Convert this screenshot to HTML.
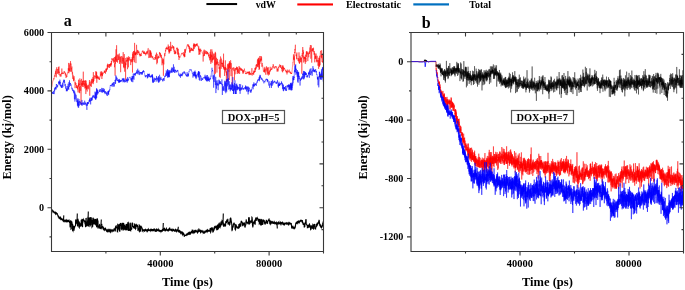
<!DOCTYPE html>
<html><head><meta charset="utf-8"><style>
html,body{margin:0;padding:0;background:#fff;width:685px;height:290px;overflow:hidden}
svg{display:block;will-change:transform}
</style></head><body>
<svg width="685" height="290" viewBox="0 0 685 290">
<rect width="685" height="290" fill="#fff"/>
<path d="M51.50 210.02l.1 -.29 .1 .08 .1 -.05 .1 -.05 .1 .46 .1 .15 .1 -.01 .1 .65 .1 -.36 .1 .16 .1 .25 .1 .25 .1 -.67 .1 .88 .1 .48 .1 -.8 .1 .6 .1 -.24 .1 -.09 .1 .51 .1 -.05 .1 -.56 .1 .6 .1 .56 .1 -.41 .1 .02 .1 .21 .1 .05 .1 .48 .1 -.48 .1 -.04 .1 .64 .1 .22 .1 -.02 .1 .12 .1 -.48 .1 -.25 .1 .31 .1 .28 .1 -.54 .1 .52 .1 .32 .1 -.4 .1 .97 .1 -.39 .1 -.65 .1 .12 .1 .19 .1 .53 .1 -.05 .1 -.31 .1 .29 .1 .26 .1 -.01 .1 -.7 .1 .38 .1 .23 .1 -.08 .1 1.1 .1 -.32 .1 .19 .1 .14 .1 .59 .1 .3 .1 .29 .1 .37 .1 -.58 .1 1.06 .1 .46 .1 -.87 .1 .23 .1 .45 .1 .29 .1 -.35 .1 -.02 .1 1.07 .1 -.83 .1 -.72 .1 1.2 .1 .23 .1 .41 .1 .09 .1 .53 .1 -1.21 .1 -.08 .1 -.1 .1 1.17 .1 -.68 .1 -.37 .1 -.19 .1 .82 .1 -.13 .1 .33 .1 -.35 .1 .15 .1 .48 .1 -.17 .1 .33 .1 -.19 .1 .01 .1 .28 .1 -.01 .1 .24 .1 .02 .1 -.28 .1 .2 .1 .13 .1 .26 .1 -.09 .1 .07 .1 .14 .1 -.21 .1 .29 .1 -.32 .1 -.32 .1 .9 .1 -.77 .1 .71 .1 .64 .1 -.23 .1 -.56 .1 .66 .1 -.12 .1 -.32 .1 .34 .1 -.1 .1 .13 .1 .27 .1 -.6 .1 .87 .1 .46 .1 -.7 .1 -.24 .1 .25 .1 .62 .1 -.6 .1 .34 .1 .4 .1 -1.04 .1 .29 .1 -.24 .1 .25 .1 .17 .1 -.3 .1 .42 .1 -.1 .1 .31 .1 -.16 .1 -.32 .1 .39 .1 -.59 .1 .28 .1 -.34 .1 .73 .1 -.75 .1 .59 .1 -.69 .1 .33 .1 -.44 .1 .1 .1 -.06 .1 .48 .1 .03 .1 .08 .1 .21 .1 -.21 .1 .31 .1 .31 .1 -.67 .1 -.13 .1 .46 .1 .52 .1 -1.05 .1 -.09 .1 -.24 .1 .4 .1 .23 .1 .28 .1 1 .1 .38 .1 -.79 .1 -.38 .1 -.13 .1 -.65 .1 5.53 .1 .3 .1 -.1 .1 -2.71 .1 .81 .1 -1.01 .1 .23 .1 -3.58 .1 .25 .1 .32 .1 8.02 .1 -.09 .1 -.22 .1 .67 .1 -7.73 .1 .46 .1 -.1 .1 .16 .1 .14 .1 -.58 .1 1.29 .1 1.12 .1 .42 .1 .04 .1 -.41 .1 -.3 .1 7.23 .1 -.56 .1 .28 .1 .16 .1 -4.43 .1 -.46 .1 .33 .1 .39 .1 -.48 .1 .56 .1 -.87 .1 3.86 .1 -.3 .1 .25 .1 .84 .1 -.63 .1 -1.44 .1 -.43 .1 .32 .1 -.75 .1 -.91 .1 .58 .1 -1.3 .1 .23 .1 -.15 .1 .11 .1 -.04 .1 -.4 .1 -.53 .1 .64 .1 -5.41 .1 -.53 .1 .05 .1 .09 .1 -.47 .1 .9 .1 .05 .1 1.99 .1 -.46 .1 .27 .1 .43 .1 -.28 .1 -.18 .1 -.21 .1 -.06 .1 .46 .1 -.44 .1 .79 .1 .05 .1 3.3 .1 -.82 .1 .48 .1 .54 .1 -7.06 .1 -.05 .1 .25 .1 .93 .1 .61 .1 -.51 .1 .78 .1 .04 .1 .12 .1 -.24 .1 .1 .1 5.84 .1 .49 .1 -.34 .1 .19 .1 -.44 .1 -2.92 .1 -.41 .1 -.23 .1 .16 .1 -.4 .1 .18 .1 2.42 .1 -.09 .1 .07 .1 -.06 .1 -.35 .1 .12 .1 .61 .1 -.7 .1 -.51 .1 .52 .1 -.16 .1 -5.01 .1 .03 .1 -.38 .1 .5 .1 -.22 .1 .26 .1 -.46 .1 .22 .1 .18 .1 .72 .1 4.79 .1 1.01 .1 -.42 .1 .41 .1 -.55 .1 -7.1 .1 -.01 .1 .6 .1 -.8 .1 .69 .1 -.37 .1 .37 .1 -.38 .1 .21 .1 .78 .1 .05 .1 -.52 .1 -0 .1 .71 .1 -.61 .1 1.22 .1 -.17 .1 -.46 .1 .5 .1 -.01 .1 .65 .1 -1.29 .1 .47 .1 3.24 .1 -.42 .1 -.57 .1 .96 .1 -.17 .1 2.46 .1 -.06 .1 .1 .1 .3 .1 -1.6 .1 -7.26 .1 .33 .1 .24 .1 6.55 .1 .75 .1 -.38 .1 .19 .1 -.07 .1 .02 .1 -.11 .1 -.88 .1 .45 .1 .62 .1 -4.05 .1 .39 .1 -.59 .1 -.96 .1 .74 .1 -3.28 .1 -.4 .1 .07 .1 8.05 .1 .74 .1 -.26 .1 -6.57 .1 .01 .1 -.39 .1 -.24 .1 -.1 .1 6.99 .1 .13 .1 -7.75 .1 -.82 .1 7.76 .1 -.53 .1 -6.8 .1 .46 .1 -.1 .1 -.38 .1 -.05 .1 .6 .1 -.43 .1 -.04 .1 5.91 .1 1.25 .1 -.22 .1 -.44 .1 .6 .1 -.59 .1 -6.96 .1 .32 .1 .32 .1 -.87 .1 .83 .1 3.09 .1 .12 .1 -.34 .1 .23 .1 -.97 .1 .59 .1 6.25 .1 -.15 .1 -.09 .1 -.51 .1 .38 .1 -.53 .1 .53 .1 .21 .1 -8.61 .1 .36 .1 -.16 .1 .32 .1 -.42 .1 -.43 .1 5.97 .1 .19 .1 .27 .1 -3.44 .1 -.28 .1 .31 .1 -.26 .1 .46 .1 -.67 .1 .88 .1 -.3 .1 3.04 .1 -.22 .1 .58 .1 -.39 .1 -4.68 .1 .42 .1 -.54 .1 .05 .1 .14 .1 -.34 .1 .89 .1 4.5 .1 .35 .1 -.09 .1 -.29 .1 .71 .1 -4.28 .1 -.32 .1 .03 .1 -.41 .1 .33 .1 6.21 .1 .04 .1 -.59 .1 .57 .1 .16 .1 -.04 .1 .19 .1 -1.06 .1 -7.15 .1 -.38 .1 3.63 .1 -.46 .1 .32 .1 -.53 .1 -.82 .1 5.53 .1 .01 .1 .26 .1 -.5 .1 .84 .1 .43 .1 -.23 .1 .31 .1 -1.08 .1 .53 .1 .68 .1 -.1 .1 .16 .1 -2.27 .1 -.4 .1 -.09 .1 .91 .1 .23 .1 -.75 .1 1.28 .1 -1.17 .1 .3 .1 .67 .1 1.96 .1 -.04 .1 .43 .1 -.57 .1 .02 .1 1.05 .1 -.48 .1 .22 .1 -.13 .1 -.32 .1 -1.06 .1 .39 .1 -.87 .1 -2.27 .1 -.02 .1 .93 .1 1.49 .1 -.74 .1 .97 .1 -.05 .1 .57 .1 -.78 .1 .39 .1 .35 .1 -.18 .1 .87 .1 -.11 .1 .38 .1 .23 .1 .17 .1 -1.25 .1 .91 .1 .18 .1 -.42 .1 .32 .1 .05 .1 1.11 .1 .06 .1 -.97 .1 .28 .1 .19 .1 .13 .1 -.25 .1 .56 .1 -.88 .1 .65 .1 -.25 .1 .75 .1 -.34 .1 -.32 .1 .44 .1 .37 .1 -.62 .1 -.28 .1 .55 .1 .08 .1 -.19 .1 .33 .1 .2 .1 -.05 .1 .27 .1 -.4 .1 -.41 .1 .78 .1 -.31 .1 .98 .1 -.46 .1 .25 .1 -.61 .1 .35 .1 -.31 .1 -.28 .1 -.17 .1 .45 .1 -.27 .1 .13 .1 -.17 .1 -.16 .1 .85 .1 -.14 .1 -.16 .1 .51 .1 .41 .1 -.69 .1 -.16 .1 .69 .1 -.14 .1 .32 .1 -1.31 .1 .39 .1 -.44 .1 .26 .1 .3 .1 -.16 .1 -.29 .1 -.15 .1 1.07 .1 -.2 .1 -.19 .1 .52 .1 -.36 .1 .88 .1 .26 .1 -.34 .1 .58 .1 -1.41 .1 -.34 .1 .28 .1 -.58 .1 .43 .1 .25 .1 -.04 .1 .05 .1 -.8 .1 .03 .1 .1 .1 -.11 .1 .33 .1 -.47 .1 .11 .1 .85 .1 -.2 .1 -.3 .1 -.01 .1 -.22 .1 -.46 .1 .69 .1 -.64 .1 1.18 .1 -.46 .1 .83 .1 -.71 .1 .15 .1 -.19 .1 -1.29 .1 -.19 .1 -.38 .1 .6 .1 -.36 .1 1.05 .1 -.89 .1 .2 .1 .15 .1 -.09 .1 .42 .1 .31 .1 -.19 .1 .32 .1 .77 .1 -.07 .1 -.76 .1 -2.68 .1 -.57 .1 .01 .1 -.11 .1 -.54 .1 -.11 .1 .32 .1 -1.25 .1 2.02 .1 -.02 .1 .08 .1 .28 .1 .23 .1 -.38 .1 .1 .1 -.75 .1 .56 .1 -.55 .1 4.88 .1 .35 .1 -.69 .1 .11 .1 -6.51 .1 .17 .1 3.53 .1 .1 .1 -2.89 .1 .11 .1 -.53 .1 3.8 .1 -1.23 .1 .68 .1 -.31 .1 -.07 .1 -4.46 .1 .34 .1 -0 .1 .06 .1 6.2 .1 .15 .1 -.47 .1 .7 .1 -.7 .1 1.43 .1 -1.41 .1 -5.76 .1 .29 .1 -.11 .1 .43 .1 .05 .1 -1.62 .1 -.02 .1 -.02 .1 .43 .1 .18 .1 -.11 .1 -.28 .1 .06 .1 5.24 .1 .21 .1 -.45 .1 .42 .1 -.52 .1 .18 .1 .32 .1 -.69 .1 -.61 .1 .21 .1 .33 .1 -5.53 .1 .32 .1 .52 .1 -.59 .1 .58 .1 6.36 .1 -.67 .1 .7 .1 -.04 .1 -5.87 .1 -.27 .1 .03 .1 -.29 .1 -.11 .1 .29 .1 5.66 .1 -.45 .1 .77 .1 -.75 .1 -3.47 .1 -.58 .1 1.01 .1 -.29 .1 .2 .1 .14 .1 .93 .1 -.34 .1 -.39 .1 4.12 .1 -.39 .1 -1.08 .1 .37 .1 -.62 .1 .42 .1 .71 .1 -.52 .1 -4.85 .1 .57 .1 -.1 .1 -.67 .1 .67 .1 -.09 .1 5.44 .1 -.27 .1 .45 .1 -.39 .1 -.11 .1 .49 .1 -.62 .1 .46 .1 -5.23 .1 -.77 .1 .29 .1 .12 .1 -2.25 .1 .43 .1 -.03 .1 -0 .1 -.13 .1 .75 .1 -.78 .1 7.58 .1 .23 .1 .33 .1 -1.12 .1 .09 .1 .08 .1 .25 .1 .42 .1 -.48 .1 .09 .1 -.19 .1 -.65 .1 .16 .1 -5.05 .1 -.43 .1 -.49 .1 -0 .1 .63 .1 -.78 .1 .1 .1 6.96 .1 .2 .1 .13 .1 -.92 .1 -.83 .1 -1.33 .1 .87 .1 1.34 .1 -.47 .1 -.29 .1 -.56 .1 .08 .1 .83 .1 -.43 .1 -4.89 .1 -.53 .1 0 .1 -.47 .1 -.01 .1 .94 .1 -1.1 .1 .71 .1 -.59 .1 3.08 .1 -.06 .1 .33 .1 .05 .1 .28 .1 -.51 .1 .41 .1 -.33 .1 1.01 .1 .49 .1 -.05 .1 -.68 .1 .59 .1 -.68 .1 .27 .1 -.61 .1 -.1 .1 -1.72 .1 -.39 .1 .24 .1 .18 .1 0 .1 -.86 .1 .28 .1 4.48 .1 -.86 .1 .6 .1 .42 .1 -.2 .1 -.12 .1 -.18 .1 .23 .1 -2.54 .1 -1.31 .1 .53 .1 -.09 .1 -.72 .1 .8 .1 -.29 .1 .28 .1 -.48 .1 .68 .1 -.54 .1 1.42 .1 -.34 .1 -.06 .1 -.35 .1 -.08 .1 1.57 .1 -.67 .1 0 .1 3.34 .1 -.12 .1 .22 .1 -.65 .1 -.26 .1 .01 .1 .69 .1 -.34 .1 .18 .1 .05 .1 -.11 .1 .02 .1 -.11 .1 -4.28 .1 .06 .1 5.8 .1 .45 .1 -.19 .1 -1.56 .1 -4.08 .1 .39 .1 -.34 .1 .55 .1 4.01 .1 .63 .1 -.67 .1 .64 .1 -.12 .1 .09 .1 -4.97 .1 .43 .1 .28 .1 -.65 .1 .78 .1 .29 .1 .33 .1 -.01 .1 -.31 .1 1 .1 -.46 .1 .66 .1 .4 .1 -.11 .1 .05 .1 .4 .1 .73 .1 1.77 .1 -.49 .1 .39 .1 .26 .1 .1 .1 -1.42 .1 -.08 .1 .04 .1 -.57 .1 -.38 .1 1.09 .1 -.6 .1 -.41 .1 .43 .1 .62 .1 .51 .1 -.44 .1 -.63 .1 .74 .1 -1.1 .1 1 .1 -.16 .1 .3 .1 -.25 .1 -.08 .1 -.36 .1 -.16 .1 .13 .1 .66 .1 -.6 .1 .18 .1 -.15 .1 .4 .1 -.07 .1 .54 .1 .04 .1 -.36 .1 -.2 .1 -.36 .1 -.48 .1 .58 .1 -.05 .1 .27 .1 .47 .1 .26 .1 -.66 .1 .62 .1 -.17 .1 -.33 .1 .22 .1 -.68 .1 -.33 .1 .04 .1 .48 .1 -.27 .1 .23 .1 -.37 .1 .42 .1 .28 .1 -.86 .1 -.25 .1 .45 .1 .23 .1 .05 .1 -.25 .1 1.17 .1 -.73 .1 -.14 .1 -.73 .1 1.52 .1 -.87 .1 1 .1 -.26 .1 -.13 .1 -.15 .1 .41 .1 -.54 .1 .34 .1 -.3 .1 .07 .1 -.26 .1 -.15 .1 -.72 .1 .03 .1 .32 .1 -.06 .1 .23 .1 .44 .1 -.23 .1 .67 .1 -.37 .1 .32 .1 -.55 .1 .85 .1 -.43 .1 -.77 .1 .05 .1 -.69 .1 .81 .1 -.43 .1 .52 .1 .54 .1 .48 .1 -.85 .1 .8 .1 -1.33 .1 .46 .1 -.32 .1 .31 .1 .67 .1 -.51 .1 -.77 .1 1.05 .1 -.37 .1 -.4 .1 -.12 .1 .37 .1 -.08 .1 .41 .1 -.45 .1 .13 .1 -.3 .1 .46 .1 -.77 .1 .83 .1 .71 .1 -.03 .1 -.24 .1 .79 .1 -1.1 .1 .84 .1 .04 .1 -.97 .1 .08 .1 .1 .1 -.32 .1 .02 .1 .04 .1 -.56 .1 -.17 .1 .94 .1 -.19 .1 -.06 .1 .19 .1 -.46 .1 .07 .1 .53 .1 -.42 .1 .19 .1 .22 .1 .25 .1 -.93 .1 .13 .1 -.29 .1 .58 .1 .44 .1 -.36 .1 .77 .1 -.92 .1 -.46 .1 .32 .1 .98 .1 -1.05 .1 .31 .1 -.26 .1 -.08 .1 .81 .1 -.82 .1 .4 .1 .38 .1 .04 .1 .4 .1 -.1 .1 .41 .1 -1.03 .1 .24 .1 -0 .1 .15 .1 -.82 .1 .98 .1 -.88 .1 .66 .1 -.18 .1 .1 .1 .83 .1 -.36 .1 -.92 .1 1.14 .1 -.21 .1 -.41 .1 -.46 .1 -.04 .1 0 .1 .22 .1 -.36 .1 .64 .1 -.49 .1 -.16 .1 .17 .1 .14 .1 .36 .1 -.18 .1 -.55 .1 -.89 .1 -.15 .1 .47 .1 .31 .1 .67 .1 -.05 .1 -.18 .1 .02 .1 -.14 .1 .59 .1 -1.84 .1 .09 .1 .65 .1 -.33 .1 .33 .1 -.41 .1 .28 .1 -.15 .1 -.56 .1 .62 .1 .22 .1 -.51 .1 .16 .1 .27 .1 .32 .1 -.41 .1 .41 .1 -.96 .1 .82 .1 -.93 .1 1.01 .1 -.3 .1 .67 .1 -.12 .1 -.83 .1 -.31 .1 1.69 .1 -1.45 .1 -.48 .1 .27 .1 .16 .1 .72 .1 .33 .1 -.14 .1 -.34 .1 .57 .1 -.84 .1 1.01 .1 -.05 .1 -.5 .1 -.58 .1 .32 .1 .18 .1 .75 .1 -.1 .1 -.82 .1 -.04 .1 -.03 .1 .62 .1 -.32 .1 .44 .1 -.21 .1 -.21 .1 -.94 .1 -.21 .1 .77 .1 -.6 .1 .71 .1 -.82 .1 -.31 .1 .9 .1 -.21 .1 .53 .1 -.09 .1 -.08 .1 .34 .1 -.52 .1 .46 .1 .65 .1 -.77 .1 -.39 .1 1.13 .1 -.25 .1 .18 .1 .71 .1 -.91 .1 -1.19 .1 .62 .1 -.12 .1 .64 .1 -.14 .1 -.52 .1 .44 .1 -.28 .1 .73 .1 .03 .1 -.18 .1 .02 .1 .65 .1 -.12 .1 -.82 .1 .02 .1 -.38 .1 .23 .1 .19 .1 .39 .1 -.46 .1 -.05 .1 .39 .1 .64 .1 -.43 .1 .19 .1 .06 .1 -.05 .1 .38 .1 .31 .1 -.69 .1 .14 .1 -.09 .1 .33 .1 .71 .1 -1.81 .1 .33 .1 -.33 .1 -.21 .1 .23 .1 .1 .1 -.12 .1 .86 .1 .08 .1 -.22 .1 .77 .1 -.35 .1 -.17 .1 -.13 .1 .36 .1 -.38 .1 -.53 .1 .33 .1 .58 .1 -.48 .1 .16 .1 -.37 .1 -.11 .1 -.35 .1 .01 .1 -.04 .1 .24 .1 -.3 .1 .25 .1 .08 .1 -.24 .1 -.32 .1 .85 .1 -.56 .1 -.23 .1 1.6 .1 .01 .1 .42 .1 .09 .1 -1.19 .1 .59 .1 .32 .1 -1.35 .1 .88 .1 -.25 .1 -.33 .1 .07 .1 .32 .1 .64 .1 1.26 .1 -1.13 .1 .73 .1 -1.72 .1 .55 .1 .91 .1 .34 .1 .04 .1 .37 .1 -.3 .1 .59 .1 -.19 .1 -1.63 .1 .91 .1 -.13 .1 -.09 .1 .19 .1 .3 .1 -.2 .1 -.08 .1 .06 .1 -.05 .1 .09 .1 2.24 .1 -.23 .1 .25 .1 -.58 .1 -1.85 .1 .53 .1 .37 .1 -.3 .1 .29 .1 1.25 .1 .56 .1 -1.69 .1 .21 .1 .28 .1 -.43 .1 -.06 .1 .14 .1 1.87 .1 -.26 .1 .54 .1 -.13 .1 .26 .1 -.26 .1 .18 .1 -.1 .1 -.86 .1 1.21 .1 -.13 .1 -.38 .1 -.22 .1 .03 .1 .66 .1 -.41 .1 -.14 .1 .03 .1 -.26 .1 .86 .1 -.66 .1 .32 .1 .03 .1 .04 .1 -.22 .1 .31 .1 -1.75 .1 .91 .1 -1.32 .1 .76 .1 .49 .1 -1.13 .1 .79 .1 1.04 .1 -.9 .1 -.17 .1 -.77 .1 .27 .1 -.13 .1 -.29 .1 -.08 .1 1.03 .1 -.36 .1 .52 .1 -.08 .1 -.95 .1 -.3 .1 -.27 .1 -.12 .1 .91 .1 -1.46 .1 1.31 .1 1.18 .1 -.47 .1 -.38 .1 .06 .1 .1 .1 -2.39 .1 .34 .1 .29 .1 -.08 .1 1.51 .1 -.37 .1 -.24 .1 -.12 .1 .39 .1 -.25 .1 .14 .1 -.82 .1 .87 .1 -.9 .1 .81 .1 -.78 .1 -.27 .1 1.28 .1 -.67 .1 -1.2 .1 .03 .1 1.66 .1 -1.03 .1 -.27 .1 -.57 .1 -.36 .1 .33 .1 .36 .1 -.21 .1 .51 .1 .47 .1 .14 .1 -.57 .1 -.78 .1 .17 .1 -.23 .1 -.65 .1 .17 .1 1.37 .1 -.13 .1 .39 .1 -.31 .1 -.06 .1 .08 .1 -.31 .1 -.15 .1 .05 .1 -.19 .1 .31 .1 -.19 .1 -.2 .1 .9 .1 -.42 .1 -.47 .1 .95 .1 -.17 .1 -.41 .1 -1.9 .1 .21 .1 .69 .1 -.36 .1 -.09 .1 1.63 .1 -.35 .1 .03 .1 .6 .1 -.77 .1 .09 .1 -.05 .1 .16 .1 -.07 .1 -.55 .1 -.1 .1 .65 .1 -.51 .1 .55 .1 -.7 .1 .57 .1 .52 .1 -.2 .1 -.06 .1 -.02 .1 -.43 .1 .89 .1 -.23 .1 -2 .1 -.24 .1 .79 .1 -.21 .1 .54 .1 -.1 .1 1.21 .1 -.27 .1 -.49 .1 .57 .1 -.36 .1 -.8 .1 .34 .1 .66 .1 -.92 .1 .9 .1 -1.42 .1 -.24 .1 .39 .1 -.03 .1 .53 .1 -1.03 .1 .41 .1 .01 .1 1.42 .1 .41 .1 -.21 .1 .19 .1 -.54 .1 .48 .1 -.59 .1 .25 .1 .3 .1 -.1 .1 -1.26 .1 .29 .1 -.12 .1 .03 .1 -.11 .1 .33 .1 1.04 .1 -.55 .1 .41 .1 -.02 .1 .1 .1 -.47 .1 -.94 .1 .35 .1 .46 .1 -.71 .1 .71 .1 -.32 .1 .07 .1 1.58 .1 -.17 .1 .05 .1 .32 .1 -.06 .1 -.44 .1 .1 .1 -.72 .1 .26 .1 .42 .1 .03 .1 -.46 .1 .09 .1 -.12 .1 -.13 .1 .4 .1 -.3 .1 .67 .1 -1.3 .1 .09 .1 .12 .1 .41 .1 -.11 .1 -.39 .1 -.86 .1 1.12 .1 -.65 .1 1.01 .1 -.47 .1 -.65 .1 .13 .1 .61 .1 -1.26 .1 -.3 .1 -.02 .1 .79 .1 -.24 .1 .63 .1 -.38 .1 .29 .1 -.56 .1 -.18 .1 1.44 .1 -.42 .1 -.23 .1 .19 .1 .35 .1 -.61 .1 -.11 .1 -.53 .1 -.63 .1 .46 .1 .33 .1 -.14 .1 -.04 .1 .05 .1 .1 .1 .14 .1 -.1 .1 -.47 .1 1.23 .1 -.53 .1 .16 .1 .06 .1 .39 .1 -.41 .1 .43 .1 -.61 .1 -2.66 .1 .24 .1 -.02 .1 .18 .1 3.13 .1 .34 .1 -.37 .1 -.33 .1 .81 .1 -3.6 .1 -.34 .1 .05 .1 .41 .1 -.21 .1 -.07 .1 .24 .1 -.77 .1 -.64 .1 .88 .1 -.49 .1 .01 .1 .2 .1 -.33 .1 1.12 .1 -.21 .1 .13 .1 .07 .1 3.17 .1 .13 .1 -.06 .1 -.79 .1 .05 .1 -.2 .1 .42 .1 -.12 .1 -.59 .1 -.25 .1 .49 .1 -2.99 .1 -.18 .1 .01 .1 -.19 .1 -.45 .1 -.14 .1 .85 .1 .23 .1 -.22 .1 .24 .1 -.41 .1 -.39 .1 -.32 .1 -.29 .1 -.2 .1 .14 .1 .58 .1 .45 .1 -.57 .1 .14 .1 -1 .1 .99 .1 -.75 .1 -.35 .1 -.53 .1 .38 .1 .8 .1 -.34 .1 3.55 .1 -.49 .1 .32 .1 -.05 .1 -.15 .1 -.49 .1 .06 .1 .04 .1 -2.77 .1 -1.79 .1 1.19 .1 -.15 .1 -.46 .1 .14 .1 -.27 .1 4.23 .1 -.51 .1 -.59 .1 -2.5 .1 -.45 .1 -1.21 .1 .76 .1 -.65 .1 .18 .1 -.64 .1 -.13 .1 4.06 .1 -.92 .1 .02 .1 .16 .1 .16 .1 -3.38 .1 .26 .1 -.06 .1 -.55 .1 2.7 .1 .35 .1 -.33 .1 .56 .1 -1.25 .1 .74 .1 -1.34 .1 -3.13 .1 .37 .1 -.54 .1 .3 .1 .42 .1 -.71 .1 .38 .1 -.19 .1 3.39 .1 -.85 .1 .1 .1 -.95 .1 -2.63 .1 .13 .1 .33 .1 -.61 .1 1.87 .1 .53 .1 .06 .1 -1.74 .1 .85 .1 .45 .1 -.18 .1 -.4 .1 3.42 .1 -.68 .1 .8 .1 -.1 .1 .22 .1 -.34 .1 .92 .1 -.37 .1 -.79 .1 -.2 .1 -.77 .1 .06 .1 1.22 .1 .17 .1 .12 .1 -.61 .1 .27 .1 -.17 .1 -.1 .1 .16 .1 .84 .1 -.57 .1 .79 .1 -1.06 .1 -4.13 .1 .31 .1 0 .1 1.42 .1 -.75 .1 .36 .1 .46 .1 -.39 .1 -.17 .1 -1.72 .1 -.31 .1 -.11 .1 -.32 .1 .54 .1 -.45 .1 -.14 .1 1.79 .1 -.27 .1 -.54 .1 .37 .1 -.36 .1 -.09 .1 -.19 .1 3.77 .1 -.82 .1 .36 .1 .55 .1 -.99 .1 .61 .1 -.34 .1 -.35 .1 .29 .1 -.58 .1 .37 .1 -.24 .1 .55 .1 -.89 .1 .87 .1 .27 .1 .08 .1 .54 .1 -.19 .1 -.52 .1 -.38 .1 -4.66 .1 -.32 .1 -.2 .1 .38 .1 .31 .1 -.45 .1 .36 .1 -1.13 .1 .91 .1 .51 .1 .43 .1 3.04 .1 -2.06 .1 1.34 .1 .39 .1 .93 .1 .38 .1 1.08 .1 5.24 .1 .28 .1 -.23 .1 -.37 .1 .21 .1 -.03 .1 -2.54 .1 -1.23 .1 .79 .1 -.53 .1 .09 .1 -.55 .1 .58 .1 .07 .1 -1.74 .1 .09 .1 -.72 .1 -.38 .1 -.82 .1 .29 .1 -.13 .1 .5 .1 -.65 .1 .49 .1 .32 .1 -.08 .1 .1 .1 .56 .1 -.54 .1 .43 .1 .2 .1 4.65 .1 .05 .1 -.16 .1 .23 .1 -.91 .1 .97 .1 -.17 .1 -.22 .1 -3.81 .1 -.25 .1 .02 .1 -.31 .1 .71 .1 .73 .1 -.33 .1 .25 .1 1.46 .1 -.3 .1 -.08 .1 -.01 .1 .16 .1 -.04 .1 .27 .1 -.3 .1 .6 .1 -.64 .1 .92 .1 -.67 .1 .05 .1 .44 .1 0 .1 -.6 .1 .75 .1 0 .1 -1.37 .1 1.97 .1 -.57 .1 -.09 .1 -2.74 .1 -1.23 .1 3.81 .1 .42 .1 -.55 .1 -.13 .1 -.59 .1 -1.74 .1 -.2 .1 -1.14 .1 -.43 .1 2.76 .1 .56 .1 -1.54 .1 .71 .1 -.14 .1 -.34 .1 1.12 .1 -.38 .1 -.17 .1 .47 .1 -3.41 .1 -.63 .1 .21 .1 -.38 .1 -.04 .1 -.26 .1 .5 .1 .31 .1 -.78 .1 -.07 .1 .84 .1 -.43 .1 -.33 .1 .78 .1 -.32 .1 2.7 .1 .13 .1 -.23 .1 1.22 .1 -1.75 .1 .57 .1 .37 .1 -.03 .1 -2.9 .1 .33 .1 .11 .1 .54 .1 .13 .1 .03 .1 -.47 .1 .45 .1 -.22 .1 -.24 .1 -0 .1 .38 .1 -.09 .1 -.28 .1 -.11 .1 3.1 .1 .86 .1 -.55 .1 .16 .1 .3 .1 -.16 .1 -.97 .1 -.33 .1 -.49 .1 -0 .1 -.11 .1 -.03 .1 -.63 .1 -3.55 .1 -.11 .1 -.41 .1 -.79 .1 3.2 .1 .7 .1 -1.02 .1 .49 .1 .74 .1 -1.21 .1 .07 .1 .75 .1 -.68 .1 .1 .1 -.59 .1 .34 .1 1.31 .1 -.6 .1 -.18 .1 .21 .1 .38 .1 .24 .1 -.12 .1 .07 .1 -.81 .1 .3 .1 -5.61 .1 1.17 .1 -.77 .1 .05 .1 .73 .1 -.35 .1 -.44 .1 -.01 .1 5.32 .1 .41 .1 .73 .1 -1.56 .1 .97 .1 -.1 .1 -1.45 .1 -.89 .1 -.09 .1 -.42 .1 .53 .1 .65 .1 .05 .1 -.36 .1 -.25 .1 .2 .1 -.02 .1 .2 .1 .18 .1 -.04 .1 -.4 .1 .37 .1 -.15 .1 -.32 .1 .37 .1 -4.69 .1 .08 .1 .68 .1 .96 .1 .84 .1 4.33 .1 1.46 .1 .49 .1 .21 .1 1.27 .1 -1.74 .1 .87 .1 -.97 .1 -1.55 .1 -.79 .1 .35 .1 -1.19 .1 -.06 .1 .48 .1 -.22 .1 .56 .1 -.85 .1 .12 .1 -.85 .1 .01 .1 -.74 .1 -.43 .1 .83 .1 3.05 .1 -.52 .1 -.63 .1 .56 .1 .05 .1 .88 .1 -5.57 .1 .35 .1 -.36 .1 -.38 .1 .25 .1 -.24 .1 -.16 .1 1.81 .1 .47 .1 -.33 .1 -.33 .1 -1.62 .1 -.05 .1 -.04 .1 .05 .1 -.37 .1 .7 .1 -.94 .1 .32 .1 -.23 .1 .4 .1 -0 .1 .39 .1 -.55 .1 .65 .1 -.62 .1 1.08 .1 .5 .1 .66 .1 .16 .1 -.88 .1 1.16 .1 -.65 .1 -.74 .1 .76 .1 -.37 .1 .59 .1 -1.23 .1 -.37 .1 1.09 .1 3.97 .1 -.11 .1 -4.36 .1 .68 .1 -.6 .1 .39 .1 -.53 .1 .01 .1 .31 .1 .82 .1 -.18 .1 -.2 .1 -.39 .1 5.05 .1 .09 .1 -.75 .1 .43 .1 .79 .1 -1.16 .1 .56 .1 -5.34 .1 .05 .1 .46 .1 3.03 .1 .57 .1 -.29 .1 .4 .1 -.69 .1 -1.25 .1 -.42 .1 -.19 .1 3.81 .1 -3.89 .1 1.06 .1 1.3 .1 .71 .1 .4 .1 -5.33 .1 .68 .1 -.36 .1 1.08 .1 .12 .1 -.61 .1 .81 .1 -.43 .1 .84 .1 -.57 .1 .06 .1 -.06 .1 1 .1 -1.18 .1 1.99 .1 1.19 .1 -.31 .1 .28 .1 .12 .1 .11 .1 -.45 .1 .08 .1 -1.17 .1 .1 .1 -.99 .1 1.17 .1 -1.08 .1 1.64 .1 .34 .1 -.6 .1 0 .1 .73 .1 -2.92 .1 -1.04 .1 .49 .1 .16 .1 .37 .1 .61 .1 .18 .1 -.17 .1 .13 .1 .65 .1 -.7 .1 -.06 .1 1.73 .1 .16 .1 -.12 .1 -2.09 .1 -.1 .1 -.15 .1 .51 .1 -.79 .1 .61 .1 -.95 .1 -.24 .1 -.03 .1 .15 .1 .45 .1 .05 .1 -.8 .1 .15 .1 -.26 .1 .58 .1 .09 .1 -.12 .1 -.12 .1 .05 .1 2.57 .1 .78 .1 -.05 .1 -.17 .1 -.26 .1 -.24 .1 -1.8 .1 .21 .1 -.58 .1 1.03 .1 .25 .1 2.02 .1 -.16 .1 -.58 .1 -.14 .1 -1.02 .1 .31 .1 .07 .1 -.92 .1 .84 .1 -.43 .1 .17 .1 -.12 .1 .41 .1 -.48 .1 .92 .1 -.53 .1 .89 .1 -.05 .1 -.42 .1 -.6 .1 -.17 .1 .47 .1 -.04 .1 .44 .1 .09 .1 .37 .1 -.61 .1 .38 .1 .09 .1 .69 .1 -.73 .1 -1.01 .1 .69 .1 -.32 .1 -.25 .1 .45 .1 -.48 .1 .71 .1 -.23 .1 -.08 .1 .11 .1 .74 .1 -.81 .1 -.04 .1 .39 .1 .27 .1 -.12 .1 .3 .1 -.93 .1 .74 .1 .47 .1 -.03 .1 -1.17 .1 .27 .1 .28 .1 -.37 .1 .28 .1 .36 .1 -.78 .1 .88 .1 -.24 .1 -.06 .1 -.05 .1 -.66 .1 .73 .1 -.31 .1 .13 .1 -.4 .1 .94 .1 -.07 .1 .59 .1 .29 .1 -.72 .1 -.91 .1 .99 .1 .46 .1 -1.12 .1 .19 .1 -.25 .1 .62 .1 .74 .1 -.45 .1 -.97 .1 .11 .1 .65 .1 -.29 .1 -.49 .1 .71 .1 -.41 .1 .47 .1 .05 .1 -.09 .1 -.47 .1 -.75 .1 .24 .1 -.13 .1 .58 .1 .05 .1 -.33 .1 1.27 .1 .22 .1 -.85 .1 .2 .1 .83 .1 -1.57 .1 -.12 .1 .21 .1 .17 .1 -.68 .1 .53 .1 .35 .1 -.48 .1 -.15 .1 .51 .1 -.6 .1 -.15 .1 .39 .1 .31 .1 -.34 .1 -.82 .1 .65 .1 .4 .1 .47 .1 -.62 .1 1.93 .1 -1.23 .1 .18 .1 .23 .1 -.74 .1 -.37 .1 1.28 .1 -.33 .1 .29 .1 -.72 .1 -.13 .1 .02 .1 .58 .1 -.15 .1 1.29 .1 -1.33 .1 .81 .1 -.19 .1 -.35 .1 -.01 .1 -.24 .1 -.61 .1 -.46 .1 .41 .1 .71 .1 -.28 .1 -.88 .1 .54 .1 .07 .1 -.34 .1 .88 .1 -1.03 .1 .8 .1 .48 .1 -.09 .1 -.99 .1 .1 .1 .03 .1 .04 .1 .35 .1 -.1 .1 .45 .1 -.84 .1 .37 .1 .29 .1 -.26 .1 -.82 .1 .69 .1 .03 .1 .54 .1 -.35 .1 .59 .1 -.23 .1 -.32 .1 .46 .1 -.21 .1 -.15 .1 .2 .1 -.14 .1 .38 .1 -.21 .1 .57 .1 -.41 .1 .31 .1 -1.41 .1 .11 .1 .19 .1 .36 .1 .06 .1 -.27 .1 .03 .1 .12 .1 .08 .1 .08 .1 -.94 .1 .88 .1 -.33 .1 .06 .1 -.3 .1 .96 .1 .57 .1 .42 .1 -.21 .1 .94 .1 1.41 .1 -.18 .1 -.03 .1 1.35 .1 -.65 .1 .52 .1 -.55 .1 .81 .1 -.66 .1 -.56 .1 .23 .1 -.36 .1 .07 .1 .33 .1 -.15 .1 -.46 .1 .26 .1 1.62 .1 -1.8 .1 .65 .1 .66 .1 -1.18 .1 .53 .1 -.27 .1 -.37 .1 .59 .1 -.23 .1 -.27 .1 .72 .1 .59 .1 -.16 .1 -.33 .1 -.23 .1 .06 .1 -.09 .1 -.52 .1 .16 .1 -.95 .1 .06 .1 -.57 .1 -1.34 .1 -.64 .1 -.69 .1 -.47 .1 1.14 .1 -.34 .1 -.55 .1 .35 .1 -.47 .1 .15 .1 -.33 .1 -.01 .1 -.08 .1 .47 .1 .25 .1 -.44 .1 -.79 .1 -.26 .1 -.12 .1 .25 .1 -.62 .1 1.56 .1 -.13 .1 -.17 .1 -.16 .1 -.22 .1 .72 .1 -1.37 .1 -.17 .1 -.17 .1 .18 .1 .16 .1 .64 .1 .32 .1 -.41 .1 -.16 .1 .42 .1 -.47 .1 .86 .1 -1.11 .1 .37 .1 -.26 .1 .36 .1 -.54 .1 -.66 .1 -.5 .1 .63 .1 -.11 .1 .17 .1 -.54 .1 .03 .1 -.07 .1 -.08 .1 .14 .1 .48 .1 -.35 .1 .44 .1 -.94 .1 .98 .1 -.3 .1 .23 .1 -.77 .1 1.78 .1 -1.21 .1 -.08 .1 -.6 .1 .33 .1 .95 .1 -1.02 .1 1.88 .1 .52 .1 .2 .1 .11 .1 .36 .1 -.2 .1 -.26 .1 .21 .1 .55 .1 1.27 .1 -1.52 .1 .28 .1 .53 .1 .1 .1 -.16 .1 -.35 .1 -.56 .1 4.12 .1 -1.13 .1 .27 .1 -.17 .1 -.45 .1 .08 .1 .06 .1 -1.42 .1 -.9 .1 -.55 .1 .18 .1 -.52 .1 -.2 .1 .21 .1 .07 .1 -2.94 .1 -.19 .1 .09 .1 -.41 .1 -.38 .1 4.2 .1 .31 .1 .9 .1 -.72 .1 .65 .1 -.66 .1 1.03 .1 .11 .1 .14 .1 .83 .1 -.28 .1 1.03 .1 -.17 .1 .1 .1 .08 .1 1.23 .1 -.31 .1 -2.39 .1 .5 .1 -.86 .1 .27 .1 .23 .1 -.47 .1 1.56 .1 .94 .1 -.55 .1 -.21 .1 .19 .1 .72 .1 -.85 .1 -2.16 .1 -.17 .1 .81 .1 -.17 .1 .34 .1 -.23 .1 .68 .1 .35 .1 -.14 .1 -.27 .1 .17 .1 .44 .1 -.45 .1 2.29 .1 -.16 .1 .42 .1 .72 .1 -.2 .1 .1 .1 -.3 .1 -1.13 .1 -2.42 .1 2.46 .1 .02 .1 -.03 .1 -.35 .1 -.09 .1 .96 .1 -.4 .1 .09 .1 -1.92 .1 .22 .1 .17 .1 -.3 .1 -.18 .1 .51 .1 -1.39 .1 -.66 .1 .11 .1 .79 .1 3.25 .1 0 .1 .03 .1 .4 .1 -.11 .1 .35 .1 -3.17 .1 .18 .1 .25 .1 -.01 .1 -.32 .1 -1.39 .1 -.14 .1 .22 .1 -.32 .1 .81 .1 -.44 .1 -.03 .1 3.18 .1 .48 .1 .19 .1 -.01 .1 -.93 .1 .85 .1 .13 .1 -1.26 .1 .28 .1 -.93 .1 .27 .1 -.2 .1 .02 .1 -.42 .1 -.41 .1 -1.78 .1 0 .1 .72 .1 .21 .1 -.68 .1 .13 .1 .14 .1 -.67 .1 .21 .1 -.56 .1 .6 .1 .81 .1 -2.06 .1 -.14 .1 .99 .1 -.56 .1 -.21 .1 -.06 .1 .4 .1 -.58 .1 -.63 .1 .96 .1 -2.35 .1 -.32 .1 -.4 .1 -.48 .1 1.38 .1 -1.11 .1 1.48 .1 .24 .1 2.64 .1 .23 .1 .47 .1 -.02 .1 .61 .1 .23 .1 .08 .1 .31 .1 -.58 .1 .79 .1 -.58 .1 .57 .1 .87 .1 -.46 .1 -1.7 .1 .18 .1 1.77 .1 .46 .1 .11 .1 -.53 .1 .26 .1 -.3 .1 -.21 .1 -.85 .1 1.11 .1 -.23 .1 -.01 .1 -.18 .1 -.69 .1 -.03 .1 -.38 .1 .38 .1 -3.08 .1 .6 .1 -.29 .1 -.9 .1 .48 .1 -.56 .1 -1.13 .1 .75 .1 -.8M63.5 220.2L63.8 215.4M77.0 223.0L77.3 213.4M88.0 222.2L88.3 211.6M101.0 225.0L101.3 219.5M163.0 230.1L163.3 223.1M178.0 231.0L178.3 226.7M223.0 223.6L223.3 213.4M277.0 223.0L277.3 228.5" fill="none" stroke="#000" stroke-width="1.1"/>
<path d="M51.50 87.72l.15 -.39 .15 -.31 .15 -.76 .15 -.81 .15 -1.04 .15 -1.18 .15 -.73 .15 -.57 .15 -1.17 .15 -.27 .15 -.01 .15 -.58 .15 -.09 .15 -1.54 .15 .23 .15 .34 .15 .51 .15 -.27 .15 -2.44 .15 .3 .15 -.23 .15 -1.92 .15 1.55 .15 .25 .15 -3.55 .15 .48 .15 -2.29 .15 3.12 .15 -4.06 .15 -.82 .15 .41 .15 7.45 .15 -4.26 .15 -5.45 .15 -.38 .15 2.65 .15 -.31 .15 -.08 .15 4.37 .15 -.92 .15 .02 .15 -3.94 .15 2.08 .15 2.05 .15 -2.77 .15 -3.28 .15 3.3 .15 4.15 .15 -.81 .15 -7.29 .15 6.38 .15 -1.19 .15 .78 .15 .87 .15 .96 .15 1.16 .15 -1.36 .15 2.59 .15 -2.05 .15 .42 .15 -.29 .15 .1 .15 .28 .15 1.42 .15 -2.9 .15 -.56 .15 -.09 .15 1.36 .15 -5.81 .15 5.23 .15 -.27 .15 -.32 .15 .28 .15 -.84 .15 .77 .15 .67 .15 -1.24 .15 -.32 .15 .24 .15 .41 .15 .22 .15 .66 .15 -.9 .15 -1.88 .15 -.25 .15 .8 .15 .9 .15 -.92 .15 .44 .15 .37 .15 .4 .15 2.38 .15 -1.18 .15 -1.35 .15 2.46 .15 1.07 .15 1.68 .15 -3.56 .15 .2 .15 1.4 .15 .94 .15 -.69 .15 .42 .15 -1.57 .15 -.26 .15 -1.57 .15 .06 .15 -.26 .15 -.74 .15 -.58 .15 .94 .15 -4.62 .15 2.5 .15 -7.73 .15 9.42 .15 .95 .15 -3.31 .15 -1.36 .15 -.09 .15 2.52 .15 -6.44 .15 7.13 .15 -8.56 .15 .48 .15 1.04 .15 -1.47 .15 -2.11 .15 10.55 .15 -5.69 .15 -2.45 .15 4.5 .15 1.23 .15 -.91 .15 3.35 .15 -2.56 .15 -2.65 .15 5.56 .15 .92 .15 1.59 .15 -2.74 .15 1.89 .15 5.24 .15 -4.08 .15 .75 .15 1.74 .15 1.21 .15 2.67 .15 -3.71 .15 2.99 .15 -4.46 .15 1.92 .15 1.06 .15 .88 .15 .36 .15 .15 .15 .01 .15 7.73 .15 -6.24 .15 1.79 .15 .97 .15 .13 .15 -1.11 .15 -.72 .15 1.08 .15 1.6 .15 2.09 .15 -2.75 .15 2.11 .15 .99 .15 -.92 .15 1.04 .15 -1.64 .15 .22 .15 2.55 .15 -3.61 .15 2.64 .15 4.05 .15 -7.24 .15 1.25 .15 -6.72 .15 6.74 .15 -3.37 .15 1.79 .15 -.92 .15 8.61 .15 -4.73 .15 -1.12 .15 6.48 .15 -14.78 .15 6.59 .15 -4.81 .15 7.66 .15 1.16 .15 1.68 .15 .15 .15 -5.13 .15 18.72 .15 -18.33 .15 -2.97 .15 -4.28 .15 7.24 .15 -2.86 .15 1.62 .15 -1.95 .15 2.39 .15 -4.4 .15 5.99 .15 -2.79 .15 -3.24 .15 1.85 .15 -2.94 .15 -8.11 .15 12.98 .15 -1.75 .15 4.18 .15 -6.64 .15 1.85 .15 -1.38 .15 1.35 .15 3.36 .15 -2.27 .15 5.14 .15 -7.79 .15 1.43 .15 1.38 .15 2.67 .15 1.67 .15 -7.7 .15 13.9 .15 -13.22 .15 6.25 .15 2.71 .15 -5.94 .15 -.28 .15 5.48 .15 -3.22 .15 2.83 .15 2.87 .15 -4.72 .15 -.68 .15 -.76 .15 3.15 .15 -.59 .15 .06 .15 -3.2 .15 .74 .15 2.35 .15 1.45 .15 -3.99 .15 -.91 .15 -.87 .15 -1.21 .15 -2.3 .15 3.9 .15 11.82 .15 -13.77 .15 2.29 .15 .85 .15 -.61 .15 1.64 .15 -2.22 .15 -2.63 .15 -.65 .15 -.08 .15 1.44 .15 4.81 .15 -8.01 .15 3.79 .15 .85 .15 -.4 .15 -.98 .15 -.7 .15 -1.51 .15 -.89 .15 4.09 .15 -5.92 .15 4.16 .15 2.83 .15 -12.04 .15 9.86 .15 -2.6 .15 .49 .15 .82 .15 -1.8 .15 -3.15 .15 -.45 .15 .81 .15 .68 .15 -.33 .15 2.46 .15 -2.76 .15 .46 .15 .15 .15 -1.03 .15 -.29 .15 -4.33 .15 6.98 .15 -6.31 .15 6.05 .15 .48 .15 -6.07 .15 10.55 .15 -5.78 .15 1.65 .15 -3.32 .15 2.89 .15 -1.74 .15 .75 .15 .31 .15 .88 .15 -2.11 .15 .53 .15 1.77 .15 -1.05 .15 .52 .15 1.49 .15 -1.33 .15 -.61 .15 .96 .15 1.38 .15 -2.1 .15 .22 .15 -1.52 .15 .27 .15 -.66 .15 -4.57 .15 3.92 .15 .59 .15 -1.98 .15 .39 .15 -1.06 .15 -.1 .15 1.89 .15 -3.99 .15 3.45 .15 4.28 .15 -7.1 .15 4.31 .15 -3.14 .15 2.44 .15 -.79 .15 -.06 .15 -1.32 .15 -.58 .15 .17 .15 .53 .15 -.8 .15 .1 .15 -.27 .15 -.28 .15 .11 .15 -1.64 .15 1.11 .15 .84 .15 -2 .15 2.16 .15 -1.56 .15 .29 .15 1.14 .15 1.05 .15 -2.41 .15 .24 .15 -2.87 .15 2.3 .15 -2.13 .15 2.92 .15 -3.21 .15 .64 .15 .56 .15 -.7 .15 -1.7 .15 -2.5 .15 4.6 .15 -5.72 .15 .92 .15 2.31 .15 -2.41 .15 -.01 .15 -.03 .15 2.27 .15 -.1 .15 -.2 .15 1.28 .15 -3.65 .15 1.71 .15 2.03 .15 -3.25 .15 1.09 .15 -1.72 .15 .97 .15 .33 .15 -1.37 .15 2.59 .15 -3.05 .15 1.27 .15 -1.46 .15 3.27 .15 -1.8 .15 -3.67 .15 3.56 .15 -3.31 .15 .51 .15 -3.74 .15 2.11 .15 -.84 .15 -.08 .15 -.44 .15 .96 .15 .27 .15 .78 .15 .27 .15 -1.42 .15 .37 .15 -2 .15 4.64 .15 -1.46 .15 -1.13 .15 1.94 .15 -5.06 .15 10.26 .15 -3.21 .15 -.21 .15 -.61 .15 12.48 .15 -18.51 .15 1.85 .15 4.61 .15 -7.87 .15 4.53 .15 -11.01 .15 10.91 .15 .64 .15 .88 .15 -16.5 .15 14.59 .15 1.83 .15 -2.49 .15 .4 .15 .8 .15 2.27 .15 -1.84 .15 -6.08 .15 5.09 .15 -5.35 .15 1.94 .15 1.52 .15 2.15 .15 -3.13 .15 -.33 .15 .69 .15 -1.27 .15 -2.49 .15 10.4 .15 -4.4 .15 -2.9 .15 .21 .15 4.49 .15 .92 .15 -5.17 .15 3.83 .15 11.33 .15 -16.2 .15 .05 .15 .16 .15 .09 .15 -.17 .15 6.14 .15 1.25 .15 -5.86 .15 -1.31 .15 -.08 .15 .48 .15 2.58 .15 4.38 .15 -6.09 .15 3.69 .15 -2.47 .15 -6.74 .15 6.86 .15 8.16 .15 -9.29 .15 3.17 .15 7.19 .15 -6.37 .15 -7.76 .15 1.63 .15 9.07 .15 6.9 .15 -10.05 .15 1.65 .15 4.36 .15 -2.9 .15 -1.53 .15 16.64 .15 -21.91 .15 7.18 .15 -3.65 .15 -.98 .15 .96 .15 .33 .15 -1.67 .15 .77 .15 -2.77 .15 -1.19 .15 3.5 .15 -2.54 .15 11.33 .15 -9.4 .15 .42 .15 1.36 .15 -.88 .15 -2.82 .15 9.46 .15 -11.1 .15 2.81 .15 -.47 .15 1.74 .15 -1 .15 -.1 .15 -.54 .15 -1.73 .15 1.2 .15 2.5 .15 -1.74 .15 .56 .15 .15 .15 .02 .15 5.44 .15 -5.07 .15 -.26 .15 1.89 .15 -1.68 .15 -.69 .15 -.19 .15 3.24 .15 -1.89 .15 -2.96 .15 -.41 .15 2.04 .15 13.48 .15 -18.92 .15 8.04 .15 -9.78 .15 8.23 .15 -.68 .15 -6.78 .15 -1.69 .15 6.97 .15 -2.93 .15 -.68 .15 -2.08 .15 -1.53 .15 11.54 .15 -19.42 .15 9.6 .15 2.36 .15 -.74 .15 -1.62 .15 2.76 .15 -2.14 .15 1.89 .15 -2.74 .15 10.88 .15 -11.59 .15 2.61 .15 -.17 .15 -9.18 .15 3.91 .15 .7 .15 1.94 .15 1.04 .15 2.46 .15 -4.7 .15 2.65 .15 .05 .15 -2.51 .15 .63 .15 -.14 .15 1.17 .15 .83 .15 -1.19 .15 1.77 .15 -1.9 .15 1.72 .15 1.48 .15 -1.15 .15 1.76 .15 -.71 .15 -.5 .15 2.34 .15 -.74 .15 -.06 .15 -1.93 .15 .22 .15 2.05 .15 -1.37 .15 1.41 .15 -.1 .15 -2.34 .15 .54 .15 -.99 .15 -.25 .15 -.64 .15 -.84 .15 -.35 .15 .27 .15 -.01 .15 .58 .15 -1.51 .15 .55 .15 1.04 .15 1.04 .15 -1.52 .15 2.08 .15 -.61 .15 -.87 .15 1.78 .15 -1.06 .15 .88 .15 -2.35 .15 1.19 .15 -.37 .15 1.96 .15 -1.11 .15 1.03 .15 -.51 .15 1.53 .15 .37 .15 -1.59 .15 -.99 .15 .58 .15 -1.04 .15 .93 .15 .29 .15 .06 .15 -2.38 .15 3.17 .15 -3.13 .15 1.3 .15 .66 .15 -2.53 .15 .59 .15 -2.19 .15 -.91 .15 -.06 .15 4.19 .15 2.94 .15 2.56 .15 .07 .15 .03 .15 -5.93 .15 -2.31 .15 2.71 .15 .22 .15 4.92 .15 -3.35 .15 -1.57 .15 -1.24 .15 6.18 .15 -7.36 .15 4.34 .15 -3.1 .15 5.74 .15 -0 .15 -4.47 .15 2.64 .15 1.06 .15 -1 .15 1.6 .15 -.06 .15 1.21 .15 -1.66 .15 .12 .15 .92 .15 -1.24 .15 .77 .15 .68 .15 1.51 .15 -.42 .15 -.39 .15 .41 .15 .1 .15 .01 .15 .58 .15 -.55 .15 .41 .15 -.93 .15 -.54 .15 -.89 .15 .51 .15 -.52 .15 .64 .15 1.63 .15 -4.42 .15 1.79 .15 2.63 .15 -5.27 .15 .23 .15 -.42 .15 -1.28 .15 9.12 .15 2.52 .15 -1.79 .15 -8.55 .15 4.1 .15 4.77 .15 -3.78 .15 -.64 .15 -1.79 .15 2.04 .15 -1 .15 .56 .15 -1.3 .15 -1.03 .15 1.58 .15 -.62 .15 1.1 .15 -2.35 .15 -1.17 .15 -2.43 .15 1.63 .15 .22 .15 -.76 .15 2.55 .15 -2.8 .15 2.27 .15 1.69 .15 -2.59 .15 1.1 .15 1.09 .15 1.72 .15 -3.09 .15 .41 .15 2.54 .15 -.5 .15 2.12 .15 5.7 .15 -7.16 .15 2.61 .15 2.59 .15 -3.59 .15 -.03 .15 .21 .15 .41 .15 1.35 .15 14.14 .15 -17.06 .15 3.19 .15 2.48 .15 -4.55 .15 -2.81 .15 -.33 .15 .01 .15 -3.32 .15 1.58 .15 1.1 .15 -3.2 .15 .54 .15 -.69 .15 -2.96 .15 1.7 .15 -1.27 .15 -2.22 .15 .94 .15 .39 .15 -1.94 .15 1.24 .15 -.56 .15 .65 .15 -2.03 .15 .52 .15 2.41 .15 -1.06 .15 -.62 .15 .42 .15 -.02 .15 1.1 .15 -4.9 .15 1.86 .15 1.75 .15 -.94 .15 4.38 .15 -5.34 .15 7.42 .15 -4.42 .15 3.17 .15 -3.03 .15 -.03 .15 2.99 .15 -6.18 .15 2.01 .15 .51 .15 2.34 .15 -9.22 .15 2.52 .15 2.18 .15 4.33 .15 .05 .15 -4.11 .15 .49 .15 .84 .15 .44 .15 -1.26 .15 .15 .15 -.58 .15 -1.72 .15 1.71 .15 .64 .15 .8 .15 -1.58 .15 .54 .15 .63 .15 -1.72 .15 3.15 .15 .59 .15 -3.13 .15 4.78 .15 -1.24 .15 3.65 .15 -.45 .15 -.61 .15 -2.52 .15 3.84 .15 -1.17 .15 -.09 .15 -1.69 .15 2.38 .15 -1.68 .15 1.62 .15 -2.17 .15 -1.33 .15 -.71 .15 -.01 .15 -.97 .15 -.58 .15 1.29 .15 -1.38 .15 -.13 .15 .27 .15 3.85 .15 -3.18 .15 6.13 .15 -2.66 .15 2.13 .15 -5.24 .15 4.83 .15 2.04 .15 1.35 .15 -3.9 .15 6.79 .15 -3.28 .15 -.72 .15 .1 .15 .74 .15 1.03 .15 -.64 .15 .03 .15 -.17 .15 -.19 .15 -.33 .15 -.29 .15 -.34 .15 -.87 .15 -.07 .15 -.59 .15 -.63 .15 -.07 .15 .44 .15 -1.25 .15 .51 .15 -.04 .15 -.34 .15 .08 .15 .4 .15 .06 .15 .01 .15 .88 .15 -1.1 .15 -1.25 .15 3.33 .15 -1.15 .15 .17 .15 1.34 .15 -.87 .15 2.38 .15 -3.64 .15 2.56 .15 -6.99 .15 7.72 .15 -5.76 .15 .05 .15 -1.94 .15 3.46 .15 -2.74 .15 -.36 .15 .54 .15 -1.49 .15 -.46 .15 .18 .15 -.25 .15 -1.39 .15 -.35 .15 -.54 .15 -.09 .15 .17 .15 -1.7 .15 .37 .15 .1 .15 -.23 .15 1.75 .15 -.93 .15 .89 .15 .91 .15 -2.65 .15 .69 .15 1.3 .15 2 .15 .52 .15 -3.03 .15 6.22 .15 -1.21 .15 -3.68 .15 5.52 .15 -.74 .15 -2.11 .15 1.34 .15 -.62 .15 -1.01 .15 1.07 .15 -3.1 .15 2.5 .15 -1.5 .15 .62 .15 -1.12 .15 2.77 .15 -.49 .15 .04 .15 -1.06 .15 .76 .15 -.69 .15 -.11 .15 1.54 .15 -2.36 .15 1.1 .15 1.5 .15 -6.17 .15 .67 .15 -1.36 .15 4.83 .15 -5.99 .15 5.52 .15 -1.82 .15 -2.55 .15 1.36 .15 -1.6 .15 2.93 .15 .21 .15 -1.68 .15 .43 .15 -.41 .15 1.09 .15 -2.48 .15 1.28 .15 .19 .15 -1.67 .15 1.77 .15 -1.84 .15 .58 .15 .84 .15 -2 .15 .14 .15 .13 .15 .3 .15 2.42 .15 -.84 .15 .03 .15 .9 .15 -.14 .15 .2 .15 3.32 .15 -.89 .15 -2.45 .15 8.52 .15 -6.41 .15 2.8 .15 -2.22 .15 4.7 .15 -.68 .15 1.28 .15 .05 .15 -4.89 .15 2.72 .15 -2.12 .15 -1.46 .15 .6 .15 1.67 .15 -.43 .15 -.26 .15 .27 .15 .02 .15 .39 .15 .2 .15 .8 .15 .5 .15 .29 .15 -.18 .15 .76 .15 -.38 .15 .38 .15 .99 .15 7.24 .15 -6.98 .15 .2 .15 1.47 .15 -1.56 .15 -4.19 .15 4.3 .15 -5.21 .15 1.46 .15 4.94 .15 -1.54 .15 -1.89 .15 -.31 .15 -.63 .15 2.02 .15 -3.17 .15 .43 .15 .74 .15 1.04 .15 .97 .15 -.63 .15 .92 .15 -3.01 .15 1.49 .15 -.22 .15 -.03 .15 2.39 .15 -2.2 .15 -.59 .15 1.86 .15 -1.7 .15 1.36 .15 -.21 .15 .71 .15 -.75 .15 .34 .15 2.51 .15 -1.29 .15 1.71 .15 .96 .15 -2.91 .15 3.83 .15 -.57 .15 -.34 .15 3.07 .15 -3.24 .15 .62 .15 -5.84 .15 7.72 .15 -.56 .15 -9.64 .15 14.48 .15 -9.65 .15 4.41 .15 3.13 .15 -1.02 .15 -5.54 .15 1.6 .15 -7.5 .15 4.99 .15 8.45 .15 -11.16 .15 4.23 .15 4.52 .15 -2.08 .15 1.83 .15 -3.82 .15 -.8 .15 2.73 .15 -.52 .15 1.65 .15 -5.63 .15 1.97 .15 -2.23 .15 6.03 .15 -3.7 .15 18.8 .15 -11.05 .15 -3.92 .15 5.71 .15 -9.9 .15 -3.59 .15 21.81 .15 -20.77 .15 1.88 .15 2.38 .15 3.73 .15 3.68 .15 -1.31 .15 -5.45 .15 6.69 .15 -2.47 .15 10.56 .15 -11.28 .15 .88 .15 .22 .15 -3.51 .15 5.41 .15 -.45 .15 -1.92 .15 2.5 .15 1.03 .15 -.09 .15 -1.33 .15 .89 .15 1.51 .15 1.96 .15 .56 .15 -1.94 .15 9.81 .15 -12.96 .15 -3.42 .15 -.81 .15 9.25 .15 8.93 .15 -5 .15 -16.32 .15 .52 .15 5.72 .15 .04 .15 6.06 .15 -10.24 .15 4.55 .15 .9 .15 -.84 .15 -.53 .15 4.02 .15 -3.61 .15 .63 .15 -.83 .15 4.08 .15 -.6 .15 -1.49 .15 -.72 .15 -3.86 .15 8.43 .15 -15.07 .15 14.31 .15 -1.92 .15 -.5 .15 4.41 .15 -2.77 .15 .47 .15 8.32 .15 -7.9 .15 -.69 .15 2.69 .15 -1.36 .15 -8.35 .15 10.25 .15 -3.38 .15 4.37 .15 .9 .15 -1.53 .15 .58 .15 10.67 .15 -10.46 .15 3.61 .15 -7.17 .15 1.92 .15 -1.81 .15 -2.05 .15 -.68 .15 -1.26 .15 5.51 .15 11.66 .15 -16.61 .15 -1.32 .15 5.34 .15 -1.85 .15 -2.54 .15 -1 .15 8.42 .15 -6.71 .15 14.71 .15 -18.85 .15 6.74 .15 -4.95 .15 2.13 .15 -2.67 .15 1.7 .15 2.74 .15 2.14 .15 -8.67 .15 1.07 .15 6.17 .15 8.67 .15 -13.04 .15 5.13 .15 .9 .15 1.99 .15 .07 .15 .84 .15 4.86 .15 7.3 .15 -11.53 .15 -4.86 .15 .41 .15 1.44 .15 -.28 .15 -1.47 .15 -.03 .15 -.51 .15 .21 .15 2.32 .15 1.2 .15 -2.46 .15 -.92 .15 1.95 .15 10.64 .15 -10.67 .15 .17 .15 .54 .15 3.95 .15 -2.79 .15 -1.9 .15 -1.64 .15 2.29 .15 -.96 .15 -.8 .15 .78 .15 -.97 .15 .27 .15 -1.9 .15 3.21 .15 -2.5 .15 4.21 .15 2.41 .15 -2.46 .15 -4.27 .15 4.68 .15 -2.19 .15 1.03 .15 2.5 .15 -4.62 .15 3.12 .15 1.49 .15 -1.97 .15 -3.25 .15 -1.77 .15 -.29 .15 2.05 .15 -.07 .15 5.98 .15 -6.6 .15 1.49 .15 -.59 .15 .47 .15 -.7 .15 -.26 .15 2.68 .15 -1.16 .15 .85 .15 -1.41 .15 1.13 .15 .82 .15 -2.24 .15 .42 .15 1.41 .15 .22 .15 -1.3 .15 .82 .15 -.15 .15 1.07 .15 1.57 .15 -2.21 .15 3.66 .15 -4.02 .15 .7 .15 2.05 .15 -1.91 .15 .06 .15 .61 .15 -.48 .15 -.48 .15 -1.89 .15 1.07 .15 1.28 .15 .15 .15 .39 .15 -.37 .15 1.77 .15 1.09 .15 -.26 .15 -.58 .15 .79 .15 .23 .15 -.76 .15 -.45 .15 .13 .15 .73 .15 -2.04 .15 .12 .15 .37 .15 1.08 .15 -1.43 .15 .57 .15 .24 .15 -.93 .15 1.09 .15 .65 .15 -.2 .15 -.48 .15 -1.05 .15 1.36 .15 -.96 .15 2.93 .15 -3.76 .15 .87 .15 2.22 .15 -1.31 .15 -1.57 .15 2.27 .15 .74 .15 -.74 .15 -.86 .15 1.17 .15 .55 .15 .38 .15 -1.64 .15 .95 .15 -.03 .15 .04 .15 -.26 .15 -.52 .15 -5.47 .15 6.88 .15 .55 .15 -2.36 .15 .69 .15 -.38 .15 .23 .15 .57 .15 -.48 .15 -.42 .15 .52 .15 -2.23 .15 3.08 .15 -4.23 .15 1.04 .15 .62 .15 -.87 .15 1.24 .15 -1.56 .15 1.13 .15 -4.3 .15 2.57 .15 1.43 .15 -1.75 .15 -2.17 .15 2.05 .15 -2.63 .15 .68 .15 -3.31 .15 3.9 .15 -2.16 .15 -2.16 .15 1.18 .15 -.24 .15 -.89 .15 2.02 .15 -4.82 .15 -2.08 .15 -.02 .15 7.53 .15 -4.12 .15 -3.51 .15 8 .15 -9.56 .15 4.29 .15 3.02 .15 -6.1 .15 -1.2 .15 12.18 .15 -9.54 .15 1.73 .15 6.78 .15 -12.98 .15 .55 .15 7.27 .15 -3.29 .15 -1.76 .15 1.35 .15 1.45 .15 -.61 .15 -4.97 .15 5.1 .15 -2.52 .15 1.41 .15 -3.37 .15 .96 .15 6.98 .15 2.34 .15 -3.89 .15 .23 .15 2.83 .15 -.07 .15 -.26 .15 1.62 .15 -.09 .15 2 .15 1.06 .15 1.48 .15 -.94 .15 .07 .15 -.37 .15 .31 .15 -2.46 .15 4.07 .15 -2.14 .15 1.84 .15 -5.29 .15 4.14 .15 -.74 .15 -1.12 .15 -.56 .15 5.64 .15 .27 .15 .3 .15 -3.53 .15 .45 .15 -3.31 .15 -2.18 .15 .23 .15 4.12 .15 .11 .15 -3.44 .15 4.14 .15 3.18 .15 -2.34 .15 -4.19 .15 2.73 .15 2.61 .15 -1.87 .15 -4.39 .15 8.33 .15 -3.1 .15 -.28 .15 .98 .15 .75 .15 -2.09 .15 -.8 .15 3.76 .15 -1.89 .15 -1.89 .15 -.61 .15 1.36 .15 -4.86 .15 4.28 .15 -.65 .15 -1.19 .15 -.23 .15 .07 .15 .79 .15 .1 .15 -.74 .15 .33 .15 -1.35 .15 1.42 .15 -2.19 .15 .69 .15 .16 .15 -1.72 .15 -.1 .15 .49 .15 -.97 .15 -.34 .15 -1.57 .15 2.03 .15 -.49 .15 1.05 .15 1.58 .15 -1.73 .15 .53 .15 -.18 .15 .55 .15 .16 .15 1.04 .15 -.73 .15 -.78 .15 .25 .15 .23 .15 -1.33 .15 .59 .15 .01 .15 -.34 .15 -.4 .15 1.19 .15 .04 .15 .03 .15 -.58 .15 2.38 .15 -.03 .15 2.49 .15 -2.96 .15 -.18 .15 .73 .15 1.28 .15 -1.81 .15 2.82 .15 -1.42 .15 -1.5 .15 -1.73 .15 .88 .15 .52 .15 -.87 .15 .12 .15 -1.66 .15 .69 .15 -1.78 .15 -.36 .15 0 .15 1.25 .15 1.16 .15 -.98 .15 -.17 .15 -.64 .15 2.88 .15 -2.74 .15 1.52 .15 .78 .15 .24 .15 .03 .15 1.32 .15 -1.75 .15 3.45 .15 .35 .15 .33 .15 -5.79 .15 6.41 .15 .28 .15 -2.6 .15 -4.39 .15 2.78 .15 -1.48 .15 4.42 .15 -1.29 .15 -2.23 .15 2.17 .15 -1.84 .15 .69 .15 -.34 .15 .8 .15 -.55 .15 .44 .15 .51 .15 -.2 .15 1.14 .15 -.37 .15 .2 .15 1.05 .15 -.75 .15 1.08 .15 .19 .15 .72 .15 -1.69 .15 1.47 .15 -1.09 .15 1.39 .15 1.88 .15 -1.88 .15 -3 .15 1.16 .15 .51 .15 1.45 .15 -1.26 .15 -.04 .15 .79 .15 -.35 .15 -1.04 .15 -.11 .15 .82 .15 -.16 .15 -1.28 .15 -.49 .15 1.49 .15 .64 .15 .82 .15 -.28 .15 -1 .15 1.95 .15 -.05 .15 -.79 .15 .83 .15 -.76 .15 1.47 .15 -.36 .15 -.41 .15 .89 .15 -.96 .15 .82 .15 -1.44 .15 .16 .15 -2.79 .15 -.1 .15 -2.27 .15 -.49 .15 -1.99 .15 -2.68 .15 .3 .15 -.38 .15 -2.23 .15 -5.63 .15 4.1 .15 1.14 .15 -2.14 .15 2.7 .15 -4.51 .15 9.88 .15 -13.66 .15 1.06 .15 -3.69 .15 1.15 .15 -.51 .15 -2.47 .15 -2.64 .15 8.26 .15 .02 .15 .55 .15 .12 .15 2.44 .15 -1.57 .15 1.24 .15 3.49 .15 -2.98 .15 -3.83 .15 4.74 .15 1.2 .15 .58 .15 -.37 .15 .79 .15 .75 .15 -0 .15 .63 .15 -.51 .15 .17 .15 -1.89 .15 -.56 .15 4.48 .15 -10.12 .15 8.45 .15 -1.28 .15 4.38 .15 -2.3 .15 1.27 .15 -2.72 .15 -4.37 .15 3.97 .15 -1.15 .15 3.26 .15 -2.87 .15 -1.66 .15 1.27 .15 -.94 .15 4.71 .15 -2.3 .15 -1.75 .15 -.41 .15 15.82 .15 -18.59 .15 .98 .15 -3.2 .15 4.66 .15 -2.57 .15 -8.01 .15 5.47 .15 -2.59 .15 2.66 .15 1.7 .15 -2.43 .15 10.67 .15 -6.72 .15 .06 .15 3.17 .15 -1.84 .15 .54 .15 .71 .15 -1.39 .15 4.43 .15 -2.32 .15 -1.94 .15 6.65 .15 -9.21 .15 3.55 .15 1.07 .15 -1 .15 3.86 .15 -4.25 .15 -6.3 .15 5.26 .15 -5.59 .15 2.38 .15 -.46 .15 .36 .15 .14 .15 -2.02 .15 2.6 .15 .63 .15 6.27 .15 -7.59 .15 .96 .15 -1.64 .15 1.7 .15 1.18 .15 1.55 .15 -1.36 .15 -3.68 .15 1.15 .15 -2.16 .15 2.63 .15 -.79 .15 -2.14 .15 -3.45 .15 4.45 .15 -4.94 .15 -2.01 .15 3.84 .15 9.81 .15 -.28 .15 -.28 .15 -2.5 .15 -10.3 .15 6.03 .15 3.59 .15 7.74 .15 -13.15 .15 1.37 .15 -.68 .15 -1.84 .15 -.18 .15 3.39 .15 -2.89 .15 1.57 .15 -.5 .15 .84 .15 -.16 .15 -2.72 .15 4.15 .15 -.71 .15 2.65 .15 1.09 .15 -3.63 .15 2.77 .15 -.62 .15 8.94 .15 -5.97 .15 -2.79 .15 5.45 .15 -2.26 .15 -.92 .15 1.78 .15 -1.37 .15 2.77 .15 -5.51 .15 3.3 .15 5.44 .15 -2.59 .15 1.04 .15 -.17 .15 -1.24 .15 -3.52 .15 5.52 .15 .55 .15 -1.65 .15 3.35 .15 2.12 .15 .09 .15 -2.17 .15 -3.53 .15 3.9 .15 4.91 .15 -5.42 .15 -5.67 .15 8.19 .15 -8.12 .15 2.96 .15 6.08 .15 -11.1 .15 3.71 .15 4.8 .15 .93 .15 -12.43 .15 -.37 .15 -1.61 .15 2.56 .15 1.18 .15 .56 .15 2.04 .15 -2.05 .15 3.14 .15 -8.03 .15 3.32 .15 3.19 .15 5.27 .15 -6.25 .15 -1.88 .15 2.79 .15 2.46 .15 3.72 .15 -1.7 .15 1.07 .15 -1.24 .15 -1.85" fill="none" stroke="#f00" stroke-width="0.45"/>
<path d="M51.50 90.98l.15 .1 .15 1.34 .15 .55 .15 -.54 .15 1.36 .15 -1.54 .15 .44 .15 .25 .15 .39 .15 -.71 .15 1.23 .15 -1.65 .15 -1.3 .15 1.54 .15 1.25 .15 -.55 .15 1.03 .15 -1.56 .15 .32 .15 -3.82 .15 2.32 .15 -3.45 .15 1 .15 -1.57 .15 1.21 .15 -.5 .15 -.84 .15 1.21 .15 1.41 .15 -3.14 .15 1.91 .15 -4.29 .15 .61 .15 -.87 .15 2.84 .15 .35 .15 -1.44 .15 .33 .15 -1.07 .15 2.2 .15 -.28 .15 -1.87 .15 .09 .15 -.46 .15 -.13 .15 -.37 .15 -2.78 .15 .89 .15 .96 .15 -1.67 .15 2.39 .15 -.35 .15 -2.1 .15 -.43 .15 3.99 .15 -5.58 .15 3.93 .15 -1.62 .15 4.05 .15 -.53 .15 .79 .15 -.09 .15 -1.61 .15 2.75 .15 -1.32 .15 -.48 .15 2.42 .15 -2.02 .15 -.32 .15 .05 .15 2.38 .15 -3.21 .15 .93 .15 -3.07 .15 1.17 .15 3.4 .15 -1.09 .15 -2.63 .15 -1.56 .15 -1.37 .15 .18 .15 1.41 .15 -2.66 .15 2.81 .15 .73 .15 -3.06 .15 1.33 .15 .49 .15 4.25 .15 -.22 .15 -.22 .15 -1.65 .15 2.86 .15 1.23 .15 -.05 .15 .82 .15 -2.81 .15 2.34 .15 2.96 .15 -2.57 .15 2.14 .15 -1.09 .15 -1 .15 .66 .15 -1.15 .15 2.88 .15 -3.44 .15 -1.59 .15 -.24 .15 2.2 .15 -4.39 .15 5.53 .15 -1.93 .15 .51 .15 1.97 .15 -7.64 .15 -.04 .15 2.57 .15 2.42 .15 -6.79 .15 2.96 .15 2.04 .15 -2.08 .15 .75 .15 -.02 .15 -1 .15 1.24 .15 1.64 .15 -1.18 .15 -.38 .15 .66 .15 .86 .15 .77 .15 .16 .15 1.64 .15 -.62 .15 1.63 .15 -.8 .15 -.3 .15 2.67 .15 -.43 .15 -.72 .15 -.39 .15 .77 .15 1.09 .15 .48 .15 .67 .15 -2.38 .15 2.38 .15 .97 .15 -2.73 .15 6.14 .15 2.49 .15 -3.44 .15 -4.2 .15 9.91 .15 -2.11 .15 -5.98 .15 .41 .15 3.04 .15 1.72 .15 .04 .15 .71 .15 -4.61 .15 2.24 .15 .11 .15 .88 .15 2.77 .15 1.27 .15 -2.77 .15 2.95 .15 .82 .15 2.77 .15 -5.36 .15 3.93 .15 -6.17 .15 9.06 .15 -3.3 .15 1.41 .15 -3.83 .15 6.24 .15 -7.51 .15 -1.2 .15 .28 .15 4.63 .15 1.64 .15 -3.64 .15 -.96 .15 1.17 .15 -.72 .15 1.42 .15 -.56 .15 -.32 .15 1.15 .15 -.21 .15 1.91 .15 -1.92 .15 1.18 .15 -.16 .15 -.66 .15 2.14 .15 -.96 .15 -4.58 .15 4 .15 1.5 .15 .06 .15 -1.13 .15 -1.08 .15 .79 .15 -1.92 .15 1.42 .15 -.42 .15 1.55 .15 -.44 .15 .31 .15 -1.9 .15 .19 .15 1.63 .15 -.07 .15 .15 .15 -3.92 .15 1.03 .15 .4 .15 2.67 .15 -2.3 .15 .36 .15 .89 .15 .3 .15 -.87 .15 1.79 .15 .67 .15 -1.53 .15 .36 .15 2.16 .15 1.04 .15 2.27 .15 -7.37 .15 3.43 .15 -.19 .15 -3.58 .15 2.34 .15 -2.35 .15 -.14 .15 1.24 .15 .65 .15 -1.51 .15 .03 .15 1.15 .15 -2.42 .15 -.51 .15 -.68 .15 .7 .15 1.4 .15 -3.21 .15 1.89 .15 -2.52 .15 -.64 .15 3.9 .15 -1.37 .15 1.19 .15 3.09 .15 -4.22 .15 -2.26 .15 2.86 .15 -.16 .15 -1.31 .15 -1.33 .15 2.68 .15 -2.53 .15 -1.18 .15 3.24 .15 -1.24 .15 -1.09 .15 -2.06 .15 1.43 .15 .48 .15 -.02 .15 -2.79 .15 .52 .15 1.48 .15 -.4 .15 .48 .15 .52 .15 -1.95 .15 .36 .15 -.18 .15 2.58 .15 -1.31 .15 .39 .15 -5.77 .15 4.9 .15 .6 .15 2.14 .15 -6.04 .15 6.6 .15 -7.96 .15 6.67 .15 .12 .15 -4.93 .15 -5.4 .15 9.7 .15 -4.67 .15 -4.61 .15 6.09 .15 -4.46 .15 2.34 .15 -1.54 .15 -1.42 .15 4.38 .15 -2.16 .15 .58 .15 .17 .15 -.23 .15 -.12 .15 -.37 .15 .11 .15 -1.31 .15 -.11 .15 -.45 .15 1.75 .15 -1.07 .15 -1.7 .15 1.11 .15 -.44 .15 .37 .15 -.08 .15 .12 .15 -1.17 .15 2.76 .15 -1.12 .15 1.32 .15 -.19 .15 -.59 .15 -1.69 .15 -1.78 .15 3.28 .15 -.55 .15 2.39 .15 -3.01 .15 -.13 .15 -1.53 .15 3.35 .15 -1.54 .15 1.55 .15 -1.34 .15 1.64 .15 -3.1 .15 -.65 .15 2.59 .15 -.09 .15 1.8 .15 -2.61 .15 -.73 .15 3.48 .15 -.76 .15 -.61 .15 2.82 .15 -1.63 .15 -.97 .15 .72 .15 .01 .15 -.74 .15 1.92 .15 -.92 .15 .17 .15 .89 .15 -1.02 .15 2.25 .15 -1.48 .15 1.97 .15 -.4 .15 1.16 .15 -3.54 .15 -1.07 .15 -.17 .15 .22 .15 2.82 .15 -2.55 .15 1.99 .15 -2.92 .15 4.28 .15 -4.41 .15 1.1 .15 -.57 .15 -.58 .15 -.25 .15 .91 .15 -2.01 .15 .58 .15 -2.96 .15 -.33 .15 -1.39 .15 .29 .15 -.52 .15 .87 .15 -.28 .15 .5 .15 -.49 .15 -.02 .15 .61 .15 -.58 .15 -.82 .15 .16 .15 -1.19 .15 2.98 .15 -3.07 .15 1.31 .15 -.42 .15 -1.56 .15 -.01 .15 1.64 .15 -.88 .15 -1.64 .15 2.22 .15 2.36 .15 -2.66 .15 .16 .15 2.34 .15 -.71 .15 -2.9 .15 -.63 .15 .87 .15 .48 .15 -3.48 .15 1.27 .15 -1.8 .15 4.34 .15 -2.43 .15 -6.13 .15 1.75 .15 2.73 .15 -3.2 .15 .44 .15 .58 .15 .13 .15 2.83 .15 -2.81 .15 1 .15 2.06 .15 -.49 .15 .17 .15 -.32 .15 .98 .15 -.98 .15 -.13 .15 1.06 .15 .5 .15 -2.31 .15 3.65 .15 -1.74 .15 1.09 .15 -3.45 .15 2.79 .15 -.97 .15 1.72 .15 -2.13 .15 1.51 .15 -1.35 .15 1.42 .15 -.94 .15 -.87 .15 -.18 .15 .48 .15 1.19 .15 -1.39 .15 .64 .15 -.3 .15 -.14 .15 .99 .15 .02 .15 -1.58 .15 -1.38 .15 1.75 .15 -.86 .15 .16 .15 -1.03 .15 3.86 .15 -.18 .15 -2.55 .15 -.7 .15 2.69 .15 -3.54 .15 -.1 .15 1.88 .15 1.62 .15 -1.88 .15 .67 .15 2.11 .15 -.72 .15 .57 .15 -2.08 .15 .6 .15 1.21 .15 -.37 .15 -1.22 .15 .01 .15 -.85 .15 -.16 .15 1.66 .15 -.01 .15 -2.3 .15 2.95 .15 -1.83 .15 2.51 .15 .4 .15 -1.89 .15 -3.64 .15 3.77 .15 -1.32 .15 1.48 .15 -1 .15 -.66 .15 -.48 .15 .87 .15 -1.5 .15 -.13 .15 -.02 .15 -.73 .15 -.34 .15 -.11 .15 .16 .15 .27 .15 -.21 .15 -.33 .15 1.2 .15 .05 .15 .7 .15 .16 .15 .51 .15 -.91 .15 1.75 .15 -.72 .15 1.24 .15 -3 .15 4.11 .15 -1.89 .15 -4.14 .15 3.4 .15 -.18 .15 -.77 .15 -2.27 .15 6.08 .15 -4.79 .15 1.42 .15 -5.34 .15 3.67 .15 .19 .15 -1.29 .15 .93 .15 2.69 .15 -5.87 .15 .94 .15 .29 .15 -1.68 .15 1.97 .15 -.85 .15 -.42 .15 -.02 .15 -.79 .15 2.27 .15 -2.18 .15 .56 .15 -1.37 .15 .39 .15 .6 .15 -.65 .15 -1.18 .15 1.54 .15 -2.99 .15 .9 .15 1.46 .15 -.05 .15 1.09 .15 -3.63 .15 -1.29 .15 3.18 .15 .25 .15 2.29 .15 -3.23 .15 -.27 .15 .78 .15 -1.18 .15 -.19 .15 2.33 .15 -.98 .15 3.1 .15 .29 .15 -1.66 .15 -1.03 .15 1.79 .15 .09 .15 -2.21 .15 .88 .15 -.14 .15 -.4 .15 .47 .15 -.83 .15 2.05 .15 -.97 .15 -1 .15 .84 .15 -.04 .15 1.96 .15 -2.84 .15 1.81 .15 .33 .15 -2.95 .15 1.55 .15 -1 .15 .46 .15 -1.51 .15 .04 .15 -.57 .15 1.63 .15 -.92 .15 .79 .15 -.52 .15 1.17 .15 .5 .15 .72 .15 .75 .15 .95 .15 .83 .15 -.38 .15 -.18 .15 1.74 .15 -1.6 .15 .8 .15 -.03 .15 .05 .15 -1.36 .15 .27 .15 .24 .15 -.6 .15 1.33 .15 .27 .15 -.1 .15 -.5 .15 2.35 .15 -.59 .15 -4.11 .15 4.15 .15 -.94 .15 -2.78 .15 2.56 .15 .05 .15 -2.56 .15 1.52 .15 -1.42 .15 -.46 .15 1.36 .15 -1.49 .15 3.08 .15 -1.43 .15 .8 .15 .81 .15 .31 .15 -1.41 .15 .73 .15 .38 .15 .48 .15 -1.55 .15 .61 .15 -1.07 .15 .31 .15 .58 .15 .49 .15 -.89 .15 -.77 .15 2.03 .15 -2.94 .15 3.98 .15 -3.68 .15 8.11 .15 -6.21 .15 4.63 .15 -2.42 .15 3.31 .15 -1.35 .15 2.15 .15 -2.36 .15 -.25 .15 -1.24 .15 -.24 .15 -1.03 .15 .86 .15 3.17 .15 -2.9 .15 .16 .15 -.71 .15 .15 .15 1.63 .15 -.28 .15 -.5 .15 -.56 .15 1.14 .15 -1.19 .15 3 .15 -2.58 .15 -3.1 .15 2.44 .15 -.64 .15 1.03 .15 -.91 .15 1.4 .15 -.02 .15 .08 .15 1.17 .15 -2.87 .15 2.19 .15 2.3 .15 -.1 .15 -5.99 .15 2.29 .15 4.58 .15 -5.65 .15 1.95 .15 2.7 .15 -2.59 .15 -4.54 .15 .85 .15 .34 .15 5.12 .15 -1.38 .15 -1.81 .15 1.92 .15 -.31 .15 -.92 .15 -1.57 .15 .08 .15 1.24 .15 -.03 .15 1.34 .15 -.12 .15 -.46 .15 .54 .15 -.4 .15 -.04 .15 .85 .15 .59 .15 -.93 .15 1.78 .15 -.06 .15 -.27 .15 -2.82 .15 1.42 .15 .21 .15 -1.84 .15 .15 .15 1.98 .15 .7 .15 -1.59 .15 -.66 .15 -1.99 .15 -.7 .15 .44 .15 .59 .15 -1.5 .15 .91 .15 -2.95 .15 .13 .15 .79 .15 1.47 .15 -2.51 .15 -3 .15 .75 .15 4.79 .15 -4.29 .15 .93 .15 1.11 .15 -.33 .15 .62 .15 3.55 .15 -8.47 .15 5.61 .15 -4.09 .15 7.02 .15 -7.42 .15 5.53 .15 -3.26 .15 4.68 .15 -4.62 .15 4.31 .15 -6.22 .15 .11 .15 6.55 .15 -6.83 .15 .68 .15 2.14 .15 .28 .15 -1.41 .15 .43 .15 -.04 .15 -.44 .15 -1.6 .15 1.64 .15 -.73 .15 1.05 .15 -3.68 .15 3.99 .15 -3.63 .15 -.67 .15 -1.07 .15 1.69 .15 .67 .15 -1.82 .15 2.19 .15 2.62 .15 -3 .15 .99 .15 -.39 .15 1.72 .15 -7.69 .15 7.47 .15 -2.37 .15 .08 .15 1.14 .15 -3.84 .15 4.17 .15 -.56 .15 2.43 .15 -1.92 .15 1.53 .15 .2 .15 -3.03 .15 1.38 .15 -.74 .15 .58 .15 -.42 .15 .11 .15 1.48 .15 -.06 .15 -.28 .15 .68 .15 -.77 .15 -.81 .15 .98 .15 -.05 .15 -1.32 .15 .41 .15 -.87 .15 1.04 .15 -.28 .15 .63 .15 .17 .15 1.48 .15 .19 .15 2.12 .15 -.1 .15 -1.54 .15 2.17 .15 .37 .15 -1.11 .15 .61 .15 .71 .15 -.06 .15 -.07 .15 -1.42 .15 1.32 .15 1.62 .15 -4.11 .15 1.38 .15 .55 .15 .55 .15 -1.74 .15 1.36 .15 -.4 .15 -1.52 .15 .62 .15 1.59 .15 -.25 .15 .36 .15 -3.66 .15 2.11 .15 -.77 .15 -.04 .15 -.13 .15 .44 .15 -1.54 .15 .56 .15 -.83 .15 -.04 .15 0 .15 -.93 .15 1.05 .15 -.62 .15 1 .15 -.38 .15 1.53 .15 -1.47 .15 1.03 .15 .13 .15 .46 .15 .77 .15 .04 .15 -.59 .15 -.2 .15 1.9 .15 -.9 .15 1.3 .15 -.85 .15 .7 .15 -.52 .15 -3.52 .15 2.77 .15 .19 .15 -.61 .15 2.24 .15 -.05 .15 -2.25 .15 1.86 .15 -2.91 .15 2.18 .15 -1.87 .15 -.45 .15 -.94 .15 -1.33 .15 .45 .15 -.98 .15 -.54 .15 -.35 .15 -.31 .15 .37 .15 -.13 .15 .36 .15 .1 .15 -.25 .15 .4 .15 .43 .15 -.73 .15 -.44 .15 .32 .15 1.17 .15 .51 .15 -.25 .15 .14 .15 .28 .15 1.45 .15 .68 .15 -.87 .15 .77 .15 2.67 .15 1.33 .15 -1.43 .15 -2.2 .15 .01 .15 2.19 .15 -4.2 .15 .47 .15 2.81 .15 -3.53 .15 1.17 .15 2.73 .15 -3.82 .15 4.75 .15 -3.65 .15 -2.25 .15 5.32 .15 -1.28 .15 3.01 .15 -5.67 .15 4.28 .15 -1.24 .15 4.11 .15 -3.14 .15 -1.44 .15 2.6 .15 .5 .15 -.63 .15 -.35 .15 -.41 .15 -.75 .15 -1.29 .15 -.06 .15 .41 .15 -1.81 .15 .76 .15 2.88 .15 -4.77 .15 5.78 .15 -6.46 .15 3.89 .15 -3.5 .15 5.24 .15 3.4 .15 -4.2 .15 -3.69 .15 .17 .15 8.48 .15 -1.13 .15 -2.12 .15 -1.19 .15 -1.2 .15 1.56 .15 -.05 .15 -.55 .15 3.03 .15 1.32 .15 -.31 .15 .72 .15 -.69 .15 -2.53 .15 1.91 .15 -.57 .15 -.38 .15 1.19 .15 -.96 .15 .58 .15 .18 .15 -1.17 .15 .02 .15 -.31 .15 .11 .15 -.28 .15 -.73 .15 .49 .15 -.49 .15 -.35 .15 .02 .15 1.66 .15 -1.77 .15 -.68 .15 -.7 .15 -.65 .15 3.15 .15 .6 .15 -2.19 .15 3.76 .15 -2.73 .15 2.14 .15 -2.39 .15 3.82 .15 -5.54 .15 2.48 .15 1.23 .15 2.21 .15 -2.69 .15 2.84 .15 -1.38 .15 -5.05 .15 5.19 .15 -3.09 .15 2.19 .15 -.37 .15 1.8 .15 -1.79 .15 1.73 .15 -4.05 .15 3.11 .15 -1.86 .15 .98 .15 2.91 .15 -2.69 .15 .34 .15 -.57 .15 .98 .15 .04 .15 -1.03 .15 -.96 .15 1.18 .15 -1.09 .15 -1.29 .15 -.93 .15 .69 .15 -1.63 .15 -1.45 .15 -.9 .15 -1.41 .15 .24 .15 -3.53 .15 2.28 .15 .27 .15 .85 .15 -1 .15 1.09 .15 .05 .15 7.94 .15 -3.89 .15 3.42 .15 .55 .15 8.39 .15 -12.22 .15 .47 .15 5.5 .15 .5 .15 -7.09 .15 -.51 .15 2.91 .15 .24 .15 1.53 .15 1.73 .15 4.1 .15 .23 .15 -1.34 .15 -6.93 .15 16.25 .15 -11.18 .15 -1.27 .15 5.42 .15 2.6 .15 -5.19 .15 1.17 .15 -2.15 .15 -1.16 .15 -.97 .15 5.23 .15 -1.26 .15 .51 .15 -2.05 .15 3.45 .15 3.92 .15 -4.79 .15 -1.05 .15 1.07 .15 -3.68 .15 -2.09 .15 3.63 .15 .69 .15 -3.62 .15 1.08 .15 2.91 .15 -2.62 .15 .22 .15 .89 .15 -1.77 .15 2.23 .15 .66 .15 -1.38 .15 1.47 .15 -.72 .15 -.09 .15 .71 .15 .4 .15 .22 .15 .03 .15 -5.19 .15 6.51 .15 1.35 .15 7.75 .15 -8.57 .15 -2.48 .15 4.4 .15 2.32 .15 -3.45 .15 1.82 .15 1.42 .15 .21 .15 -4.69 .15 1.73 .15 .12 .15 2.86 .15 -2.71 .15 -.09 .15 -.59 .15 -6.5 .15 5.43 .15 -3.86 .15 9.44 .15 -10.46 .15 .94 .15 1.68 .15 9.26 .15 -.1 .15 -9.8 .15 7.15 .15 -10.76 .15 4.71 .15 7.34 .15 -7.07 .15 -5.72 .15 1.69 .15 -1.56 .15 3.36 .15 3.9 .15 -8.04 .15 -8.8 .15 14.53 .15 .66 .15 -6.58 .15 .61 .15 6.8 .15 4.06 .15 -2.3 .15 -3.65 .15 -2.35 .15 7.91 .15 -2.78 .15 -.98 .15 1.12 .15 -2.29 .15 4.2 .15 2.81 .15 -3.5 .15 1.85 .15 -1.58 .15 -3.36 .15 4.25 .15 -3.58 .15 4.76 .15 -1.96 .15 1.07 .15 -6.89 .15 2.39 .15 -.52 .15 3.42 .15 -3.38 .15 .77 .15 6.03 .15 -13.92 .15 13.78 .15 -6.28 .15 2.21 .15 7.14 .15 -4.45 .15 4.51 .15 -.78 .15 -7.77 .15 5.11 .15 -3.89 .15 -3.63 .15 6.72 .15 -.83 .15 -8.67 .15 7.71 .15 5.91 .15 -7.71 .15 7.64 .15 -.57 .15 .59 .15 -9.82 .15 9.93 .15 -3.71 .15 -3.09 .15 .12 .15 -3.69 .15 6.54 .15 -5.1 .15 .75 .15 4.44 .15 -2.23 .15 -1.73 .15 2.19 .15 -1.28 .15 1.86 .15 -1.69 .15 -.09 .15 .19 .15 .89 .15 -.89 .15 2.27 .15 -1.68 .15 -1.59 .15 -2.46 .15 7.04 .15 -3.5 .15 1.26 .15 5.08 .15 -.54 .15 -4.83 .15 -.75 .15 -3.55 .15 6.52 .15 -2.59 .15 1.35 .15 -2.06 .15 2.13 .15 -.76 .15 -.16 .15 .65 .15 -1.59 .15 .32 .15 0 .15 -.87 .15 -1.71 .15 3.99 .15 -.35 .15 -1.05 .15 .19 .15 1.13 .15 -.54 .15 .34 .15 .43 .15 -1.29 .15 .8 .15 -.57 .15 -.01 .15 -1.23 .15 .26 .15 -.1 .15 -.39 .15 .03 .15 .37 .15 1.99 .15 -3.95 .15 3.51 .15 -.57 .15 -2.33 .15 3.12 .15 -2.17 .15 3.56 .15 -.62 .15 -.39 .15 2.18 .15 -4.81 .15 -.49 .15 2.87 .15 .17 .15 .13 .15 -2.79 .15 1.79 .15 5.77 .15 -7.74 .15 5.24 .15 -1.78 .15 .23 .15 .6 .15 -1.43 .15 -1.98 .15 1.33 .15 -.34 .15 1.21 .15 .81 .15 -.23 .15 .41 .15 1.62 .15 -2.62 .15 .51 .15 1.76 .15 .03 .15 .71 .15 -1.24 .15 -2.04 .15 1.88 .15 -1.75 .15 .22 .15 -1.18 .15 -.7 .15 -.67 .15 .24 .15 -.4 .15 -.29 .15 -.61 .15 -1.78 .15 4.87 .15 -5.01 .15 1.81 .15 .3 .15 -2.64 .15 -1.4 .15 4.15 .15 -1.89 .15 .57 .15 -.34 .15 1.31 .15 -1.48 .15 -.96 .15 1.15 .15 -1.5 .15 1.36 .15 .15 .15 -.7 .15 .43 .15 -.56 .15 -.59 .15 2.52 .15 -1.79 .15 -.47 .15 -1.12 .15 .52 .15 -.55 .15 -1.24 .15 1.02 .15 -.52 .15 -1.88 .15 .73 .15 -1.18 .15 .89 .15 -.24 .15 -.45 .15 -.39 .15 1.06 .15 -1.63 .15 -1.11 .15 -.44 .15 .48 .15 3.56 .15 -4.75 .15 3.2 .15 .1 .15 -4.94 .15 2.09 .15 -1.49 .15 1.52 .15 1.13 .15 -.66 .15 -.42 .15 .67 .15 .9 .15 .78 .15 .1 .15 -1.29 .15 1.05 .15 -.71 .15 1.25 .15 .28 .15 .07 .15 -.73 .15 .32 .15 1.57 .15 .1 .15 -1.16 .15 .64 .15 .41 .15 -.04 .15 .67 .15 1.48 .15 -1.36 .15 -.52 .15 -.35 .15 -.12 .15 .72 .15 -.29 .15 .8 .15 -1.75 .15 -.01 .15 .27 .15 -1.05 .15 .32 .15 .05 .15 -.33 .15 .17 .15 -1.11 .15 -.11 .15 .58 .15 .95 .15 -.87 .15 .36 .15 -.79 .15 3.14 .15 -2.58 .15 1.54 .15 -.58 .15 -.56 .15 .94 .15 1 .15 1.02 .15 .48 .15 1.2 .15 1.07 .15 -1.87 .15 -2.51 .15 1.92 .15 .89 .15 3.87 .15 -1.82 .15 -1.45 .15 -.22 .15 -.22 .15 .5 .15 -1.04 .15 -.37 .15 -.43 .15 .93 .15 1.82 .15 -4.65 .15 7.01 .15 -2.87 .15 -.14 .15 -3.63 .15 2.71 .15 1.83 .15 -4.21 .15 -1.93 .15 2.22 .15 -.37 .15 2.84 .15 -1.79 .15 -.57 .15 .18 .15 -.29 .15 .69 .15 -.02 .15 .21 .15 -2.1 .15 1.55 .15 -.31 .15 -.18 .15 -.87 .15 .67 .15 -.13 .15 .86 .15 .37 .15 .16 .15 -.16 .15 -.11 .15 .11 .15 1.02 .15 -1.81 .15 1.18 .15 .74 .15 -1.09 .15 -.73 .15 -.19 .15 -.09 .15 .97 .15 -1.77 .15 -.74 .15 3.72 .15 -.21 .15 1.29 .15 1.55 .15 -2.08 .15 3.27 .15 -3.9 .15 -.65 .15 2.54 .15 -3.94 .15 3.89 .15 -1.12 .15 1.38 .15 -1.91 .15 1.49 .15 -2.05 .15 1.16 .15 -.84 .15 .38 .15 .2 .15 -.42 .15 -.91 .15 .55 .15 .5 .15 -.34 .15 -2.35 .15 2.15 .15 -1.01 .15 1.32 .15 1.56 .15 -.47 .15 -1.69 .15 5.02 .15 .71 .15 -4.48 .15 4.98 .15 .02 .15 1.22 .15 -5.97 .15 6.46 .15 -1.68 .15 -.79 .15 -1.43 .15 1.71 .15 -1.94 .15 2.08 .15 -1.46 .15 -.46 .15 .4 .15 1.49 .15 1.25 .15 -2.36 .15 -2.03 .15 3.39 .15 1.49 .15 -.46 .15 -2.14 .15 .94 .15 .37 .15 1.32 .15 -2.24 .15 -1.56 .15 -1.4 .15 1.9 .15 -2.46 .15 0 .15 1.08 .15 .1 .15 .42 .15 -.5 .15 -.24 .15 -.91 .15 1.97 .15 -2.78 .15 1.78 .15 4.11 .15 -4.89 .15 3.59 .15 -2.58 .15 -1.53 .15 4.88 .15 .26 .15 -3.45 .15 -1.94 .15 3.95 .15 -5.53 .15 .64 .15 6.38 .15 -6.68 .15 6.66 .15 .72 .15 -7.97 .15 7.12 .15 -5.95 .15 4.19 .15 -2.84 .15 4.98 .15 -2.73 .15 .08 .15 -4.77 .15 2.76 .15 -9.35 .15 7.04 .15 -5.12 .15 .76 .15 1.4 .15 -2.07 .15 -2.31 .15 4.18 .15 -3.01 .15 .9 .15 -5.35 .15 -2.53 .15 2.37 .15 -4.72 .15 -1.59 .15 3.84 .15 -4.84 .15 7.17 .15 -3.48 .15 -4.52 .15 8.09 .15 2.44 .15 -3.51 .15 -1.02 .15 -1.51 .15 4.65 .15 -1.53 .15 -.03 .15 1.12 .15 3.77 .15 -2.16 .15 -4.45 .15 11.52 .15 -1.02 .15 -8.45 .15 10.59 .15 -11.08 .15 3.39 .15 1.85 .15 -4.56 .15 6.82 .15 -.95 .15 -1.06 .15 -1.34 .15 2.98 .15 -.07 .15 .21 .15 -.49 .15 7.1 .15 -6.93 .15 2.08 .15 -.9 .15 .52 .15 -.9 .15 -0 .15 .37 .15 -2.09 .15 1.73 .15 -1.96 .15 .58 .15 -.15 .15 1.17 .15 -2.97 .15 1.99 .15 -.01 .15 -2.54 .15 -1.59 .15 1.09 .15 -1.95 .15 6.02 .15 -5.42 .15 -2.8 .15 2.38 .15 6.13 .15 -3.96 .15 -3.57 .15 -.43 .15 6.88 .15 -6.92 .15 3.19 .15 2.17 .15 -1.97 .15 -1.39 .15 1.58 .15 -3.08 .15 2.89 .15 -2.25 .15 .35 .15 1.88 .15 -.53 .15 .39 .15 -1.37 .15 3.61 .15 -.73 .15 .02 .15 1.51 .15 -.34 .15 -.34 .15 -1.91 .15 1.66 .15 -.71 .15 .04 .15 -.29 .15 -.48 .15 -2.4 .15 1.26 .15 -2.29 .15 2.7 .15 -1.2 .15 .5 .15 3.96 .15 -7.28 .15 2.28 .15 1.04 .15 -1.55 .15 -3.47 .15 5.52 .15 -.31 .15 .55 .15 -.39 .15 .96 .15 -6.9 .15 5.24 .15 -.36 .15 -.4 .15 -.38 .15 -.53 .15 .33 .15 -1.21 .15 4.75 .15 -5.96 .15 .91 .15 -.86 .15 -3.43 .15 -.27 .15 .63 .15 4.38 .15 .55 .15 -3.25 .15 2.02 .15 .16 .15 .77 .15 -1.63 .15 2.19 .15 -2.07 .15 1.26 .15 1.12 .15 -1.96 .15 .05 .15 .32 .15 .45 .15 -1.21 .15 -.89 .15 2.86 .15 -.46 .15 1.15 .15 -.94 .15 -.73 .15 3.67 .15 -.49 .15 -.07 .15 -.06 .15 .95 .15 2.24 .15 2.06 .15 -2.24 .15 2.61 .15 -2.17 .15 7.89 .15 -8.65 .15 .36 .15 -.32 .15 1.09 .15 9.59 .15 -4.67 .15 -1.57 .15 -1.11 .15 -8.16 .15 5.14 .15 -5.19 .15 4.46 .15 2.19 .15 -4.38 .15 3.39 .15 1.79 .15 -.72 .15 -3.91 .15 5.21 .15 -6.58 .15 4.35 .15 -.59 .15 -7.73 .15 7.14 .15 3.24 .15 -8.44 .15 5.99 .15 .49 .15 -10 .15 2.83 .15 -3.54 .15 2.74 .15 8.66 .15 -4.66 .15 7.81 .15 -16.33" fill="none" stroke="#00f" stroke-width="0.45"/>
<path d="M411 61.6L436 61.6L436.00 66.49l.08 .25 .08 -.44 .08 -1.51 .08 2.02 .08 -1.02 .08 -1.31 .08 1.07 .08 -.56 .08 -.01 .08 1.16 .08 1.16 .08 -.03 .08 -.97 .08 -.05 .08 -1.97 .08 .61 .08 .89 .08 .95 .08 -.73 .08 -1.19 .08 1.3 .08 -.7 .08 .96 .08 -.02 .08 1.45 .08 -.04 .08 -2.18 .08 .03 .08 3.19 .08 -2.21 .08 -2.7 .08 2.52 .08 1.69 .08 -1.12 .08 -.04 .08 -1.16 .08 2.88 .08 -1.7 .08 -1.64 .08 1.7 .08 -1.53 .08 1.46 .08 -1.29 .08 1.99 .08 -.39 .08 -1.7 .08 3.87 .08 -1.92 .08 -.57 .08 -3.59 .08 4.17 .08 2.77 .08 -5.73 .08 5.07 .08 1.24 .08 1.93 .08 -2.6 .08 -2.62 .08 4.99 .08 -2.98 .08 2.01 .08 -3.83 .08 8.6 .08 -6.04 .08 -.64 .08 1.64 .08 -2.28 .08 2.68 .08 -3.16 .08 3.8 .08 1.65 .08 -1.1 .08 -.62 .08 -4.17 .08 2.38 .08 1.88 .08 -.79 .08 1.19 .08 1.3 .08 -1.86 .08 -3.68 .08 6.01 .08 -2.39 .08 2.85 .08 -1.82 .08 1.58 .08 -.91 .08 1.4 .08 -1.48 .08 -3.36 .08 2.39 .08 .55 .08 -1.5 .08 7.98 .08 -4.74 .08 -1.05 .08 2.22 .08 -5.1 .08 2.07 .08 2.2 .08 -3.34 .08 -1.4 .08 5.61 .08 1.5 .08 -5.64 .08 -.01 .08 -3.12 .08 4.93 .08 -1.17 .08 -.71 .08 -2.39 .08 10.27 .08 -7.49 .08 8.6 .08 -5.61 .08 -3.84 .08 4 .08 6.99 .08 -11.47 .08 1.36 .08 1.92 .08 -.85 .08 -3.11 .08 5.62 .08 -1.68 .08 -.56 .08 .37 .08 -2.33 .08 2.66 .08 -13.7 .08 11.19 .08 -.41 .08 2.75 .08 1.46 .08 -.81 .08 1.79 .08 -6.91 .08 -2.17 .08 3.82 .08 .96 .08 .55 .08 -4.98 .08 7.89 .08 -2.62 .08 -2.68 .08 -.84 .08 4.91 .08 -4.36 .08 -1.15 .08 9.89 .08 -6.08 .08 -.96 .08 6.02 .08 -2.9 .08 -2.73 .08 1.42 .08 -1.87 .08 -6.11 .08 8.74 .08 -8.54 .08 3.72 .08 -1.55 .08 2.59 .08 1.49 .08 -1.99 .08 5.71 .08 -4.08 .08 1.22 .08 2.23 .08 -5.09 .08 -.96 .08 -2.57 .08 -3.74 .08 10.28 .08 -1.05 .08 .42 .08 .54 .08 -2.23 .08 -1.2 .08 -1.46 .08 1.55 .08 .25 .08 .76 .08 2.02 .08 -3.72 .08 .56 .08 .01 .08 2.47 .08 3.91 .08 -8.29 .08 4.11 .08 -.97 .08 2.75 .08 -4.57 .08 5.98 .08 -5.16 .08 .68 .08 4.32 .08 -4.72 .08 4.35 .08 -4.09 .08 1.63 .08 -2.66 .08 -2.35 .08 1.86 .08 .22 .08 4.05 .08 -.84 .08 1.31 .08 -6.05 .08 .46 .08 5.21 .08 .26 .08 -3.58 .08 2.35 .08 -5.16 .08 6.38 .08 -1.24 .08 -4.33 .08 1.95 .08 2.44 .08 -6.33 .08 1.11 .08 .98 .08 4.47 .08 -4.28 .08 1.93 .08 3.98 .08 -.04 .08 -7.96 .08 4.41 .08 .2 .08 -1.09 .08 -3.43 .08 4.87 .08 3.91 .08 -7.14 .08 8.38 .08 -7.29 .08 -.95 .08 -.36 .08 3.69 .08 -1.6 .08 2.86 .08 -2.94 .08 -1.31 .08 1.1 .08 -.36 .08 .1 .08 1.09 .08 -2.07 .08 5.44 .08 -5.05 .08 1.17 .08 .94 .08 -2.68 .08 4.99 .08 -5.41 .08 4.27 .08 -10.29 .08 8.68 .08 -.31 .08 -1.01 .08 -.14 .08 -.37 .08 -1.28 .08 -4.15 .08 6.43 .08 -1.25 .08 7.56 .08 -7.97 .08 4.03 .08 -6.6 .08 4.89 .08 -3.73 .08 1.84 .08 6.26 .08 -3.32 .08 -8.38 .08 8.73 .08 -7.67 .08 5.94 .08 2.83 .08 -3.85 .08 -1.08 .08 3.64 .08 -1.86 .08 .92 .08 .55 .08 2 .08 -.23 .08 -2.54 .08 -2.24 .08 1.26 .08 2.57 .08 .04 .08 -1.91 .08 -.62 .08 11.62 .08 -5.46 .08 -1.54 .08 -1.88 .08 -.58 .08 1.39 .08 -.99 .08 -.15 .08 1.95 .08 -11.42 .08 6.73 .08 9.22 .08 -6.69 .08 .82 .08 -1.83 .08 4.34 .08 -11.4 .08 4.96 .08 -.21 .08 10.02 .08 -3.42 .08 4.5 .08 -8.02 .08 -2.42 .08 4.27 .08 -.54 .08 .91 .08 .31 .08 -.75 .08 1.84 .08 .14 .08 -2.44 .08 -3.51 .08 4.09 .08 .42 .08 -2.2 .08 2.01 .08 3.12 .08 5.06 .08 -7.83 .08 .4 .08 -.49 .08 -3.99 .08 6.61 .08 -3.33 .08 8.06 .08 -5.87 .08 -5.64 .08 3.47 .08 -12.04 .08 9.81 .08 4.15 .08 -4.3 .08 1.69 .08 -1.35 .08 1.78 .08 4.43 .08 -2.53 .08 -.36 .08 -1.82 .08 -1.09 .08 4.5 .08 -1.03 .08 3.92 .08 -2.16 .08 -.91 .08 -2.02 .08 -6.57 .08 3.53 .08 1.67 .08 -.58 .08 4.9 .08 -10.16 .08 8.83 .08 -8.15 .08 2.79 .08 -.33 .08 4.85 .08 -3.35 .08 4.99 .08 -9.03 .08 20.14 .08 -8.83 .08 -.57 .08 -4.58 .08 6.56 .08 -3.05 .08 .28 .08 -3.99 .08 -1.02 .08 5.91 .08 -3.03 .08 10.67 .08 -14.41 .08 6.82 .08 -4.27 .08 -1.65 .08 8.21 .08 -6.02 .08 3.39 .08 -3.44 .08 1.59 .08 -9.23 .08 8.95 .08 -1.74 .08 -1.01 .08 1.4 .08 6.29 .08 -2.8 .08 -6.8 .08 2.08 .08 5.32 .08 -1.45 .08 -4 .08 7.02 .08 -6.67 .08 10.67 .08 -6.93 .08 1.47 .08 -3.59 .08 1.47 .08 .27 .08 3.57 .08 -6.59 .08 2.55 .08 2.07 .08 -.29 .08 -1.37 .08 3.65 .08 2.11 .08 -.09 .08 -11.35 .08 9.12 .08 -5.62 .08 3.19 .08 -.25 .08 2.87 .08 -4.93 .08 .94 .08 3.64 .08 -4.65 .08 1.2 .08 8.84 .08 -9.41 .08 4.94 .08 -1.95 .08 2.08 .08 -2.93 .08 1.14 .08 1.42 .08 -1.59 .08 1.61 .08 -3.83 .08 .14 .08 4 .08 -.97 .08 -2.78 .08 3.06 .08 -9.51 .08 8.11 .08 -1.19 .08 -3.67 .08 4.31 .08 -.79 .08 2.6 .08 -5.33 .08 2.35 .08 4.66 .08 -6.97 .08 10.25 .08 -13.76 .08 5.32 .08 .59 .08 2.34 .08 -3.74 .08 .67 .08 -1.24 .08 5.63 .08 3.2 .08 -9.68 .08 2.77 .08 -1.12 .08 4.19 .08 -14.04 .08 10.39 .08 -2.44 .08 4.08 .08 -2.22 .08 .34 .08 -1.82 .08 4.29 .08 -1.2 .08 -1.99 .08 5.59 .08 -3.44 .08 2.72 .08 -2.04 .08 -.15 .08 1.54 .08 -.34 .08 0 .08 -4.74 .08 3.1 .08 -9.19 .08 14.15 .08 -4.59 .08 -1.79 .08 .28 .08 -5.44 .08 5.14 .08 2.32 .08 1.32 .08 -4.49 .08 5.96 .08 -4.79 .08 2.13 .08 5.27 .08 -6.78 .08 -2.07 .08 -1.77 .08 13.17 .08 -11.56 .08 1.87 .08 -.92 .08 2.42 .08 -1.43 .08 -5.57 .08 4.62 .08 1.7 .08 -3.51 .08 3.94 .08 -1.18 .08 -2.69 .08 -1.55 .08 -3.84 .08 7.22 .08 -4.24 .08 12.87 .08 -8.17 .08 -2.82 .08 2.69 .08 2.82 .08 3.4 .08 -5.9 .08 2.58 .08 -3.92 .08 -5.65 .08 7.62 .08 -3.49 .08 -1.56 .08 -2.19 .08 7.74 .08 -4.57 .08 8.47 .08 -11.1 .08 10.37 .08 -8.23 .08 7.81 .08 -1.52 .08 -3.2 .08 .99 .08 2.78 .08 -4 .08 -6.14 .08 3.38 .08 7.25 .08 -.79 .08 -1.44 .08 -1.34 .08 -7.3 .08 7.45 .08 1.56 .08 -2.87 .08 .55 .08 .86 .08 -2.08 .08 15.63 .08 -13.62 .08 -2.9 .08 3.17 .08 .14 .08 -1.89 .08 3.14 .08 -6.24 .08 2.26 .08 3.08 .08 -3.26 .08 -.82 .08 11.72 .08 -8.09 .08 3.59 .08 -5.41 .08 1.58 .08 -1.4 .08 4.33 .08 1.89 .08 -6.21 .08 3.32 .08 -3.37 .08 -1.31 .08 2.93 .08 -6.7 .08 4.14 .08 10.16 .08 -9.4 .08 3.08 .08 -5.7 .08 5.25 .08 -1.58 .08 .89 .08 1.06 .08 5.46 .08 -6.35 .08 -1.35 .08 -5.05 .08 -.64 .08 2.18 .08 4.48 .08 -4.57 .08 5.67 .08 -3.98 .08 3.13 .08 -.82 .08 3.11 .08 -1.57 .08 -6.34 .08 4.67 .08 -4.47 .08 9.31 .08 -2.44 .08 -8.96 .08 8.47 .08 -4.95 .08 4.7 .08 -5.01 .08 7.23 .08 -6.13 .08 7.32 .08 -3.08 .08 -4.74 .08 2.49 .08 -3.08 .08 2.49 .08 -.93 .08 2.81 .08 2.34 .08 -4.2 .08 -4.87 .08 3.39 .08 -2.85 .08 5.26 .08 -.94 .08 -2.75 .08 4.13 .08 -.37 .08 -2.14 .08 3.24 .08 -4.74 .08 .78 .08 -.88 .08 .23 .08 -3.34 .08 2.11 .08 1.66 .08 .93 .08 1.11 .08 .85 .08 -7.33 .08 4.16 .08 10.96 .08 -6.09 .08 -.05 .08 -2.45 .08 -2.37 .08 7.02 .08 -6.1 .08 2.16 .08 -6.56 .08 4.85 .08 .29 .08 -2.85 .08 -5.59 .08 10.57 .08 -.39 .08 -2.74 .08 -2.21 .08 11.01 .08 -11.59 .08 3.26 .08 -1.25 .08 -2.25 .08 1.19 .08 -.9 .08 2.34 .08 -.85 .08 -.21 .08 -2.71 .08 -3.38 .08 4.6 .08 3.54 .08 -7.05 .08 3.44 .08 2.53 .08 -2.9 .08 1.52 .08 -2.15 .08 2.29 .08 -.79 .08 -1.76 .08 3.71 .08 -6.73 .08 4.43 .08 3.11 .08 -3.85 .08 2.78 .08 -3 .08 1.98 .08 .57 .08 -8.1 .08 3.12 .08 6.57 .08 4.72 .08 -3.07 .08 -2.19 .08 -2.04 .08 7.44 .08 -5.75 .08 .5 .08 -1.33 .08 3.16 .08 -1.77 .08 -5.88 .08 5.59 .08 5.16 .08 -3.69 .08 -5.96 .08 3.77 .08 2.51 .08 -1.02 .08 -8.91 .08 2.84 .08 7.42 .08 -3.07 .08 2.13 .08 -2.61 .08 2.62 .08 -7.19 .08 6.17 .08 -.41 .08 .61 .08 -5.29 .08 -.06 .08 5.68 .08 -4.77 .08 5.08 .08 -.41 .08 2.32 .08 -5.73 .08 -5.32 .08 5.84 .08 15.46 .08 -7.25 .08 -5.14 .08 -2.68 .08 3.07 .08 -2.99 .08 3.84 .08 -2.45 .08 .67 .08 -2.39 .08 1.24 .08 1.6 .08 1.28 .08 .01 .08 -2.66 .08 7.02 .08 1.46 .08 -2.63 .08 -2.6 .08 -3.76 .08 3.51 .08 -2.78 .08 6.47 .08 -2.95 .08 -2.65 .08 7.69 .08 -5.77 .08 -3.06 .08 5.55 .08 -5.47 .08 4.06 .08 -.24 .08 3.22 .08 -.11 .08 -9.78 .08 8.3 .08 -3.03 .08 6.18 .08 2.47 .08 -10.03 .08 8.37 .08 -4.81 .08 -1.13 .08 .3 .08 4.17 .08 -3.44 .08 3.63 .08 1.65 .08 -8.91 .08 8.04 .08 -9.14 .08 4.93 .08 3.35 .08 -.69 .08 -5.58 .08 11.77 .08 -1.84 .08 -5.94 .08 .96 .08 3.94 .08 -.12 .08 -1.39 .08 -3.83 .08 -.76 .08 4.76 .08 2.78 .08 -9.46 .08 1.04 .08 4.16 .08 1.6 .08 2.67 .08 -1.67 .08 2.35 .08 -4.5 .08 2.47 .08 -2.23 .08 -.66 .08 .14 .08 .27 .08 -1.27 .08 1.37 .08 -1.7 .08 2.52 .08 3.43 .08 -5.86 .08 3.59 .08 -2.56 .08 2.14 .08 -.24 .08 -4.55 .08 5.51 .08 -1.59 .08 2.25 .08 -3.04 .08 3.37 .08 -5.11 .08 6.06 .08 -4.36 .08 4.05 .08 -3.5 .08 -.81 .08 -2.93 .08 2.56 .08 6.32 .08 -6.36 .08 3.75 .08 -4.51 .08 -2.76 .08 3.92 .08 6.72 .08 -3.83 .08 4.41 .08 -11.08 .08 3.36 .08 3.42 .08 -1.73 .08 .3 .08 2.08 .08 -4.35 .08 -.7 .08 5.77 .08 -4.85 .08 7.07 .08 -4.15 .08 -.83 .08 4.97 .08 -6.71 .08 2.76 .08 -2.58 .08 -.42 .08 3.55 .08 -4.67 .08 7.74 .08 -5.04 .08 1.53 .08 .15 .08 -3.58 .08 4.51 .08 .6 .08 1.04 .08 -8.07 .08 .93 .08 4.54 .08 -2.05 .08 4.75 .08 -4.1 .08 6.23 .08 -6.71 .08 -4.12 .08 5.11 .08 -3.96 .08 2.33 .08 3.03 .08 -7.58 .08 3.65 .08 5.81 .08 -4.49 .08 -2.48 .08 -6.26 .08 9.48 .08 -4.47 .08 9.7 .08 -8.48 .08 6.15 .08 -2.71 .08 -1.35 .08 1.67 .08 -4.14 .08 -.09 .08 3.45 .08 -8.14 .08 3.08 .08 3.13 .08 .42 .08 11.96 .08 -13.14 .08 2.38 .08 -.49 .08 4.98 .08 -6.86 .08 2.73 .08 -2.75 .08 .31 .08 -.66 .08 6.63 .08 -7.18 .08 10.3 .08 -8.37 .08 4.61 .08 -4.79 .08 6.07 .08 -6.73 .08 3.68 .08 -6.41 .08 2.09 .08 -1.22 .08 3.39 .08 -5.1 .08 -3.65 .08 6.28 .08 -3.34 .08 8.18 .08 -3.55 .08 .38 .08 .26 .08 1.1 .08 -2.87 .08 4.43 .08 -3.93 .08 -4.03 .08 9.16 .08 -7.11 .08 2.36 .08 2.55 .08 -6.23 .08 4 .08 2.1 .08 -3.36 .08 2.89 .08 -4.47 .08 -.13 .08 3.18 .08 -3 .08 2.72 .08 -.22 .08 .88 .08 -9.41 .08 6.65 .08 3.16 .08 -2.65 .08 .61 .08 -1.11 .08 6.68 .08 -8.09 .08 4.48 .08 12.28 .08 -13.51 .08 -.53 .08 3.12 .08 -5.31 .08 5.75 .08 -2.18 .08 -3.09 .08 .01 .08 3.24 .08 4.09 .08 -5.54 .08 3.63 .08 -.43 .08 2.64 .08 -3.04 .08 10.21 .08 -10.17 .08 5.41 .08 -1.43 .08 -4.05 .08 -1.77 .08 4.71 .08 6.63 .08 -6.93 .08 -1.57 .08 -.14 .08 -.69 .08 4.22 .08 -.86 .08 -6.69 .08 1.58 .08 .13 .08 5.88 .08 -7.06 .08 1.18 .08 2.23 .08 6.24 .08 -1.98 .08 -2.37 .08 -.23 .08 -4.26 .08 -.65 .08 1.72 .08 5.5 .08 -3.64 .08 4.56 .08 -13.08 .08 8.76 .08 -.3 .08 1.28 .08 -.08 .08 -4.45 .08 -1.56 .08 7.83 .08 -.29 .08 -2.45 .08 .32 .08 2.77 .08 -1.54 .08 -1.02 .08 -6.54 .08 6.49 .08 .25 .08 -.98 .08 .82 .08 -1.38 .08 -2.35 .08 5.27 .08 -.69 .08 -.08 .08 -3.33 .08 .77 .08 .06 .08 -1.3 .08 5.77 .08 1.23 .08 -4.57 .08 2.02 .08 .28 .08 -1.39 .08 .79 .08 -4.31 .08 2.93 .08 .72 .08 1.94 .08 -1.26 .08 1.29 .08 -5.51 .08 7.27 .08 -4.36 .08 2.05 .08 3.06 .08 -2.74 .08 -.61 .08 1.68 .08 -1.79 .08 -3.16 .08 6.23 .08 -2.54 .08 -4.05 .08 1.87 .08 -7.18 .08 3.17 .08 8.81 .08 -8.63 .08 7.53 .08 -8.79 .08 5.58 .08 1.67 .08 -1.9 .08 -3.62 .08 6.51 .08 .3 .08 -3.21 .08 2.72 .08 -7.81 .08 1.48 .08 5.87 .08 -.16 .08 -2.66 .08 3.44 .08 -1.02 .08 -.26 .08 -.21 .08 -1.28 .08 3.67 .08 -10.13 .08 9.9 .08 .13 .08 4.73 .08 -8.08 .08 5.28 .08 -1.08 .08 -3.96 .08 .23 .08 4.77 .08 -2.65 .08 -5.11 .08 3.23 .08 2.83 .08 -1.62 .08 1.58 .08 -2.93 .08 -14.71 .08 11.66 .08 1.74 .08 1.73 .08 -.94 .08 3.64 .08 -7.36 .08 5.28 .08 1.55 .08 -3.85 .08 3.74 .08 -8.68 .08 7.92 .08 .21 .08 -3.26 .08 .13 .08 2.32 .08 .57 .08 2.24 .08 -2.86 .08 -.84 .08 -1.44 .08 -1.68 .08 2.73 .08 2.96 .08 -2.41 .08 -.13 .08 2.14 .08 -1.16 .08 2.07 .08 4.51 .08 -11.49 .08 -.46 .08 1.51 .08 8.93 .08 -3.74 .08 .95 .08 -1.13 .08 -2.89 .08 1.03 .08 1.7 .08 -6.85 .08 5.15 .08 1.76 .08 -.28 .08 -5.05 .08 5.74 .08 -.74 .08 2.14 .08 -7.35 .08 4.26 .08 1.12 .08 -4.88 .08 -3.58 .08 9.2 .08 -2.89 .08 -6.12 .08 4.5 .08 6.57 .08 -5.29 .08 3.41 .08 -1.99 .08 2.89 .08 -1.71 .08 -20.67 .08 12.79 .08 5.27 .08 -2.99 .08 1.96 .08 4.55 .08 -.47 .08 -3.79 .08 6.82 .08 -1.01 .08 -4.68 .08 -4.31 .08 2.74 .08 .39 .08 3.22 .08 -1 .08 -4.28 .08 2.61 .08 3.14 .08 -4.64 .08 5.39 .08 -1.77 .08 -4.42 .08 8.26 .08 .29 .08 -5.57 .08 2.58 .08 1.47 .08 -6.21 .08 3.39 .08 -2.59 .08 -5.85 .08 3.45 .08 2.94 .08 -.6 .08 6.37 .08 -1.84 .08 -.98 .08 -2.9 .08 4.07 .08 5.11 .08 -7.19 .08 -1.12 .08 2.01 .08 -3.37 .08 -.28 .08 2.74 .08 .65 .08 1.4 .08 -1.61 .08 -1.05 .08 -4.61 .08 11.21 .08 8.75 .08 -17.67 .08 -.31 .08 3.43 .08 -1.16 .08 .6 .08 1.56 .08 3.78 .08 -7.86 .08 .8 .08 4.97 .08 -7.36 .08 1 .08 8.19 .08 -5.52 .08 -.3 .08 -1.27 .08 7.7 .08 -3.04 .08 -5.08 .08 1.04 .08 -4.26 .08 8.04 .08 -1.15 .08 -3.75 .08 6.36 .08 -.44 .08 -5.58 .08 5.51 .08 -6.46 .08 1.48 .08 2.61 .08 2.82 .08 -8.38 .08 2.25 .08 7.85 .08 -6.16 .08 -9.11 .08 7.19 .08 -1.2 .08 -2.39 .08 1.16 .08 2.84 .08 -1.1 .08 -.82 .08 1.26 .08 -1.06 .08 .34 .08 6.98 .08 -3.98 .08 -2.33 .08 3.99 .08 -1.99 .08 -.09 .08 -1.2 .08 4.28 .08 -7.78 .08 9.58 .08 -5.02 .08 -2.9 .08 -5.08 .08 8.44 .08 -3.97 .08 2.72 .08 -2.62 .08 .48 .08 -.04 .08 4 .08 -6.04 .08 1.58 .08 -.27 .08 3.36 .08 .9 .08 -3.04 .08 .67 .08 .38 .08 -5.71 .08 8.83 .08 -.56 .08 8.45 .08 -18.1 .08 7.19 .08 -8.18 .08 5.68 .08 -1.53 .08 6.97 .08 -5.06 .08 6.97 .08 -6.82 .08 2.52 .08 1.69 .08 -2.49 .08 -.73 .08 2.78 .08 -3.96 .08 5.5 .08 3.33 .08 -4.39 .08 -2.03 .08 -.64 .08 .27 .08 4.55 .08 -.35 .08 -4.09 .08 1.45 .08 1.24 .08 -3.4 .08 -5.58 .08 3.03 .08 8.25 .08 -6.29 .08 7.91 .08 -3.29 .08 2.96 .08 -2.99 .08 2.36 .08 -2.56 .08 -1.72 .08 2.82 .08 .63 .08 -2.37 .08 4.63 .08 -.59 .08 -.06 .08 -.1 .08 -2.01 .08 1.64 .08 1.45 .08 -5.06 .08 2.12 .08 2.36 .08 -.39 .08 -5.35 .08 2.48 .08 4.33 .08 -2.86 .08 .18 .08 2.85 .08 -6.76 .08 -.08 .08 1.2 .08 2.17 .08 1.79 .08 -1.96 .08 3.1 .08 -5.04 .08 3.81 .08 .73 .08 -2.27 .08 -3.37 .08 1.32 .08 4.09 .08 3.44 .08 -13.94 .08 8.28 .08 -3.17 .08 -4.23 .08 6.71 .08 11.63 .08 -15.24 .08 8.61 .08 -4.78 .08 -.64 .08 -4.52 .08 5.25 .08 4 .08 -6.01 .08 -5.23 .08 2.41 .08 2.35 .08 1.76 .08 -4.15 .08 -2.44 .08 6.49 .08 1 .08 -1.9 .08 .51 .08 2.59 .08 -5.39 .08 5.01 .08 -7.04 .08 -2.18 .08 -2.93 .08 14.77 .08 -6.95 .08 -.77 .08 2.68 .08 1.05 .08 -9.79 .08 7.08 .08 3.91 .08 -5.38 .08 6.17 .08 -1.46 .08 -2.86 .08 2.84 .08 2.81 .08 -7.67 .08 -.39 .08 4.77 .08 -3.64 .08 -1.37 .08 2.79 .08 1.89 .08 .28 .08 -1.35 .08 .94 .08 -4 .08 2.11 .08 1.95 .08 -5.72 .08 7.86 .08 -.72 .08 -3.58 .08 7.78 .08 -12.31 .08 2.36 .08 2.45 .08 1.4 .08 1.26 .08 -3.22 .08 -1.21 .08 .16 .08 2.61 .08 -1.74 .08 -5.39 .08 4.52 .08 .35 .08 1.53 .08 .13 .08 6.54 .08 -6.6 .08 -4.3 .08 8.09 .08 -4.32 .08 2.95 .08 -1.93 .08 -1.1 .08 -2.65 .08 3.47 .08 -.09 .08 -2.6 .08 1.29 .08 -1.72 .08 -.23 .08 2.55 .08 -.46 .08 -2.56 .08 1.26 .08 2.59 .08 -1.49 .08 1.2 .08 4.43 .08 -9.17 .08 2.48 .08 7.5 .08 -5.71 .08 3.7 .08 -12.09 .08 8.5 .08 -6.05 .08 9.22 .08 -5.1 .08 1.42 .08 -1.46 .08 -.27 .08 -2.82 .08 4.64 .08 -3.94 .08 5.35 .08 -3.25 .08 .95 .08 1.71 .08 -5.55 .08 .21 .08 3.09 .08 -4.32 .08 1.89 .08 3.68 .08 -4.23 .08 3.14 .08 5.08 .08 -3.25 .08 -1.52 .08 -11.41 .08 9.49 .08 -.29 .08 .21 .08 -2.16 .08 4.98 .08 10.08 .08 -12.65 .08 -3.69 .08 7.4 .08 -3.61 .08 -.2 .08 -.35 .08 .69 .08 3.63 .08 -5.66 .08 4.31 .08 -3.1 .08 1.16 .08 3.66 .08 -6 .08 3.17 .08 2.62 .08 -6.71 .08 2.05 .08 3.88 .08 12.9 .08 -15.44 .08 -2.18 .08 1.95 .08 11.74 .08 -11.6 .08 1.11 .08 3.89 .08 -11.2 .08 -.71 .08 6.99 .08 3.96 .08 .11 .08 -5.38 .08 3.81 .08 2.91 .08 -9.99 .08 -2.66 .08 12.88 .08 -2.94 .08 -2.45 .08 2.88 .08 2.79 .08 -10.49 .08 1.22 .08 7.75 .08 -7.25 .08 7.95 .08 -10.48 .08 2.68 .08 4.74 .08 1.08 .08 3.55 .08 -.39 .08 -3.88 .08 -11.84 .08 15.49 .08 -9.5 .08 6.04 .08 5.87 .08 -2.31 .08 -6.71 .08 -2.24 .08 10.71 .08 -9.32 .08 .97 .08 11.11 .08 -4.92 .08 -5.82 .08 -.71 .08 3 .08 -.7 .08 -1.21 .08 3.05 .08 3.92 .08 -13.77 .08 6.69 .08 .42 .08 2.54 .08 -1.48 .08 10.79 .08 -16.37 .08 6.36 .08 3.05 .08 .37 .08 -.94 .08 -3.49 .08 1.3 .08 -.76 .08 .74 .08 3.8 .08 -7.76 .08 -.46 .08 14.45 .08 -15.91 .08 2.75 .08 2.35 .08 -4.47 .08 2.82 .08 -4.18 .08 14.58 .08 -8.87 .08 -2.25 .08 .46 .08 -11.38 .08 13.45 .08 -7.84 .08 8.46 .08 -3.4 .08 .4 .08 2.08 .08 -2.95 .08 3.85 .08 -5.18 .08 2.54 .08 -2.83 .08 -.86 .08 2.89 .08 4.18 .08 -4.69 .08 2.51 .08 2.79 .08 -6.33 .08 7.36 .08 -11.08 .08 6.7 .08 -.04 .08 3.73 .08 -6.87 .08 5.26 .08 -6.49 .08 5.97 .08 -1.2 .08 -6.07 .08 14.53 .08 -5.72 .08 -2.69 .08 -1.7 .08 4 .08 -5.38 .08 6.53 .08 -3.92 .08 -4.38 .08 5.5 .08 -2.31 .08 7.9 .08 -4.82 .08 -4.43 .08 5.44 .08 3.66 .08 2.67 .08 -6.71 .08 .91 .08 -4.62 .08 7.5 .08 -3.45 .08 -.1 .08 -1.91 .08 2.21 .08 -4.59 .08 2.88 .08 .13 .08 -1.81 .08 4.26 .08 -1.97 .08 3.57 .08 -6.19 .08 11.7 .08 -17.06 .08 5.14 .08 2.24 .08 -.94 .08 2.99 .08 -1.2 .08 1.44 .08 .33 .08 -6.18 .08 -3.14 .08 4.12 .08 -.26 .08 .62 .08 -.2 .08 1.18 .08 -.47 .08 .73 .08 -5.45 .08 4.15 .08 5.26 .08 -.25 .08 -14.91 .08 11.01 .08 .13 .08 -3.42 .08 3.87 .08 1.16 .08 -4.08 .08 .45 .08 3.31 .08 4.67 .08 .13 .08 -3.65 .08 -2.38 .08 -4.82 .08 5.17 .08 2.25 .08 1.27 .08 -4.93 .08 2.01 .08 3.43 .08 -7.47 .08 5.95 .08 1.65 .08 -4 .08 .76 .08 .78 .08 -.21 .08 -2.46 .08 13.21 .08 -11.47 .08 -.22 .08 -1.03 .08 -.46 .08 2.77 .08 -4.19 .08 4.31 .08 -3.11 .08 2.83 .08 -3.2 .08 3.95 .08 -1.57 .08 -6.11 .08 6.89 .08 .04 .08 1.05 .08 -1.7 .08 .56 .08 -1.31 .08 5.79 .08 -7.39 .08 -2.73 .08 3.39 .08 -2.24 .08 1.6 .08 3.05 .08 7.26 .08 -5.5 .08 -1.88 .08 3.06 .08 -3.41 .08 -2.65 .08 -1.57 .08 -2.93 .08 6.56 .08 .44 .08 1.16 .08 1.79 .08 1.9 .08 -7.5 .08 4.92 .08 -2.85 .08 -5.64 .08 13.18 .08 -4.88 .08 -12.22 .08 10.67 .08 -7.05 .08 5.43 .08 -.14 .08 1.96 .08 2.27 .08 -5.72 .08 2.36 .08 7.51 .08 -3.48 .08 -4.77 .08 2.02 .08 -.54 .08 -5.02 .08 4.7 .08 1.11 .08 -9.36 .08 5.2 .08 -1.75 .08 4.46 .08 -.96 .08 .57 .08 1.47 .08 -3.31 .08 -2.3 .08 2 .08 -1.98 .08 -10.6 .08 9.91 .08 3.82 .08 -6.9 .08 7.97 .08 -2.57 .08 1.68 .08 .15 .08 -4.13 .08 -6.58 .08 13.11 .08 -7.64 .08 .84 .08 -1.82 .08 8.95 .08 -6.75 .08 .96 .08 -3.72 .08 3.12 .08 -2.58 .08 9.9 .08 -1.05 .08 -2.27 .08 .31 .08 -3.64 .08 1.37 .08 3.73 .08 -2.81 .08 -2.89 .08 -.47 .08 3.99 .08 -16.74 .08 17.54 .08 -1.25 .08 -.53 .08 -4.13 .08 -2.19 .08 5.2 .08 1.32 .08 -1.87 .08 -.16 .08 -8.83 .08 5.06 .08 1.27 .08 5.96 .08 -11.11 .08 -4.89 .08 11.8 .08 1.41 .08 2.42 .08 -1.23 .08 -6.35 .08 .21 .08 9.53 .08 4.6 .08 -11.63 .08 -.64 .08 2.2 .08 -5.33 .08 4.03 .08 -.81 .08 -4.87 .08 2.8 .08 2.32 .08 1.26 .08 -5.31 .08 3.38 .08 4.54 .08 -4.95 .08 -1.4 .08 2.7 .08 3.68 .08 -.82 .08 -2.01 .08 -.14 .08 6.65 .08 -7.59 .08 -2.34 .08 -1.69 .08 5.94 .08 6.65 .08 -8.93 .08 1 .08 .94 .08 -5.39 .08 9.43 .08 -2.46 .08 1.14 .08 -14.54 .08 14.36 .08 .47 .08 -4.28 .08 7.22 .08 -8.12 .08 1.2 .08 6.98 .08 -1.85 .08 -3.2 .08 4.43 .08 -6.43 .08 -.22 .08 2.28 .08 2.22 .08 -.03 .08 -3.39 .08 2.79 .08 -4.92 .08 4.3 .08 -2.65 .08 5.72 .08 -8.15 .08 3.62 .08 -5.52 .08 6.36 .08 -3.08 .08 .85 .08 -1.42 .08 8.59 .08 -8.74 .08 1.74 .08 -3.87 .08 3.39 .08 -.1 .08 -1.02 .08 -.7 .08 3.27 .08 3.57 .08 -2.23 .08 -3.58 .08 2.41 .08 2.43 .08 2.47 .08 -3.72 .08 -3.39 .08 .5 .08 .46 .08 1.01 .08 -3.33 .08 4.61 .08 1.41 .08 -.9 .08 2.09 .08 -9.3 .08 4.04 .08 5.2 .08 -9.83 .08 8.09 .08 1.71 .08 -10.52 .08 -3.83 .08 5.88 .08 4.1 .08 1.94 .08 1 .08 1.11 .08 -4.41 .08 1.8 .08 -7.87 .08 5.75 .08 -.94 .08 .51 .08 2.7 .08 2.25 .08 -5.44 .08 3.12 .08 .25 .08 -.75 .08 -.77 .08 -8.87 .08 8.28 .08 -3.31 .08 6.57 .08 -1.64 .08 -1.16 .08 -3.06 .08 8.21 .08 -8.14 .08 5.17 .08 -.65 .08 7.04 .08 -6.51 .08 -.73 .08 9.57 .08 -8.86 .08 .08 .08 -3.34 .08 1.86 .08 4.19 .08 -5.06 .08 4.52 .08 -1.67 .08 3.85 .08 -2.26 .08 -4.15 .08 -2.07 .08 7.41 .08 -6.68 .08 2.57 .08 .77 .08 .87 .08 3.63 .08 -3.89 .08 -1.19 .08 6.53 .08 -1.03 .08 1.29 .08 -5.52 .08 .89 .08 -2.01 .08 5.65 .08 -2.5 .08 -2.69 .08 1.07 .08 5.15 .08 4.91 .08 -9.61 .08 4.11 .08 -.12 .08 -2.22 .08 2.95 .08 -2.69 .08 -2.05 .08 1.86 .08 3.38 .08 -6.39 .08 -2.08 .08 7.3 .08 -6.88 .08 4.98 .08 -3.24 .08 2.87 .08 -2.6 .08 5.09 .08 -10.35 .08 4.85 .08 .22 .08 -2.62 .08 1.74 .08 4.7 .08 2.44 .08 -4.19 .08 -1.98 .08 1.27 .08 1.09 .08 -6.37 .08 6.77 .08 -.33 .08 -5.91 .08 -4.56 .08 3.66 .08 -.74 .08 14.22 .08 -10.63 .08 2.88 .08 1.6 .08 -.55 .08 .2 .08 -3.42 .08 -.99 .08 5.23 .08 -6.23 .08 3.24 .08 -3.49 .08 4.43 .08 -3.98 .08 3.72 .08 2.06 .08 .59 .08 .01 .08 -5.98 .08 7.09 .08 -5.11 .08 1.59 .08 2.7 .08 2.94 .08 -10.3 .08 7.65 .08 4.24 .08 -6.21 .08 -.41 .08 .44 .08 -4.65 .08 3.05 .08 -2.48 .08 4.21 .08 -1.59 .08 .76 .08 -4.17 .08 1.68 .08 5.4 .08 1.96 .08 -7.98 .08 4.39 .08 -5.53 .08 4.82 .08 -8.3 .08 6.97 .08 4 .08 -4.29 .08 2.92 .08 -5.47 .08 3.27 .08 -.51 .08 1.18 .08 -3.71 .08 3.03 .08 -2.73 .08 1.38 .08 -2.68 .08 8.3 .08 -2.55 .08 -.48 .08 -1.03 .08 -.03 .08 2.75 .08 -.78 .08 -1.73 .08 1.74 .08 -3.17 .08 .07 .08 4.31 .08 -10.11 .08 8.91 .08 -1.58 .08 1.49 .08 -.33 .08 -5.3 .08 7.54 .08 -8.56 .08 3.8 .08 13.54 .08 -13.22 .08 -4.15 .08 6.13 .08 .3 .08 -5.59 .08 1.09 .08 1.25 .08 -1.06 .08 -.75 .08 4.44 .08 -4.3 .08 8.26 .08 -4.94 .08 12.87 .08 -16.47 .08 6.68 .08 -3.76 .08 -2.55 .08 6.09 .08 -5.8 .08 4.82 .08 -1.46 .08 .25 .08 -.08 .08 3.63 .08 .95 .08 -3.81 .08 3.13 .08 -1.07 .08 -1.2 .08 1.94 .08 6.11 .08 -3.03 .08 -1.12 .08 1.64 .08 -1.59 .08 -3.15 .08 -1.65 .08 8.47 .08 -3.43 .08 -.34 .08 -.47 .08 2.06 .08 2.54 .08 -7.73 .08 .61 .08 6.27 .08 -5.87 .08 -.62 .08 1.86 .08 -2.39 .08 5.35 .08 -3.4 .08 4 .08 -3.29 .08 4.4 .08 -8.5 .08 6.88 .08 -5.35 .08 -8.84 .08 15.72 .08 -8.66 .08 -1.37 .08 -1.59 .08 7.74 .08 -.61 .08 -1.67 .08 8.3 .08 -4.68 .08 1.79 .08 -7.5 .08 5.04 .08 -1.8 .08 -2.29 .08 -.91 .08 2.1 .08 -1.79 .08 -.78 .08 2.62 .08 .33 .08 -2.98 .08 3.35 .08 -1.23 .08 -6.33 .08 9.02 .08 -.46 .08 -1.04 .08 .75 .08 .98 .08 -2.15 .08 -5.64 .08 3.46 .08 -.73 .08 -3.57 .08 -1.3 .08 9.85 .08 1.23 .08 -2.44 .08 -2.2 .08 -.29 .08 1.85 .08 -6.84 .08 8.33 .08 -3.79 .08 2.33 .08 -.03 .08 -9.76 .08 5.6 .08 -7.53 .08 4.63 .08 5.94 .08 -7.33 .08 .7 .08 5 .08 -5.32 .08 1.26 .08 1.45 .08 -.73 .08 1.05 .08 .35 .08 -1.56 .08 2.02 .08 -.05 .08 -1.73 .08 -3.11 .08 1.46 .08 -10.1 .08 17.46 .08 -2.34 .08 -.01 .08 -9.57 .08 4.64 .08 2.4 .08 1.85 .08 -3.85 .08 -1.3 .08 -9.96 .08 12.82 .08 1.34 .08 -3.95 .08 3.36 .08 -.25 .08 .86 .08 2.05 .08 2.48 .08 -12.67 .08 3.18 .08 6.62 .08 -1.78 .08 -4.19 .08 2.35 .08 8.29 .08 -8.17 .08 -3.68 .08 5.2 .08 -3.76 .08 5.21 .08 -.1 .08 7.05 .08 -6.38 .08 .57 .08 -6.35 .08 6.54 .08 3.6 .08 2.77 .08 -4.35 .08 .96 .08 -4.23 .08 3.34 .08 -5.58 .08 1.82 .08 -.73 .08 1 .08 1.82 .08 -2.47 .08 -6.13 .08 3.2 .08 7.42 .08 -7.2 .08 -.94 .08 7.21 .08 2.05 .08 -1.58 .08 -6.55 .08 -2.91 .08 7.6 .08 -4.82 .08 -1.06 .08 5.1 .08 -1.56 .08 3.3 .08 -2.03 .08 -6.03 .08 17.22 .08 -15.22 .08 9.4 .08 -10.4 .08 6.2 .08 -5.14 .08 -.6 .08 .03 .08 -5.31 .08 3.3 .08 9.74 .08 -6.08 .08 4.55 .08 .47 .08 -2.48 .08 -3.41 .08 4.54 .08 -6.4 .08 4.84 .08 4.2 .08 -4.91 .08 -2.5 .08 4.28 .08 -13.86 .08 11.35 .08 -1.94 .08 5.05 .08 -1.75 .08 -2.1 .08 5.59 .08 2.14 .08 -5.26 .08 -.09 .08 -.75 .08 -6.35 .08 3.71 .08 7.11 .08 -8.31 .08 5.84 .08 -4.19 .08 .33 .08 -3.29 .08 5.93 .08 -4.86 .08 3.74 .08 -6.26 .08 3.86 .08 .98 .08 5.69 .08 -3.67 .08 -3.77 .08 3.19 .08 .11 .08 -10.74 .08 8.74 .08 5.75 .08 -7.39 .08 -.35 .08 5.9 .08 -3.73 .08 1.6 .08 1.84 .08 -1.97 .08 5.22 .08 1.09 .08 -.83 .08 -8.02 .08 8.16 .08 -4.26 .08 .88 .08 -.85 .08 -9.53 .08 3.58 .08 6.11 .08 -6.01 .08 8.01 .08 -4.47 .08 -.71 .08 -3.3 .08 9.27 .08 -4.26 .08 -2.12 .08 .59 .08 2.84 .08 -3.62 .08 -4.63 .08 3.82 .08 3.71 .08 -13.41 .08 17.63 .08 -5.84 .08 -.16 .08 -4.93 .08 5.2 .08 .86 .08 .38 .08 -2 .08 2.33 .08 .6 .08 -1.1 .08 -3.77 .08 3.57 .08 1.01 .08 -4.36 .08 2.46 .08 2.59 .08 -2.52 .08 -1.05 .08 1.21 .08 4.55 .08 -6.91 .08 -1.72 .08 .13 .08 4.63 .08 -.8 .08 6.19 .08 -2.46 .08 -5.84 .08 5.18 .08 -5.93 .08 10.56 .08 -6.47 .08 -1.93 .08 4.85 .08 -3.75 .08 -2.57 .08 3.23 .08 -8.59 .08 3.77 .08 8.7 .08 3.33 .08 -6.45 .08 -.2 .08 -2.89 .08 -.17 .08 3.28 .08 3.5 .08 -5.12 .08 -1.87 .08 4.92 .08 -2.26 .08 .85 .08 3.52 .08 -12.29 .08 12.15 .08 -2.23 .08 7.81 .08 -18.47 .08 4.74 .08 1.47 .08 -1.02 .08 7.96 .08 -10.58 .08 7.42 .08 -9.17 .08 13.59 .08 -7.45 .08 -2.27 .08 6.51 .08 -3.91 .08 -6.02 .08 13.12 .08 -7.45 .08 2.62 .08 -4.53 .08 5.33 .08 -9.98 .08 4.71 .08 4.64 .08 -3.48 .08 7.5 .08 5.86 .08 -13.5 .08 2.71 .08 -2.08 .08 3.37 .08 -4.97 .08 3.73 .08 -.02 .08 -8.75 .08 3.52 .08 5.66 .08 -4.68 .08 7.37 .08 -9.26 .08 5.5 .08 -.03 .08 3.77 .08 -1.09 .08 -5.42 .08 4.82 .08 -.53 .08 -2.76 .08 3.92 .08 -4.19 .08 3 .08 -.42 .08 -5.16 .08 5.68 .08 1.14 .08 -.35 .08 -1.68 .08 2.33 .08 -8.18 .08 6.63 .08 .78 .08 -7.11 .08 6.64 .08 -.93 .08 4.06 .08 -4.41 .08 -4.79 .08 1.85 .08 8.8 .08 -8.43 .08 .97 .08 -.53 .08 4.31 .08 -.48 .08 -5.49 .08 1.54 .08 -1.72 .08 4.91 .08 -5.06 .08 6.3 .08 -10.71 .08 3.37 .08 5.67 .08 -.42 .08 -7.18 .08 2.52 .08 6.41 .08 5.73 .08 -13.59 .08 3.77 .08 8.66 .08 -10.04 .08 1.98 .08 -10.77 .08 10.32 .08 -.78 .08 6.6 .08 -5.86 .08 -4.5 .08 10.43 .08 -6.49 .08 2.85 .08 -2.59 .08 2.68 .08 .13 .08 .69 .08 -10.15 .08 6.12 .08 8.26 .08 -4.96 .08 -2.26 .08 -12.56 .08 11.34 .08 1.52 .08 .48 .08 -2.37 .08 5.19 .08 -1.67 .08 -2.07 .08 -6.36 .08 3.67 .08 1.27 .08 6.37 .08 -10.66 .08 5.01 .08 -.58 .08 7.36 .08 -6.76 .08 5.19 .08 -2.86 .08 -2.09 .08 6.53 .08 -9.58 .08 4 .08 -2.01 .08 3.09 .08 -1.63 .08 3.29 .08 -2.96 .08 .67 .08 4.92 .08 -5.38 .08 -2.74 .08 7.33 .08 -2.66 .08 2.56 .08 -.98 .08 -3.96 .08 -3.28 .08 2.79 .08 .46 .08 3.03 .08 -3.63 .08 4.01 .08 -10.15 .08 7.46 .08 2.22 .08 -3.98 .08 3.16 .08 2.78 .08 -3.83 .08 -7.81 .08 6.12 .08 2.08 .08 -5.72 .08 9.69 .08 -9.29 .08 4.46 .08 -6.5 .08 2.3 .08 -2.77 .08 4.82 .08 2.81 .08 -.39 .08 -.8 .08 5.76 .08 -4.07 .08 -1.71 .08 1.45 .08 1.39 .08 2.95 .08 -1.06 .08 -1.68 .08 -1.52 .08 -1.26 .08 .35 .08 -1.42 .08 2.96 .08 -.85 .08 -4.75 .08 4.48 .08 3.38 .08 .04 .08 -2.11 .08 2.03 .08 -.78 .08 -3.37 .08 2.48 .08 -8.49 .08 10.69 .08 2.05 .08 .68 .08 -8.83 .08 3.86 .08 1.06 .08 -8.86 .08 2.2 .08 4.49 .08 6.36 .08 -3.66 .08 6.72 .08 -11 .08 7.17 .08 -10.11 .08 5.68 .08 -10.3 .08 10.78 .08 2.49 .08 -5.98 .08 -.88 .08 -1.22 .08 2.79 .08 4.93 .08 -10.3 .08 7.76 .08 -5.77 .08 -2.3 .08 13.7 .08 -4.28 .08 -.87 .08 -4.79 .08 5.62 .08 -3.9 .08 3.14 .08 1.89 .08 2.08 .08 4.12 .08 -6.73 .08 -8.69 .08 2.14 .08 1.77 .08 -6.29 .08 2.29 .08 2.13 .08 .78 .08 -7.58 .08 7.73 .08 8.81 .08 -11.35 .08 3.91 .08 -3.72 .08 .72 .08 2.19 .08 .76 .08 -2.78 .08 4.13 .08 10.43 .08 -15.26 .08 2.67 .08 1.66 .08 -3.65 .08 -5.65 .08 5.09 .08 5.04 .08 -.16 .08 -6.56 .08 -4.18 .08 5.95 .08 10.03 .08 -11.09 .08 5.53 .08 .8 .08 -2.45 .08 .27 .08 -8.36 .08 6.55 .08 .4 .08 1.44 .08 -7.09 .08 4.63 .08 -1.87 .08 5.62 .08 -3.88 .08 -.27 .08 -.68 .08 .7 .08 -1.24 .08 2.46 .08 -2.67 .08 8.18 .08 -5.34 .08 -2.96 .08 2.46 .08 -2.74 .08 10.48 .08 -7.67 .08 14.39 .08 -10.51 .08 -3.98 .08 -1.26 .08 -1.9 .08 4.71 .08 -2.14 .08 2.7 .08 -7.08 .08 -.93 .08 8.07 .08 -4.52 .08 4.88 .08 -3.14 .08 .13 .08 -.19 .08 -1.22 .08 7 .08 -7.11 .08 .6 .08 8.12 .08 -4.3 .08 10.85 .08 -9.97 .08 1.43 .08 .52 .08 -0 .08 -.61 .08 -6.21 .08 7.01 .08 -5.81 .08 3.34 .08 6.16 .08 -3.22 .08 -3.84 .08 5.46 .08 2.74 .08 -8.29 .08 4.95 .08 -8.03 .08 3.95 .08 2.25 .08 -2.17 .08 2.99 .08 -.26 .08 1.99 .08 -4.32 .08 -1.62 .08 6.46 .08 -8.29 .08 7.69 .08 7.67 .08 -7.27 .08 -4.35 .08 5.83 .08 .62 .08 -2.94 .08 2.22 .08 -3.86 .08 1.65 .08 -.2 .08 4.78 .08 -.47 .08 -5.28 .08 -2.9 .08 5.91 .08 -2.92 .08 -2.78 .08 6.83 .08 1.7 .08 -.2 .08 4.48 .08 -4.85 .08 2.41 .08 2.79 .08 -8.53 .08 4.11 .08 1.67 .08 -3.49 .08 -2.45 .08 -.87 .08 10.77 .08 -2.66 .08 -11.06 .08 9.76 .08 2.91 .08 -4.85 .08 -.92 .08 .66 .08 6.34 .08 -4.13 .08 -.68 .08 -1.2 .08 9.17 .08 -10.13 .08 -2.96 .08 -5.63 .08 11.53 .08 -1.38 .08 -5.69 .08 3.23 .08 -6.84 .08 7.58 .08 -4.99 .08 4.54 .08 -4.19 .08 1.61 .08 .36 .08 .75 .08 -4.26 .08 1.96 .08 -1.97 .08 -.12 .08 1.42 .08 -1.19 .08 -1.48 .08 .65 .08 1.89 .08 -5.44 .08 .81 .08 -1.34 .08 -1.47 .08 2.98 .08 3.98 .08 -.94 .08 -9.1 .08 8.81 .08 -1.72 .08 6.91 .08 -3.64 .08 -3.17 .08 -2.51 .08 -6.1 .08 8.5 .08 -.26 .08 -.29 .08 -.54 .08 -1.35 .08 -.48 .08 6.35 .08 -2.16 .08 -4.13 .08 5.2 .08 -6.74 .08 -3.51 .08 2.11 .08 5.23 .08 2.81 .08 2.27 .08 -8.53 .08 -.6 .08 7.23 .08 -8.02 .08 7.14 .08 3.15 .08 -4.04 .08 .26 .08 -9.93 .08 3.4 .08 7.24 .08 -3.98 .08 2.27 .08 -.04 .08 -4.36 .08 3.04 .08 5.7 .08 2.21 .08 -2.44 .08 -3.89 .08 -2.58 .08 1.98 .08 .45 .08 10.01 .08 -8.01 .08 -6 .08 5.24 .08 3.38 .08 2.95 .08 -9.7 .08 -2.41 .08 1.29 .08 2.15 .08 2.92 .08 4.52 .08 -4.91 .08 -4.54 .08 1.59 .08 -1.9 .08 1.75 .08 -.88 .08 5.29 .08 -2.24 .08 .06 .08 -8.18 .08 12.66 .08 -6.34 .08 2.96 .08 4.38 .08 -2.63 .08 -5.89 .08 2.05 .08 .2 .08 -1.35 .08 -6.06 .08 10.2 .08 -2.3 .08 -2.54 .08 13.66 .08 -26.62 .08 13.34 .08 -2.08 .08 1.55 .08 5.94 .08 -5.81 .08 -5.09 .08 3.11 .08 5.08 .08 -6.99 .08 3.93 .08 -4.08 .08 4.74 .08 -2.59 .08 3.49 .08 .09 .08 1.59 .08 -2.48 .08 1.29 .08 -1.07 .08 -.05 .08 -2.74 .08 7.09 .08 -3.05 .08 .39 .08 -4.78 .08 2.04 .08 .2 .08 3.45 .08 2.14 .08 .58 .08 -5.24 .08 -1.28 .08 -10.4 .08 6.41 .08 2.24 .08 7.32 .08 -4.53 .08 -.55 .08 7.41 .08 -12.54 .08 8.9 .08 -.44 .08 1.99 .08 -7.7 .08 5.45 .08 -1.81 .08 -1.52 .08 2.12 .08 5.8 .08 -7.64 .08 6.79 .08 -7.57 .08 8.68 .08 -1.06 .08 -10.44 .08 .03 .08 7.3 .08 .49 .08 -.66 .08 -8.13 .08 11.95 .08 -11.11 .08 7.79 .08 -4.12 .08 5.94 .08 -3.07 .08 4.93 .08 -6.68 .08 -1.69 .08 1.27 .08 .25 .08 2.57 .08 .81 .08 -9.36 .08 10.27 .08 2.52 .08 -17.58 .08 9.49" fill="none" stroke="#000" stroke-width="0.4"/>
<path d="M411 61.6L436 61.6L436.00 68.08l.08 -.12 .08 1.89 .08 -1.65 .08 -0 .08 2.69 .08 -.34 .08 1.96 .08 -2.57 .08 .56 .08 3.1 .08 -1.59 .08 1.27 .08 -.7 .08 3.39 .08 -3.03 .08 2.01 .08 .15 .08 2.18 .08 .01 .08 -.47 .08 1.34 .08 -.93 .08 .3 .08 2.83 .08 -.78 .08 1.9 .08 -1.18 .08 -.5 .08 1.97 .08 .27 .08 .58 .08 -.84 .08 -.09 .08 2.45 .08 -3.09 .08 3.34 .08 -2.12 .08 1.83 .08 -1.79 .08 2.59 .08 .03 .08 -.04 .08 1.75 .08 -4.99 .08 4.18 .08 2.65 .08 -.35 .08 -1.47 .08 .21 .08 .44 .08 -.35 .08 -2.52 .08 4.17 .08 -1.51 .08 3.38 .08 2.01 .08 -3.59 .08 1.99 .08 1.43 .08 1.21 .08 -1.89 .08 -1.76 .08 5.91 .08 -3.9 .08 1.76 .08 -2.75 .08 2.45 .08 -.06 .08 .37 .08 .38 .08 -2.18 .08 4.74 .08 -2.29 .08 -1.07 .08 -.39 .08 -1.37 .08 2.66 .08 .22 .08 -.45 .08 .14 .08 -.55 .08 .45 .08 1.18 .08 -.16 .08 .56 .08 2.71 .08 -7.36 .08 4.18 .08 2.28 .08 .11 .08 -1.47 .08 -.6 .08 5.74 .08 -6.68 .08 5.97 .08 -4.47 .08 -.85 .08 .88 .08 -.4 .08 1.72 .08 4.03 .08 -8.01 .08 4.37 .08 .99 .08 -4.78 .08 3.7 .08 3.6 .08 -4.35 .08 .64 .08 10.06 .08 -9.32 .08 .66 .08 5.94 .08 -5.88 .08 -.61 .08 3.3 .08 -.4 .08 2.15 .08 .36 .08 -2.59 .08 -4.01 .08 1.04 .08 -.99 .08 3.93 .08 1.17 .08 -2.96 .08 -.89 .08 3.6 .08 -.79 .08 -0 .08 -.05 .08 -1.56 .08 2.59 .08 4.78 .08 -5.5 .08 3.75 .08 -5.3 .08 -3.09 .08 8.22 .08 -5.67 .08 7.93 .08 -7.23 .08 -.82 .08 4.26 .08 1.89 .08 -3.29 .08 .67 .08 1.43 .08 -1.17 .08 -1.19 .08 -.5 .08 -1.89 .08 .13 .08 4.41 .08 -2.12 .08 1.09 .08 -1.03 .08 -.65 .08 .58 .08 -1.11 .08 .79 .08 -.2 .08 -.86 .08 8.6 .08 -5.93 .08 -3.84 .08 1.21 .08 3.76 .08 -3.76 .08 .54 .08 3 .08 -3.35 .08 1.2 .08 -.84 .08 2.96 .08 -3.1 .08 .41 .08 4.79 .08 3.37 .08 -2.96 .08 -2.02 .08 -2.35 .08 -1.86 .08 7.17 .08 -2.18 .08 -1.42 .08 -.79 .08 -.94 .08 -4.91 .08 6.12 .08 -5.21 .08 .13 .08 9.47 .08 -3.89 .08 2.21 .08 1.11 .08 -1.82 .08 1.37 .08 -5.52 .08 2.88 .08 -.56 .08 -.78 .08 -.77 .08 5.61 .08 -4.21 .08 3.2 .08 -4.24 .08 3.53 .08 .67 .08 -3.22 .08 7.48 .08 -8.1 .08 2.83 .08 .32 .08 -2.38 .08 4.41 .08 -1.31 .08 4.13 .08 -.21 .08 -.02 .08 -.25 .08 -.13 .08 -6.34 .08 2.95 .08 3.84 .08 -4.31 .08 .84 .08 -2.01 .08 5.34 .08 0 .08 -.2 .08 -.2 .08 1 .08 -.83 .08 1.22 .08 -.44 .08 4.47 .08 -2.44 .08 .75 .08 -4.32 .08 .04 .08 4.89 .08 -4.46 .08 7.63 .08 -8.5 .08 3.81 .08 3.45 .08 .6 .08 -.34 .08 -.12 .08 -6.09 .08 9.4 .08 -4.79 .08 9.07 .08 -11.7 .08 9.44 .08 -4.77 .08 1.39 .08 1.57 .08 -1.1 .08 -.6 .08 -.28 .08 5.54 .08 -6.2 .08 5.59 .08 -2.63 .08 -2.92 .08 -1.39 .08 3.52 .08 1.94 .08 .22 .08 4.57 .08 .63 .08 -7.51 .08 3.15 .08 1.61 .08 -2.87 .08 -2.21 .08 6.8 .08 -.42 .08 -3.52 .08 .3 .08 -3.24 .08 7.69 .08 -4.13 .08 2.75 .08 -3.57 .08 4.98 .08 -8.05 .08 4.48 .08 1.89 .08 -.57 .08 3.85 .08 .73 .08 -.16 .08 -.38 .08 4.37 .08 -7.1 .08 6.73 .08 -2.85 .08 -.21 .08 1.29 .08 -1.61 .08 2.38 .08 1.39 .08 -7.15 .08 2.86 .08 2.91 .08 -2.95 .08 3.94 .08 -.8 .08 -3.09 .08 -1.93 .08 6.25 .08 .17 .08 -.86 .08 1.48 .08 -1.64 .08 3.34 .08 -1.39 .08 .91 .08 .19 .08 .67 .08 -1.48 .08 -.85 .08 4.21 .08 -4.41 .08 -.7 .08 1.57 .08 .81 .08 -2.36 .08 7.41 .08 -4.39 .08 -1.75 .08 11.37 .08 -9.42 .08 2.88 .08 2.84 .08 -1.97 .08 3.86 .08 -5.11 .08 3.96 .08 -2.1 .08 1.32 .08 .06 .08 -7.89 .08 7.75 .08 -1.07 .08 -2.18 .08 1.5 .08 -1.4 .08 6.88 .08 -1.9 .08 -3.04 .08 2.39 .08 .54 .08 -1.03 .08 -4.56 .08 10.16 .08 -1.74 .08 1.46 .08 -1.51 .08 -2.04 .08 -3.27 .08 1.2 .08 9.57 .08 -7.87 .08 .79 .08 1.38 .08 -1.26 .08 1.37 .08 1.96 .08 -3.01 .08 -1.28 .08 6.53 .08 -3.6 .08 .11 .08 1.57 .08 2.26 .08 -1.3 .08 .75 .08 -3.03 .08 -1.44 .08 -.39 .08 4.16 .08 2.17 .08 -2.03 .08 .74 .08 -3.2 .08 -3.1 .08 6.4 .08 -1.05 .08 3.3 .08 -5.39 .08 4.72 .08 -.24 .08 1.48 .08 2.96 .08 -6.13 .08 -1.22 .08 5.97 .08 -5.49 .08 4.25 .08 -.35 .08 4.99 .08 -14.28 .08 8 .08 .32 .08 .45 .08 2.87 .08 -5.12 .08 -2.68 .08 4.07 .08 1.38 .08 -2.35 .08 8.91 .08 -3.17 .08 .31 .08 -2.86 .08 2.84 .08 -7.26 .08 4.51 .08 -5.17 .08 4.62 .08 4.74 .08 -5.76 .08 1.09 .08 7.49 .08 -12.91 .08 8.84 .08 1.46 .08 -3.21 .08 3.58 .08 -1.48 .08 -9.02 .08 6.99 .08 -1 .08 1.2 .08 -3.07 .08 6.48 .08 -4.07 .08 2.59 .08 4.53 .08 .14 .08 -14.18 .08 8.28 .08 2.57 .08 1.02 .08 .44 .08 -3.05 .08 -3.85 .08 -.16 .08 6.71 .08 -8.23 .08 8.13 .08 -9.85 .08 6.63 .08 -.05 .08 3.71 .08 -.42 .08 -2.99 .08 -.36 .08 3.47 .08 -2.9 .08 3.65 .08 -4.71 .08 5.95 .08 -6.01 .08 1.35 .08 -4.58 .08 .95 .08 2.35 .08 .04 .08 .46 .08 5.43 .08 -6.51 .08 5.57 .08 -1.56 .08 -.46 .08 -4.23 .08 -1.89 .08 10.6 .08 -12.48 .08 9.14 .08 -5.78 .08 7.11 .08 4.08 .08 -8.8 .08 4.37 .08 -4.03 .08 -.78 .08 8.09 .08 -7.59 .08 3.09 .08 6.63 .08 -5.89 .08 .94 .08 2.69 .08 -3.57 .08 -4.14 .08 10.27 .08 -7.98 .08 3.77 .08 -1.2 .08 2.42 .08 -2.33 .08 -.7 .08 -1.98 .08 .88 .08 2.6 .08 -.36 .08 -1.35 .08 6.2 .08 -7.6 .08 7.66 .08 -1.34 .08 -1.49 .08 -1.84 .08 -.08 .08 .85 .08 -2.72 .08 5.32 .08 -2.78 .08 -2.04 .08 6.9 .08 -1.83 .08 -8.19 .08 5.34 .08 2.63 .08 1.86 .08 -1.79 .08 -5.37 .08 -.2 .08 5.31 .08 -11.41 .08 13.29 .08 -2.62 .08 -.46 .08 -1.77 .08 -1.87 .08 7.18 .08 -.81 .08 -9.7 .08 3.79 .08 7.2 .08 -.31 .08 -2.19 .08 -1.86 .08 2.64 .08 -1.6 .08 .24 .08 -6.99 .08 9.52 .08 -4.14 .08 -1.32 .08 -.29 .08 -.87 .08 2.51 .08 .26 .08 .36 .08 4.21 .08 -1.55 .08 -2.95 .08 .72 .08 -2.57 .08 6.02 .08 -7.68 .08 .87 .08 3.42 .08 2.55 .08 -7.34 .08 4.48 .08 .76 .08 -2.83 .08 1.38 .08 -.22 .08 -3.29 .08 3.96 .08 -6.16 .08 9.74 .08 -1.32 .08 5.29 .08 -11.13 .08 5.07 .08 -3.83 .08 -.75 .08 6.98 .08 3.31 .08 -5.87 .08 .87 .08 -5.3 .08 1.61 .08 5.3 .08 -3.18 .08 -5.22 .08 3.64 .08 9.09 .08 -10.31 .08 -3.64 .08 3.48 .08 2.97 .08 1.61 .08 -4.06 .08 5.23 .08 -7.11 .08 4.79 .08 -4.93 .08 10.11 .08 -3.49 .08 -7.6 .08 -4.49 .08 -1.43 .08 12.13 .08 -.04 .08 2.49 .08 2.14 .08 -1.71 .08 -7.47 .08 5.16 .08 1.99 .08 -3.85 .08 -2.66 .08 7.1 .08 -6.47 .08 -1.85 .08 .39 .08 7.25 .08 -4.96 .08 -.91 .08 4.84 .08 5.9 .08 -5 .08 -9.67 .08 8.03 .08 5.16 .08 -11.87 .08 7.26 .08 -3.16 .08 -3.13 .08 6 .08 -1.44 .08 -8.79 .08 3.21 .08 4.91 .08 1.04 .08 1.58 .08 -3 .08 -.23 .08 -5.36 .08 3.73 .08 -3.06 .08 4.87 .08 -.02 .08 4.27 .08 -6.23 .08 2.05 .08 -2.87 .08 .49 .08 -4.95 .08 10.38 .08 5.5 .08 -3.95 .08 -10.05 .08 -5.84 .08 7.16 .08 -9.71 .08 9.2 .08 5.51 .08 -6.1 .08 9.38 .08 -2.57 .08 -2.01 .08 -3.6 .08 5.41 .08 -7.24 .08 4.57 .08 -2.89 .08 -2.05 .08 2.71 .08 -.09 .08 5.72 .08 -6.22 .08 -7.5 .08 19.54 .08 -16.88 .08 3.47 .08 7.2 .08 -8.79 .08 9.76 .08 -9.87 .08 -4.34 .08 2.77 .08 .64 .08 4.46 .08 9.51 .08 -1.72 .08 -9.93 .08 1.18 .08 6.92 .08 7.95 .08 -12.56 .08 2.04 .08 -5.22 .08 -.68 .08 -1.7 .08 8.08 .08 -4.83 .08 -1.47 .08 6 .08 -5.44 .08 -2.17 .08 4.16 .08 .97 .08 -.5 .08 -3.26 .08 8.7 .08 -4.75 .08 -14.91 .08 5.49 .08 12.06 .08 -1.05 .08 .24 .08 -4.67 .08 1.19 .08 -3.01 .08 10.72 .08 -4.29 .08 -5.28 .08 5.25 .08 -9.07 .08 .98 .08 3.04 .08 .15 .08 .45 .08 2.69 .08 -2.76 .08 -4.49 .08 9.63 .08 -7.79 .08 2.33 .08 1.55 .08 2.56 .08 -2.3 .08 2.81 .08 -5.34 .08 2.34 .08 -8 .08 7.36 .08 2.91 .08 .9 .08 -2.32 .08 -2.27 .08 1.3 .08 -5.91 .08 5.8 .08 -4.53 .08 10.4 .08 -5.19 .08 3.06 .08 -.94 .08 -3.64 .08 2.54 .08 -7.38 .08 -1.74 .08 2.65 .08 3.32 .08 -3.64 .08 6.88 .08 -.97 .08 .58 .08 .31 .08 8.65 .08 -10.91 .08 .5 .08 .68 .08 .54 .08 -3.57 .08 -.65 .08 11.94 .08 -11.22 .08 .36 .08 2.27 .08 -6.02 .08 3.36 .08 4.08 .08 -6.41 .08 -1.03 .08 3.93 .08 -.74 .08 1.71 .08 4.32 .08 -2.8 .08 -3.1 .08 -5.56 .08 5.51 .08 .35 .08 4.16 .08 -5.06 .08 5.54 .08 -4.28 .08 .28 .08 -3 .08 -3.5 .08 2.73 .08 -1 .08 7.76 .08 2.51 .08 -4.23 .08 2.22 .08 -6.31 .08 3.28 .08 -2.33 .08 .13 .08 7.56 .08 -5.65 .08 -2.62 .08 3.99 .08 -3.98 .08 -1.98 .08 4.27 .08 -3.67 .08 -.13 .08 -7.16 .08 3.16 .08 11.32 .08 .01 .08 -.1 .08 -1.41 .08 -3.73 .08 4.21 .08 .36 .08 -5.18 .08 -1.45 .08 4.47 .08 4.85 .08 -10.19 .08 -.74 .08 5.89 .08 -9.96 .08 4.28 .08 -1.33 .08 7.34 .08 -1.18 .08 -2.68 .08 2.12 .08 4.44 .08 1.2 .08 -2.84 .08 4.82 .08 -6.87 .08 -.94 .08 -7.88 .08 13.61 .08 -10.03 .08 4.38 .08 -2.96 .08 11.02 .08 -10.52 .08 -2.91 .08 12.02 .08 .34 .08 -7.86 .08 -1.56 .08 -.64 .08 7.31 .08 -5.08 .08 3.98 .08 -2.75 .08 -4.36 .08 -.49 .08 2.53 .08 4.76 .08 1.69 .08 -8.59 .08 4.74 .08 1.35 .08 -4.59 .08 9.4 .08 -3.09 .08 2.71 .08 -11.04 .08 6.67 .08 -12.77 .08 13.39 .08 4.21 .08 -6.24 .08 -2.8 .08 8.74 .08 .13 .08 -6.01 .08 -5.57 .08 6.63 .08 1.33 .08 -3.68 .08 3.46 .08 9 .08 -6.76 .08 -7.8 .08 5.33 .08 2.79 .08 .51 .08 .01 .08 -8.52 .08 3.72 .08 -.18 .08 .55 .08 1.9 .08 -8.94 .08 4.35 .08 4.6 .08 -7.83 .08 6.99 .08 -2.21 .08 -5.23 .08 10.21 .08 -6.93 .08 10.5 .08 -6.25 .08 4.7 .08 -2.75 .08 1.51 .08 -5.97 .08 5.12 .08 .46 .08 -6.89 .08 1.48 .08 -7.05 .08 6.14 .08 3.4 .08 3.58 .08 -.76 .08 .2 .08 -13.47 .08 .21 .08 11.74 .08 -5.61 .08 5.28 .08 -1.18 .08 4.35 .08 -12.46 .08 11.03 .08 -2.14 .08 3.28 .08 -10.7 .08 2.82 .08 3.19 .08 -2.1 .08 7.84 .08 -9.51 .08 10.98 .08 -5.68 .08 4.2 .08 -1.12 .08 -8.94 .08 2.58 .08 -3.23 .08 3.28 .08 1.48 .08 -1.36 .08 6.29 .08 -1.46 .08 -5.02 .08 -.03 .08 4.78 .08 1.08 .08 -6.99 .08 3.32 .08 4.77 .08 -6.11 .08 3.53 .08 -1.93 .08 4.99 .08 2.36 .08 -5.77 .08 -.23 .08 7.36 .08 -7.24 .08 -1.26 .08 -2.4 .08 9.68 .08 -16.26 .08 12.87 .08 -.39 .08 -3.82 .08 5.03 .08 .51 .08 -3.71 .08 1.8 .08 .56 .08 -4.81 .08 13.44 .08 -11.94 .08 7.25 .08 -5.66 .08 -2.48 .08 8.38 .08 -3.31 .08 -12.09 .08 13.88 .08 -10.3 .08 11.34 .08 -7.18 .08 6.17 .08 -2.63 .08 -1.09 .08 1.64 .08 .55 .08 -5.3 .08 3.9 .08 -3.09 .08 -1.43 .08 -.88 .08 3.89 .08 -3.01 .08 3.92 .08 -2.56 .08 9.6 .08 -12.23 .08 10.43 .08 -1.59 .08 2.35 .08 -8.35 .08 -.25 .08 4.84 .08 -2.18 .08 .95 .08 -9.46 .08 8.57 .08 1.91 .08 -8.85 .08 9.8 .08 5.87 .08 -6.3 .08 -2.14 .08 -2.13 .08 1.75 .08 -2.34 .08 10.01 .08 -3.4 .08 -3.76 .08 -10.31 .08 6.62 .08 1.28 .08 5.1 .08 -.53 .08 -1.77 .08 8.67 .08 -5.01 .08 .81 .08 -4.37 .08 4.19 .08 -3.79 .08 1.19 .08 2.28 .08 -3.4 .08 6.13 .08 -9.04 .08 1.72 .08 4.84 .08 -11.4 .08 6.58 .08 -1.39 .08 3.33 .08 -1.98 .08 -1.68 .08 6.14 .08 -15.49 .08 9.35 .08 6.48 .08 -4.65 .08 5.51 .08 10.48 .08 -7.34 .08 -5.64 .08 .52 .08 -4.52 .08 11.66 .08 -9.97 .08 2.9 .08 4.46 .08 -8.26 .08 6.19 .08 -4.49 .08 3.31 .08 1.53 .08 5.5 .08 -13.59 .08 -.89 .08 4.99 .08 .03 .08 -8.05 .08 7.24 .08 -1.49 .08 -2.57 .08 -2.35 .08 5.83 .08 7.03 .08 -11.45 .08 6.81 .08 .08 .08 3.34 .08 1.11 .08 -4.08 .08 -2.26 .08 -.46 .08 4.53 .08 -11.32 .08 10.28 .08 1.39 .08 -10.57 .08 9.72 .08 -4.58 .08 5 .08 -1.02 .08 -7.6 .08 6.37 .08 4.63 .08 .98 .08 -9.92 .08 6.71 .08 -9 .08 7.63 .08 4.01 .08 -.36 .08 -5.32 .08 1.54 .08 -4.09 .08 8.14 .08 -4.36 .08 3.9 .08 -7.09 .08 -.33 .08 -2.67 .08 1.02 .08 5.6 .08 -.19 .08 -1.28 .08 7.65 .08 -7.86 .08 -3.15 .08 3.13 .08 -.75 .08 -6.02 .08 1.29 .08 7.26 .08 -5.45 .08 -.69 .08 8.98 .08 -11.51 .08 10.61 .08 -.68 .08 5.68 .08 -12.46 .08 .6 .08 -.63 .08 -4.2 .08 7.43 .08 1.81 .08 -1.55 .08 -3.72 .08 5.93 .08 -9.04 .08 8.8 .08 3.37 .08 -3.7 .08 6.95 .08 -3.38 .08 -3.94 .08 -3.57 .08 8.14 .08 2.76 .08 -15.04 .08 4.79 .08 4.5 .08 -.47 .08 -.55 .08 -2.87 .08 1.81 .08 4.26 .08 -9.1 .08 -1.36 .08 7.27 .08 -13.45 .08 15.48 .08 -10.47 .08 8.19 .08 -3.83 .08 5.36 .08 5.21 .08 -26.73 .08 21.78 .08 -.46 .08 -3.63 .08 .85 .08 3.59 .08 -.21 .08 .56 .08 -4.37 .08 3.7 .08 -1.17 .08 1.63 .08 -6.24 .08 1.41 .08 -1.6 .08 4.06 .08 -2.94 .08 -2.46 .08 7.7 .08 -4.75 .08 10.97 .08 -10.28 .08 -5.12 .08 12.52 .08 -11.03 .08 -2.47 .08 5.7 .08 2.88 .08 -4.9 .08 1.2 .08 1.26 .08 1.44 .08 -1.69 .08 .07 .08 6.37 .08 -7.26 .08 4.19 .08 -7 .08 5.55 .08 -3.67 .08 1.86 .08 -3.58 .08 4.52 .08 2.83 .08 -5.41 .08 -.28 .08 3.41 .08 -1.59 .08 .83 .08 -2.69 .08 5.36 .08 -4.92 .08 4.27 .08 -6.97 .08 -.25 .08 3.5 .08 1.86 .08 2.66 .08 -4.27 .08 -3.58 .08 9.11 .08 -3.25 .08 -1.04 .08 -.41 .08 -6.27 .08 3.39 .08 4.48 .08 -.25 .08 -5.69 .08 1.89 .08 6.98 .08 -3.59 .08 7.41 .08 -12.01 .08 -1.83 .08 -.23 .08 .86 .08 3 .08 -5.68 .08 4.31 .08 1.78 .08 -3.53 .08 11.18 .08 -6.98 .08 -.46 .08 4.45 .08 -5.75 .08 15.41 .08 -12.25 .08 3.65 .08 -5.54 .08 -3.1 .08 5.59 .08 5.66 .08 -11.67 .08 -7.11 .08 10.19 .08 3.38 .08 -4.45 .08 12.84 .08 -12.62 .08 -.69 .08 2.49 .08 -9 .08 3.15 .08 7.07 .08 2.57 .08 -6.1 .08 3.88 .08 -4.07 .08 1.17 .08 1.04 .08 -3.79 .08 1.35 .08 5.33 .08 -.11 .08 -6.71 .08 8.54 .08 -.87 .08 -1.25 .08 -11.07 .08 11.43 .08 -3.6 .08 -3.77 .08 .1 .08 7.55 .08 -3.22 .08 -4.35 .08 4.62 .08 -2.44 .08 7.31 .08 -9.03 .08 3.14 .08 -1.41 .08 -.64 .08 1.48 .08 1.81 .08 1.08 .08 2.17 .08 -5.1 .08 1.83 .08 -2.34 .08 4.44 .08 -1.73 .08 3.58 .08 -1.82 .08 .94 .08 -3.35 .08 6.96 .08 -.25 .08 -7.88 .08 3.74 .08 -5.61 .08 8.1 .08 3.51 .08 -3.76 .08 -.31 .08 1.09 .08 1.95 .08 .54 .08 -5.85 .08 4.76 .08 -4.7 .08 4.69 .08 .9 .08 -1.77 .08 -.31 .08 -8.69 .08 2.4 .08 9.05 .08 -8.02 .08 2.92 .08 -.14 .08 6.74 .08 -13.77 .08 16.57 .08 -15.1 .08 6.85 .08 -1.05 .08 -4.64 .08 1.96 .08 -4.14 .08 10.9 .08 -5.16 .08 2.75 .08 -4.09 .08 .82 .08 5.83 .08 -5 .08 -2.43 .08 1.66 .08 -.92 .08 7.74 .08 -1.33 .08 -4.62 .08 -6.17 .08 7.03 .08 -6.38 .08 7.69 .08 1.16 .08 -4.7 .08 6.52 .08 -8.16 .08 5.19 .08 -.12 .08 -1.13 .08 -6.86 .08 9.33 .08 -5.36 .08 .04 .08 -12.87 .08 11.14 .08 -3.01 .08 7.92 .08 3.71 .08 -5.4 .08 -2.04 .08 1.7 .08 -1.34 .08 1.36 .08 .88 .08 .77 .08 -3.81 .08 5.35 .08 -4.64 .08 3.77 .08 3.46 .08 8.4 .08 -11.73 .08 .07 .08 -2.57 .08 1.55 .08 1.58 .08 3.57 .08 -8.89 .08 -1.4 .08 2.99 .08 14.88 .08 -15.5 .08 7.99 .08 -3.48 .08 5.65 .08 -4.04 .08 -2.92 .08 1.49 .08 -3.34 .08 4.94 .08 -5.49 .08 -2.09 .08 8.93 .08 -5.22 .08 3.47 .08 -1.53 .08 -8.76 .08 3.82 .08 4.47 .08 -.84 .08 2.69 .08 -7.68 .08 6.34 .08 2.48 .08 -4.5 .08 -2.93 .08 8.43 .08 .46 .08 -7.25 .08 -4.13 .08 6.92 .08 -10.53 .08 12.99 .08 -1.87 .08 1.06 .08 -1.63 .08 -5.15 .08 5.51 .08 .79 .08 -2.11 .08 -6.97 .08 9.78 .08 2.15 .08 -8.27 .08 4.38 .08 -6.5 .08 3.53 .08 2.52 .08 -.59 .08 -3.73 .08 1.14 .08 1.28 .08 -1.35 .08 4.09 .08 -7.78 .08 1.57 .08 7.31 .08 -1.61 .08 -2.88 .08 8.34 .08 -7.54 .08 .15 .08 1.13 .08 -1.59 .08 4.37 .08 .18 .08 -1.51 .08 -7.22 .08 4.85 .08 -5.84 .08 7.56 .08 -5.31 .08 -1.15 .08 9.2 .08 -6.48 .08 7.22 .08 -4.46 .08 -2.41 .08 10.16 .08 -6.69 .08 3.13 .08 -5.03 .08 5.55 .08 -6.03 .08 3.86 .08 4.15 .08 -6.41 .08 .1 .08 -3.47 .08 2.52 .08 -.96 .08 3.23 .08 -2.34 .08 4.39 .08 1.2 .08 -5.35 .08 -.72 .08 -6.88 .08 1.18 .08 6.42 .08 -6.05 .08 7.13 .08 .59 .08 4.7 .08 -11.87 .08 8.6 .08 -4.46 .08 -2.43 .08 -2.39 .08 7.48 .08 3.36 .08 -2.37 .08 .39 .08 .13 .08 -1.44 .08 -2.63 .08 -.85 .08 10.13 .08 -3.44 .08 1.04 .08 0 .08 1.14 .08 -8.98 .08 -4.47 .08 8.55 .08 3.79 .08 -11.48 .08 3.73 .08 -6.31 .08 10.14 .08 5.34 .08 -.15 .08 -8.33 .08 -.68 .08 -.09 .08 .51 .08 1 .08 1.75 .08 -3.12 .08 .51 .08 -8.4 .08 12.99 .08 -8.51 .08 2.18 .08 5.08 .08 -.71 .08 -2.24 .08 -3.52 .08 7.7 .08 -5.2 .08 -.8 .08 4.18 .08 -7.82 .08 2 .08 .63 .08 4.06 .08 -2.53 .08 1.7 .08 -5.76 .08 4.79 .08 -4.74 .08 7.3 .08 -6.99 .08 2.53 .08 -1.7 .08 1.43 .08 7.41 .08 -9.66 .08 5.37 .08 -8.22 .08 13.29 .08 -2.84 .08 .67 .08 2.55 .08 -11.8 .08 2.3 .08 7.53 .08 -8.21 .08 1.38 .08 3.73 .08 3.92 .08 -6.23 .08 -1.36 .08 4.12 .08 5.39 .08 -5.84 .08 -2.84 .08 6.67 .08 -2.08 .08 -7.36 .08 3.89 .08 5.97 .08 -13.29 .08 13.64 .08 -2.27 .08 -3.63 .08 -1.23 .08 4.75 .08 -7.86 .08 8.86 .08 -8.15 .08 2.93 .08 4.17 .08 -1.17 .08 -4.49 .08 -8.27 .08 12.26 .08 .48 .08 -7.34 .08 1.15 .08 4.06 .08 1.13 .08 -5.28 .08 5.1 .08 -3.28 .08 2.44 .08 6.75 .08 -7.04 .08 5.07 .08 -6.13 .08 .7 .08 -.23 .08 -6.61 .08 6.31 .08 -3.88 .08 5.73 .08 -2.38 .08 -4.95 .08 2.17 .08 -.21 .08 4.46 .08 .96 .08 -1.7 .08 2.93 .08 7.81 .08 -9.89 .08 -3.52 .08 4.64 .08 -1.88 .08 2.45 .08 .13 .08 .49 .08 3.06 .08 -4.74 .08 7.25 .08 -7.43 .08 3.2 .08 -3.86 .08 -2.44 .08 .08 .08 5.01 .08 -3.27 .08 2.55 .08 3.22 .08 -2.52 .08 -4.82 .08 6.73 .08 -1.66 .08 -9.69 .08 8.09 .08 -3.4 .08 1.93 .08 8.67 .08 -1.77 .08 -5.33 .08 -1.45 .08 3.92 .08 4.13 .08 -5.08 .08 -2.98 .08 3.69 .08 -.66 .08 -.69 .08 7.14 .08 -10.94 .08 1.14 .08 7.52 .08 -.91 .08 -6.73 .08 6.14 .08 -2.38 .08 4.3 .08 -9.92 .08 7.12 .08 3.84 .08 1.07 .08 6.57 .08 -5.71 .08 -2.51 .08 1.58 .08 -3.69 .08 6.94 .08 -4.68 .08 -.94 .08 -2.08 .08 -.29 .08 2.59 .08 9.01 .08 -4.89 .08 -8.64 .08 4.72 .08 .28 .08 .09 .08 .91 .08 -.82 .08 -4.83 .08 13.86 .08 -16.46 .08 4.89 .08 -2.69 .08 7.13 .08 -3.44 .08 .36 .08 -5.82 .08 2.34 .08 3.91 .08 1.39 .08 -9.08 .08 5.87 .08 -4.04 .08 13.6 .08 -7.5 .08 -2.17 .08 -1.89 .08 7.57 .08 -3.8 .08 -1.78 .08 -4.19 .08 10.43 .08 -8.96 .08 3.84 .08 -6.61 .08 7.19 .08 -4.66 .08 13.33 .08 -29.95 .08 24.21 .08 .79 .08 -3.13 .08 -1.13 .08 5.97 .08 1.37 .08 -3.58 .08 -5.98 .08 10.15 .08 -4.05 .08 6.56 .08 -9.11 .08 13.56 .08 -10.85 .08 6.96 .08 -4.17 .08 .25 .08 -4.38 .08 1.34 .08 -1.98 .08 3 .08 -11.71 .08 3.81 .08 7.71 .08 1.74 .08 -5.39 .08 8.31 .08 -1.61 .08 -1.94 .08 -3.3 .08 3.8 .08 -13.86 .08 10.55 .08 1.52 .08 -2.41 .08 -3.97 .08 -.21 .08 4.18 .08 -1.52 .08 6.05 .08 -2.15 .08 -4.72 .08 .13 .08 2.32 .08 1.65 .08 -4.45 .08 3.85 .08 .07 .08 -.9 .08 -1.18 .08 -2.9 .08 -1.86 .08 5.42 .08 .02 .08 3.73 .08 -4.53 .08 .11 .08 5.73 .08 -6.81 .08 .47 .08 3.75 .08 -4.22 .08 -4.84 .08 5.82 .08 1.83 .08 -8.6 .08 4.96 .08 3.39 .08 -1.85 .08 10.16 .08 -2.52 .08 -9.91 .08 -4.12 .08 7.65 .08 8.21 .08 -2.69 .08 -6.29 .08 .49 .08 -13.69 .08 10.07 .08 1.55 .08 .52 .08 .09 .08 5.45 .08 2.74 .08 -4.95 .08 .02 .08 -4.77 .08 2.55 .08 4.93 .08 -15.83 .08 3.1 .08 11.51 .08 -5.51 .08 -1.12 .08 .48 .08 8.77 .08 -7.02 .08 5.84 .08 -4.25 .08 -.68 .08 -1.42 .08 -.86 .08 .88 .08 -4.36 .08 3.98 .08 4.12 .08 -8.47 .08 .15 .08 7.59 .08 -5.81 .08 4.43 .08 -11.15 .08 1.26 .08 9.68 .08 -4.32 .08 -.12 .08 .54 .08 2.12 .08 -.66 .08 -4.94 .08 4.29 .08 .3 .08 1.9 .08 -6.24 .08 9.18 .08 -4.11 .08 -6.36 .08 -1.05 .08 6.19 .08 2.9 .08 2.27 .08 -5.87 .08 -.22 .08 4.16 .08 .22 .08 -.76 .08 .63 .08 1.55 .08 -4.56 .08 -1.41 .08 .78 .08 .71 .08 2.9 .08 4.33 .08 -7.6 .08 3.13 .08 -3.99 .08 5.55 .08 -2.22 .08 2.94 .08 1.18 .08 -3.72 .08 .26 .08 .85 .08 -.26 .08 -3.87 .08 3.02 .08 3.49 .08 -9.34 .08 .44 .08 6.3 .08 -2.56 .08 -3.57 .08 11.61 .08 -16.88 .08 3.95 .08 -4.3 .08 10.52 .08 -3.29 .08 -.25 .08 -6.89 .08 8.35 .08 -4.03 .08 5.24 .08 -4.52 .08 -.22 .08 3.67 .08 2.23 .08 1.9 .08 -2.02 .08 -2.3 .08 -4.17 .08 6.91 .08 -1.81 .08 1.09 .08 -1.15 .08 -6.16 .08 -.22 .08 -.2 .08 4.59 .08 -4.14 .08 -5.01 .08 3.66 .08 4.65 .08 2.6 .08 .97 .08 -.84 .08 -4.48 .08 3.66 .08 1.46 .08 -1.95 .08 1.2 .08 -.52 .08 -1.27 .08 -3.32 .08 5.52 .08 3.11 .08 -1.23 .08 -8.04 .08 1.36 .08 10.56 .08 -10.6 .08 1.52 .08 3.58 .08 1.66 .08 -10.4 .08 4.55 .08 5.51 .08 -4.5 .08 -6.03 .08 3.6 .08 -.57 .08 5.15 .08 -1.65 .08 3.19 .08 2.23 .08 -7.9 .08 7.2 .08 3.51 .08 -16.62 .08 9.02 .08 -2.36 .08 3.33 .08 -3.61 .08 5.05 .08 -1.97 .08 -1.71 .08 3.8 .08 -7.19 .08 -.22 .08 9.36 .08 -5.25 .08 3.72 .08 5.3 .08 -13.33 .08 -3.2 .08 16.13 .08 -1.13 .08 -9.57 .08 1.3 .08 5.11 .08 2.88 .08 -11.65 .08 15.18 .08 -7.22 .08 .52 .08 2.41 .08 -2.44 .08 1.44 .08 -4.44 .08 .26 .08 2.12 .08 3.36 .08 -5.39 .08 -5.45 .08 1.71 .08 1.1 .08 -3.89 .08 7.76 .08 -6.83 .08 5.73 .08 .85 .08 3.28 .08 1.15 .08 .68 .08 -8.36 .08 -.95 .08 7.59 .08 -11.56 .08 3.32 .08 5.04 .08 2.59 .08 -3.77 .08 5.39 .08 -10.61 .08 2.94 .08 -1.16 .08 1.74 .08 3.54 .08 -8.43 .08 7.91 .08 -.83 .08 -4.86 .08 3.9 .08 -.07 .08 -5.46 .08 7.22 .08 .61 .08 1.91 .08 3.05 .08 -14.22 .08 12.09 .08 -7.22 .08 4.66 .08 -7.82 .08 11.14 .08 -4.32 .08 -8.18 .08 10.34 .08 -5.61 .08 4.06 .08 -2.34 .08 4.55 .08 6.73 .08 -9.98 .08 2.54 .08 -6.03 .08 4 .08 .93 .08 4.54 .08 -10.46 .08 7.09 .08 1.84 .08 -3.89 .08 -1.13 .08 .07 .08 4.31 .08 -3.73 .08 .72 .08 -4.39 .08 6.3 .08 -3.6 .08 .53 .08 -1.07 .08 .75 .08 1.2 .08 3.15 .08 2.39 .08 -6.52 .08 -.71 .08 3.7 .08 -2.54 .08 -2.7 .08 -1.18 .08 2.15 .08 2.97 .08 -5.36 .08 -1.75 .08 2.51 .08 -2.65 .08 2.54 .08 4.33 .08 -.14 .08 -2.96 .08 -2.72 .08 -3.28 .08 6.43 .08 -.54 .08 5 .08 -9.11 .08 8.36 .08 -3.55 .08 .1 .08 5.43 .08 -9.35 .08 3.04 .08 -1.42 .08 8.93 .08 -7.46 .08 1.15 .08 -5.07 .08 6.71 .08 -1.38 .08 -4.27 .08 3.56 .08 -.29 .08 2.79 .08 -6.89 .08 3.29 .08 .88 .08 -.7 .08 2.28 .08 -7.07 .08 1.49 .08 15.8 .08 -2.77 .08 -8.81 .08 3.24 .08 1.81 .08 1.49 .08 -16.47 .08 8.79 .08 7.05 .08 -5.26 .08 6.71 .08 -11.96 .08 16.35 .08 -5.13 .08 -6.23 .08 3.71 .08 3.92 .08 -.83 .08 -6.35 .08 9.95 .08 -4.38 .08 -3.89 .08 -.05 .08 -3.5 .08 4.46 .08 3.82 .08 -2.92 .08 7.26 .08 -2.45 .08 -3.55 .08 4.21 .08 -8.42 .08 8.36 .08 -1.7 .08 -5.89 .08 4.23 .08 2.26 .08 -1.47 .08 -6.67 .08 13.97 .08 -13.87 .08 20 .08 -19.49 .08 8.42 .08 -1.75 .08 2.8 .08 .34 .08 -.36 .08 .86 .08 4.53 .08 -7.85 .08 .38 .08 4.19 .08 -10.06 .08 7.57 .08 1.46 .08 -1.14 .08 -2.76 .08 1.6 .08 6.86 .08 -7.9 .08 -.18 .08 9.39 .08 .12 .08 -8.72 .08 1.76 .08 3.8 .08 -6.83 .08 .5 .08 2.25 .08 -5.29 .08 3.84 .08 1.04 .08 1.76 .08 2.83 .08 2.09 .08 -1.6 .08 -7.84 .08 4.88 .08 3.5 .08 -1.16 .08 -1.42 .08 -7.43 .08 2.64 .08 8.32 .08 1.29 .08 -4.63 .08 -4.67 .08 4.74 .08 -2.08 .08 .51 .08 -8.26 .08 6.61 .08 2.99 .08 2.86 .08 -3.52 .08 3.89 .08 .18 .08 .67 .08 .7 .08 -5.51 .08 5.47 .08 -4.48 .08 -10.66 .08 8.91 .08 5.77 .08 -7.59 .08 7.61 .08 -8.77 .08 9.28 .08 -8.22 .08 1.68 .08 2.36 .08 -4.96 .08 -.94 .08 -2.19 .08 2.97 .08 1.89 .08 2.54 .08 -.39 .08 -.57 .08 -1.62 .08 -4.75 .08 5.66 .08 -1.7 .08 -4.37 .08 8.34 .08 -4.52 .08 4.22 .08 3.01 .08 -6.18 .08 -.64 .08 -1.38 .08 -.43 .08 -5.32 .08 8.1 .08 7.52 .08 -7.19 .08 -2.97 .08 1.1 .08 -1.05 .08 1.26 .08 .87 .08 -3.36 .08 -2.02 .08 5.2 .08 -.69 .08 -2.77 .08 3.79 .08 1.01 .08 -4.11 .08 8.37 .08 -4.46 .08 -9.25 .08 4.5 .08 2.02 .08 -3.91 .08 3.67 .08 -.73 .08 -3.66 .08 7.83 .08 -3.44 .08 -6.98 .08 .4 .08 10.62 .08 -11.86 .08 6.21 .08 2.3 .08 -1.41 .08 -1.84 .08 -5.28 .08 1.54 .08 -3.56 .08 8.82 .08 .38 .08 -9.04 .08 -2.53 .08 11.26 .08 -3.68 .08 -2.94 .08 16.52 .08 -13.4 .08 -1.82 .08 .06 .08 .05 .08 2.25 .08 1.23 .08 2.56 .08 -8.6 .08 5.43 .08 5.18 .08 -9.3 .08 3.38 .08 -4.92 .08 -3.55 .08 12.36 .08 -2.13 .08 -4.63 .08 .74 .08 -1.28 .08 1.29 .08 -.24 .08 2.84 .08 -1.93 .08 -.48 .08 -12.27 .08 13.79 .08 2.28 .08 -5.66 .08 -2.8 .08 -1.53 .08 1.21 .08 3.17 .08 2.56 .08 -4.94 .08 4.79 .08 3.61 .08 -6.95 .08 4.25 .08 .99 .08 -2.18 .08 -6.57 .08 3.51 .08 .22 .08 13.37 .08 -12.3 .08 5.76 .08 -11.1 .08 7.91 .08 -7.64 .08 2.96 .08 6.52 .08 -4.07 .08 .7 .08 7 .08 -8.74 .08 3.95 .08 -4.67 .08 6.46 .08 -11.17 .08 8.15 .08 -.79 .08 .67 .08 -.22 .08 3.8 .08 2.32 .08 -6.95 .08 -6.78 .08 7.77 .08 -3.49 .08 -.09 .08 1.02 .08 3.45 .08 -2.59 .08 .91 .08 2.19 .08 -4.25 .08 -.97 .08 6.57 .08 -3.55 .08 -.62 .08 2.25 .08 9.03 .08 -9.95 .08 -.64 .08 .25 .08 -2.96 .08 5.93 .08 -3.17 .08 4.95 .08 -1.32 .08 -1.41 .08 -.94 .08 5.89 .08 -8.4 .08 4.4 .08 -11.41 .08 4.67 .08 5.06 .08 4.7 .08 -3.02 .08 -.07 .08 -7.8 .08 -.76 .08 10.93 .08 2.75 .08 -3.34 .08 -3.57 .08 1.2 .08 -.92 .08 -8.55 .08 7.73 .08 -.41 .08 -1.35 .08 5.77 .08 -3.59 .08 -.22 .08 -.18 .08 -3.94 .08 6 .08 5.01 .08 -4.2 .08 .23 .08 -3.75 .08 1.23 .08 4.83 .08 -5.73 .08 4.47 .08 -5.79 .08 .67 .08 2.86 .08 -.38 .08 -2.96 .08 10.83 .08 -4.78 .08 -.12 .08 -3.62 .08 6.35 .08 -7.46 .08 -2.32 .08 1.5 .08 -8.74 .08 7.74 .08 -2.46 .08 6.49 .08 1 .08 -2.05 .08 8.04 .08 -7.06 .08 4.44 .08 -6.78 .08 -.31 .08 .76 .08 3.46 .08 5.21 .08 -10.14 .08 13.84 .08 -9.71 .08 .48 .08 2.16 .08 -4.81 .08 .39 .08 -1.6 .08 7.15 .08 -16.64 .08 17.13 .08 .23 .08 -.55 .08 -2.21 .08 -.72 .08 3.61 .08 -10.05 .08 1.06 .08 3.24 .08 -.27 .08 4.75 .08 4.49 .08 -11.21 .08 -1.79 .08 5.73 .08 -.58 .08 3.73 .08 -3.9 .08 5.05 .08 -5.02 .08 -9.8 .08 9.1 .08 -.97 .08 -5.38 .08 8.04 .08 -2.11 .08 -8.31 .08 9.7 .08 -9.19 .08 10.66 .08 -4.88 .08 2.36 .08 2.64 .08 -4.07 .08 8.42 .08 -11.17 .08 6.08 .08 -6.18 .08 9.65 .08 -10.51 .08 7.04 .08 -3.67 .08 .81 .08 5.4 .08 -3.64 .08 5.41 .08 -17.96 .08 8.5 .08 -3.1 .08 6.94 .08 2.34 .08 4.44 .08 -7.38 .08 4.8 .08 -6.13 .08 -2.14 .08 7.99 .08 9.03 .08 -7.01 .08 -10.85 .08 6.9 .08 -5.86 .08 3.89 .08 2.66 .08 .86 .08 -5.8 .08 3.73 .08 3.7 .08 -8.55 .08 3.39 .08 -.12 .08 -2.78 .08 -1.92 .08 1.95 .08 1.57 .08 12.35 .08 -12.08 .08 -5.61 .08 13.74 .08 -6.4 .08 -.68 .08 -5.39 .08 3.5 .08 7.93 .08 -8.59 .08 -2.83 .08 8.11 .08 -1.85 .08 -3.47 .08 -1.21 .08 1.08 .08 .56 .08 3.5 .08 -4.01 .08 4.02 .08 -9.57 .08 10.54 .08 -6.57 .08 .83 .08 5.87 .08 .03 .08 -.87 .08 -8.73 .08 -1.89 .08 2.11 .08 4.23 .08 7.53 .08 -6.14 .08 2.27 .08 3.47 .08 -7.6 .08 .96 .08 2.21 .08 -3.47 .08 1.98 .08 6.86 .08 -7.7 .08 2.81 .08 -.11 .08 -5.57 .08 5.73 .08 -6.75 .08 2.59 .08 .54 .08 1.4 .08 2.21 .08 -3.08 .08 -3.22 .08 8.65 .08 -2.21 .08 .78 .08 -.88 .08 -3.47 .08 4.09 .08 -6.24 .08 4.51 .08 -8.41 .08 9.33 .08 -1.9 .08 -1.7 .08 3.11 .08 -1.15 .08 .83 .08 -4.56 .08 .02 .08 6.3 .08 2.04 .08 -7.67 .08 -2.18 .08 -1.27 .08 9.39 .08 -9.52 .08 9.04 .08 -7.69 .08 9.67 .08 -11.25 .08 5.15 .08 1.34 .08 -.4 .08 -2.81 .08 1.27 .08 .81 .08 3.07 .08 -2.28 .08 -3.18 .08 15.43 .08 -16.39 .08 5.34 .08 -3.11 .08 4.78 .08 -9.57 .08 3.4 .08 2.65 .08 -5.12 .08 4.87 .08 -5.62 .08 -1.68 .08 12.57 .08 -8.29 .08 .19 .08 3.18 .08 -.26 .08 -3.28 .08 -2.84 .08 3.23 .08 6.59 .08 -7.75 .08 3.54 .08 -1.19 .08 .96 .08 -2.66 .08 -.45 .08 -1.11 .08 -4.68 .08 8.64 .08 4.54 .08 -10.67 .08 10.76 .08 4.33 .08 -7.41 .08 -.64 .08 -3.96 .08 .72 .08 -5.99 .08 7.77 .08 -5.75 .08 -1.29 .08 6.73 .08 3.9 .08 4.06 .08 -3.71 .08 -11.19 .08 -1.87 .08 8.6 .08 -6.83 .08 -1.07 .08 8.17 .08 -2.81 .08 5.1 .08 -5.29 .08 -2.16 .08 -.6 .08 .4 .08 5.91 .08 -.06 .08 -10.35 .08 7.94 .08 -5.45 .08 18.51 .08 -14.02 .08 .57 .08 .71 .08 1.74 .08 9.72 .08 -16.62 .08 7.46 .08 -1.02 .08 -4.92 .08 -1.14 .08 4.77 .08 -4.21 .08 -.23 .08 5.51 .08 -3.21 .08 -.68 .08 .68 .08 -.22 .08 3.42 .08 -4.62 .08 1.89 .08 5.36 .08 -5.5 .08 5.34 .08 -8.25 .08 5.95 .08 -2.37 .08 -.01 .08 -2.3 .08 -3.58 .08 -2.31 .08 8.16 .08 1.37 .08 -.4 .08 -2.95 .08 -6.16 .08 2.45 .08 -3 .08 7.15 .08 -5.47 .08 2.93 .08 5.68 .08 -9.61 .08 5.03 .08 -.98 .08 3.59 .08 2.21 .08 -3.96 .08 .43 .08 .41 .08 -3.74 .08 1.71 .08 9.06 .08 -4.95 .08 -7.26 .08 8.6 .08 .11 .08 -3.23 .08 -2.54 .08 .74 .08 .3 .08 4.64 .08 -6.92 .08 6.04 .08 -3.09 .08 .4 .08 3.32 .08 4.49 .08 -4.09 .08 -5.81 .08 6.6 .08 -5.45 .08 5.39 .08 -3.92 .08 10.76 .08 .5 .08 -.58 .08 -9.67 .08 5.38 .08 1.42 .08 .71 .08 -6.34 .08 2.98 .08 .12 .08 -2.52 .08 3.25 .08 5.36 .08 -8.54 .08 8.28 .08 -6.59 .08 7.35 .08 -7.69 .08 6.66 .08 -2.33 .08 4.06 .08 -2.67 .08 -2.5 .08 -3.92 .08 -1.71 .08 10.19 .08 -10.19 .08 6.53 .08 6.83 .08 -12.67 .08 6.17 .08 -1.29 .08 2.34 .08 .32 .08 -1.33 .08 2.4 .08 -10.78 .08 2.62 .08 5.16 .08 2.57 .08 2.68 .08 -6.82 .08 8.52 .08 -9.13 .08 1.8 .08 1.45 .08 1.6 .08 -7.8 .08 7.62 .08 2.65 .08 -7.07 .08 3.06 .08 2.52 .08 .63 .08 -5.65 .08 6.13 .08 4.66 .08 -5.92 .08 2.25 .08 4.99 .08 -10.05 .08 -1.11 .08 -.66 .08 4.73 .08 -6.55 .08 9.68 .08 -3.61 .08 4.61 .08 .38 .08 -4.59 .08 .24 .08 2.67 .08 -3.92 .08 -3.72 .08 10.58 .08 -3.2 .08 .68 .08 -1.48 .08 -3.63 .08 -.19 .08 -1.33 .08 4.61 .08 -7.25 .08 3.71 .08 1.54 .08 1.92 .08 -.16 .08 3.89 .08 4.07 .08 -12.5 .08 9.5 .08 -5.9 .08 6.23 .08 -13.3 .08 5.56 .08 -5.64 .08 1.81 .08 3.62 .08 .8 .08 2.73 .08 -6.08 .08 .7 .08 -2.03 .08 5.83 .08 -.3 .08 7.23 .08 -20.58 .08 12.77 .08 -9.14 .08 5.5 .08 7.82 .08 -1.56 .08 5.39 .08 -12.72 .08 -3.36 .08 7.2 .08 -8.86 .08 6.02 .08 -4.2 .08 8.27 .08 -4.11 .08 3.2 .08 -4.55 .08 .83 .08 -5.29 .08 5.51 .08 1.45 .08 7.22 .08 -16.29 .08 13.62 .08 1.13 .08 -.92 .08 -3.88 .08 4.47 .08 -3.52 .08 4.5 .08 -7.79 .08 7.08 .08 1.55 .08 -3.36 .08 6.27 .08 -4.82 .08 -6.24 .08 2.81 .08 4.07 .08 -1.41 .08 -2.13 .08 2.13 .08 -14.02 .08 11.48 .08 6.25 .08 -1.78 .08 -.98 .08 .43 .08 -6.59 .08 4.49 .08 .72 .08 1.64 .08 -1.33 .08 .39 .08 -5.83 .08 8.49 .08 -6.9 .08 8.2 .08 -5.64 .08 -4.02 .08 1.92 .08 2.47 .08 -6.39 .08 8.1 .08 -.55 .08 -.61 .08 -2.38 .08 -1.19 .08 3.13 .08 3.8 .08 -7.06 .08 -4.26 .08 1.55 .08 8.42 .08 -2.67 .08 -3.31 .08 3.83 .08 -.83 .08 .63 .08 -2.5 .08 1.83 .08 5.63 .08 -10.29 .08 3.2 .08 -.85 .08 -2.41 .08 1.1 .08 7.44 .08 -9.68 .08 7.28 .08 -6.41 .08 6.72 .08 -3.85 .08 5.29 .08 -4.24 .08 .75 .08 1.32 .08 .49 .08 -4.47 .08 5.11 .08 -2.3 .08 3.77 .08 -8.19 .08 -1.12 .08 8.83 .08 -.5 .08 -3.77 .08 3.63 .08 -1.64 .08 6.23 .08 -.04 .08 -15.21 .08 2.2 .08 3.67 .08 -2.1 .08 10.41 .08 -16.64 .08 2.06 .08 1.97 .08 -.01 .08 -11.52 .08 17.49 .08 -7.05 .08 5.97 .08 11.23 .08 -10.45 .08 -1.45 .08 5.43 .08 -6.74 .08 2.34 .08 7.48 .08 -6.63 .08 1.16 .08 1.12 .08 -8.68 .08 7.02 .08 -2.12 .08 4.25 .08 -4.73 .08 6.4 .08 -4.74 .08 .83 .08 -2.3 .08 3.99 .08 -.52 .08 -7.6 .08 5.69 .08 -1.76 .08 6.12 .08 -3.6 .08 5.82 .08 -2.99 .08 -7.98 .08 3.14 .08 7.13 .08 -4.29 .08 -.68 .08 1.66 .08 3.19 .08 7.09 .08 -12.2 .08 5.12 .08 -9.04 .08 12.13 .08 5.09 .08 -12.07 .08 7.8 .08 -3.79 .08 -1.97 .08 1.64 .08 1.69 .08 -7.06 .08 -.46 .08 -3.26 .08 1.62 .08 11.3 .08 -6.67 .08 7.29 .08 -4.85 .08 5.41 .08 -.09 .08 -2.71 .08 -8.73 .08 8.58 .08 -6.05 .08 2.21" fill="none" stroke="#f00" stroke-width="0.5"/>
<path d="M436.00 71.02l.08 -.72 .08 .35 .08 .14 .08 1.98 .08 .48 .08 .33 .08 .74 .08 -.56 .08 2.53 .08 -1.97 .08 .89 .08 1.07 .08 1.12 .08 -.06 .08 -1.15 .08 2.17 .08 1.12 .08 .47 .08 -.17 .08 .68 .08 .65 .08 1.49 .08 .15 .08 3.1 .08 -2.56 .08 1.97 .08 -.19 .08 .16 .08 .76 .08 -.73 .08 2.61 .08 2.17 .08 -2.02 .08 -2.51 .08 2.6 .08 -.88 .08 1.29 .08 .33 .08 -2.53 .08 6.91 .08 -4.87 .08 1.44 .08 -.51 .08 -2.95 .08 1.6 .08 1.5 .08 1.03 .08 1.23 .08 -.96 .08 -.91 .08 2.64 .08 .12 .08 -.23 .08 1.16 .08 1.57 .08 -.57 .08 -1.09 .08 2.93 .08 1.13 .08 -3.36 .08 .82 .08 -.02 .08 2.27 .08 -4.27 .08 -.59 .08 1.62 .08 3.57 .08 -.2 .08 .41 .08 .47 .08 -1.31 .08 3.37 .08 -4.97 .08 .83 .08 5.42 .08 -1.57 .08 -3.03 .08 .42 .08 .99 .08 -1.74 .08 4.31 .08 .16 .08 .17 .08 .28 .08 2.85 .08 -1.9 .08 -.85 .08 1.44 .08 -4.05 .08 2.43 .08 -4.21 .08 6.06 .08 2.73 .08 -5.37 .08 .06 .08 -1.2 .08 3.54 .08 -2.44 .08 4.23 .08 -2.87 .08 -.69 .08 5.41 .08 -2.12 .08 -2.35 .08 4.21 .08 -3.33 .08 2.42 .08 -.88 .08 2.49 .08 -.73 .08 -2.89 .08 5.53 .08 -2.67 .08 1.55 .08 -3.01 .08 -1.91 .08 3.4 .08 1.69 .08 1.96 .08 -3.23 .08 .72 .08 .59 .08 -3.89 .08 2.11 .08 .16 .08 .95 .08 2.03 .08 -.03 .08 -3.19 .08 .98 .08 1.64 .08 3.47 .08 -4.25 .08 2.84 .08 .49 .08 -6.68 .08 5.95 .08 -5.04 .08 5.56 .08 1.86 .08 -5.84 .08 1.87 .08 -2.8 .08 -.71 .08 3.7 .08 5.79 .08 1.01 .08 -11.53 .08 5.27 .08 -3.58 .08 10.33 .08 -6.18 .08 1.06 .08 .71 .08 -.46 .08 2.63 .08 -.85 .08 -.76 .08 -4.12 .08 1.2 .08 5.12 .08 -2.33 .08 -.41 .08 .15 .08 -1.24 .08 3.5 .08 -1.91 .08 .67 .08 1.16 .08 .34 .08 -2.62 .08 -.18 .08 2.03 .08 -4.24 .08 2.44 .08 -1.06 .08 2.78 .08 4.61 .08 -4.1 .08 -1.19 .08 .56 .08 .03 .08 .19 .08 -2.01 .08 3.44 .08 -4.34 .08 2.73 .08 -.75 .08 .62 .08 -2.3 .08 3.32 .08 -5.35 .08 3.53 .08 1.16 .08 1.43 .08 -3.49 .08 2.52 .08 2.13 .08 -4.32 .08 .14 .08 -.84 .08 4.74 .08 1.98 .08 -4.21 .08 1.06 .08 -3.13 .08 5.04 .08 -1.22 .08 -.79 .08 1.11 .08 -1.63 .08 .21 .08 4 .08 -4.17 .08 1.15 .08 2.38 .08 1.42 .08 -.8 .08 .28 .08 -2.66 .08 5.4 .08 -5.67 .08 3.66 .08 -1.67 .08 -3.07 .08 6.72 .08 -5.88 .08 2.83 .08 -2.13 .08 -1.3 .08 6.35 .08 -.74 .08 -2.5 .08 1.53 .08 -.55 .08 4.83 .08 -2.24 .08 -1.71 .08 1.28 .08 4.8 .08 -4.77 .08 1.11 .08 -.76 .08 -0 .08 -2.69 .08 -1.15 .08 6 .08 2.05 .08 1.4 .08 -1.98 .08 3.71 .08 -4.68 .08 4.35 .08 -5.19 .08 2.76 .08 -.26 .08 .12 .08 -1.93 .08 4.59 .08 -4.32 .08 3.52 .08 1.42 .08 .05 .08 2.42 .08 -6.18 .08 3.95 .08 -1.64 .08 -.47 .08 1.76 .08 .37 .08 1.09 .08 -10.24 .08 10.75 .08 -.74 .08 -1.33 .08 .42 .08 -3.97 .08 5.82 .08 -.09 .08 2.48 .08 -5.47 .08 4.87 .08 2.1 .08 1.87 .08 -1.21 .08 -7.97 .08 4.97 .08 6.63 .08 -1.54 .08 -2.63 .08 -.96 .08 1.59 .08 4.97 .08 -3.58 .08 -.9 .08 -1.71 .08 2.37 .08 -4.94 .08 12.28 .08 -4.83 .08 -3.95 .08 -.8 .08 -.89 .08 .16 .08 2.72 .08 3.27 .08 0 .08 -.22 .08 2.88 .08 -5.91 .08 .27 .08 7.92 .08 -7.27 .08 3.64 .08 -3.7 .08 2.03 .08 -2.37 .08 3.17 .08 3.84 .08 -.41 .08 1.91 .08 -3.2 .08 4.57 .08 -.89 .08 .02 .08 -4.27 .08 5.94 .08 .29 .08 -3.21 .08 -1.08 .08 3.27 .08 5.76 .08 -7.72 .08 7.15 .08 -5.64 .08 -1.36 .08 .26 .08 8.62 .08 -3.35 .08 1.52 .08 -4.94 .08 3.45 .08 -2.29 .08 -1.53 .08 7.31 .08 -4.61 .08 -5.14 .08 6.81 .08 -.95 .08 .02 .08 -.7 .08 4.62 .08 -4.01 .08 2.67 .08 -4.17 .08 6.8 .08 -3.58 .08 -.81 .08 -2.34 .08 7.97 .08 -5.83 .08 8.22 .08 .21 .08 -8.99 .08 4.36 .08 -2.91 .08 3.94 .08 -1.56 .08 3.55 .08 -1.14 .08 .34 .08 -.37 .08 4.79 .08 -7.67 .08 7.35 .08 -5.07 .08 1.27 .08 -1.99 .08 .16 .08 5.65 .08 -2.9 .08 -.92 .08 -1.41 .08 1.08 .08 -.65 .08 2.38 .08 -3.49 .08 1.42 .08 7.05 .08 -6.02 .08 1.8 .08 -3.94 .08 7.03 .08 -4.8 .08 3.05 .08 3.57 .08 -4.41 .08 2.21 .08 5.84 .08 -6.16 .08 .11 .08 -2.35 .08 2.22 .08 -9.09 .08 10.48 .08 -2.87 .08 2.19 .08 3.61 .08 .22 .08 -5.64 .08 9.87 .08 -1.2 .08 -6.9 .08 10.9 .08 -4.71 .08 -4.25 .08 1.32 .08 2.28 .08 -5.78 .08 7.79 .08 1.33 .08 -7.29 .08 9.2 .08 1.77 .08 -4.77 .08 2.85 .08 -4.42 .08 -3.88 .08 8.47 .08 .73 .08 -9.47 .08 7.69 .08 1.24 .08 2.28 .08 -.82 .08 -4.61 .08 -5.18 .08 4.95 .08 10.42 .08 -13.04 .08 9.2 .08 -8.74 .08 7.76 .08 -4.32 .08 1.53 .08 -5.86 .08 13.26 .08 -5.95 .08 5.99 .08 -3.99 .08 .74 .08 -.86 .08 -.42 .08 -1.29 .08 -9.24 .08 7.54 .08 -.12 .08 3.49 .08 -6.55 .08 6.76 .08 11.08 .08 -10.04 .08 -4.8 .08 3.57 .08 -1.41 .08 7.68 .08 -3.96 .08 -3.84 .08 -2.28 .08 -.06 .08 2.91 .08 -3.17 .08 .4 .08 9.2 .08 -6.87 .08 -6.01 .08 9.77 .08 -5.69 .08 3.08 .08 -1.93 .08 -.94 .08 9.57 .08 -5.75 .08 -.3 .08 -5.19 .08 1.82 .08 -11.24 .08 11.55 .08 -4.4 .08 9.15 .08 -2.76 .08 -4.69 .08 .54 .08 .51 .08 4.22 .08 -7.85 .08 5.94 .08 -1.78 .08 -6.32 .08 13.25 .08 -6.89 .08 5.29 .08 -5.3 .08 3.41 .08 -2.28 .08 4.08 .08 -1.1 .08 -3.6 .08 .04 .08 -1.14 .08 10.58 .08 -8.57 .08 9.69 .08 -7.96 .08 -8.75 .08 18.22 .08 -8.5 .08 2.67 .08 .28 .08 -2.42 .08 -1.43 .08 -5.18 .08 1.98 .08 .96 .08 6.5 .08 4.04 .08 -5.46 .08 5.23 .08 -4.74 .08 7.56 .08 -11.13 .08 8.06 .08 -6.57 .08 .8 .08 -6.48 .08 20.93 .08 -13.63 .08 6.5 .08 -14.33 .08 6.9 .08 11.93 .08 -16.31 .08 1.46 .08 10.36 .08 -5.06 .08 3.79 .08 3.82 .08 -6.2 .08 -5.83 .08 3.34 .08 -8.94 .08 6.77 .08 -2.96 .08 8.83 .08 -3.91 .08 -3.92 .08 1.74 .08 4.67 .08 -12.16 .08 12.13 .08 3.24 .08 -.29 .08 -10.86 .08 8.88 .08 -.94 .08 -.54 .08 7.12 .08 -12.79 .08 1.39 .08 -.16 .08 9.01 .08 8.75 .08 -16.26 .08 -4.99 .08 8.25 .08 -14.03 .08 -.02 .08 5.92 .08 -2.17 .08 7.1 .08 -6.19 .08 -2.14 .08 10.36 .08 -.16 .08 .97 .08 -7.44 .08 7.65 .08 1.82 .08 -10.99 .08 4.71 .08 1.62 .08 6.98 .08 -8.93 .08 -2.89 .08 -4.11 .08 1.86 .08 11.77 .08 -5.1 .08 3.83 .08 -.82 .08 -5.35 .08 4.35 .08 -5.97 .08 5.57 .08 -10.62 .08 4.25 .08 9.16 .08 -6.75 .08 -7.39 .08 -6.73 .08 11.23 .08 1.95 .08 4.77 .08 -.23 .08 .02 .08 -2.24 .08 1.35 .08 1.47 .08 -1.4 .08 -1.32 .08 .52 .08 -8.29 .08 17.88 .08 -7.37 .08 -5.91 .08 6.87 .08 -1.23 .08 -3.42 .08 12.81 .08 -27.28 .08 18.84 .08 -6.99 .08 3.61 .08 6.65 .08 -9.66 .08 7.32 .08 -7.04 .08 1.7 .08 5.5 .08 -3.93 .08 -9.41 .08 5.6 .08 -.01 .08 -.6 .08 7.05 .08 -9.49 .08 4.39 .08 -3.58 .08 2.03 .08 1.97 .08 -2.46 .08 10.03 .08 -13.36 .08 10.55 .08 -1.29 .08 -3.18 .08 -2.32 .08 2.09 .08 -5.33 .08 -1.32 .08 3.53 .08 2.42 .08 2.8 .08 .4 .08 5.93 .08 -9.79 .08 -8.51 .08 11.51 .08 -6.73 .08 .74 .08 8.02 .08 -6.18 .08 1.25 .08 -4.65 .08 1.99 .08 2.28 .08 -1.8 .08 -9.99 .08 18.93 .08 -4.65 .08 1.09 .08 -4.49 .08 2.55 .08 -5.41 .08 9.94 .08 -8.32 .08 9.13 .08 -9.96 .08 5.7 .08 -8.91 .08 8.97 .08 -2.75 .08 -1.24 .08 6.61 .08 -5.38 .08 4.05 .08 -.64 .08 -4.28 .08 -2.4 .08 9.02 .08 -4.2 .08 -4 .08 2.43 .08 .73 .08 7.69 .08 -1.59 .08 -7.13 .08 3.55 .08 1.24 .08 -1.59 .08 3.46 .08 -6.22 .08 1.03 .08 1.68 .08 5.96 .08 -2.49 .08 .12 .08 -3.19 .08 -3.9 .08 6.45 .08 -.21 .08 1.36 .08 2.87 .08 -7.94 .08 9.03 .08 -17.2 .08 18.33 .08 -4.54 .08 -6.91 .08 4.58 .08 4.77 .08 -.8 .08 -3.57 .08 5.27 .08 -.61 .08 -6.91 .08 3.06 .08 3.53 .08 1.11 .08 9.24 .08 -2.97 .08 -12.27 .08 -.01 .08 -.51 .08 10.25 .08 -3.18 .08 -3.37 .08 .75 .08 -2.13 .08 -1.79 .08 11.76 .08 -10.73 .08 1.64 .08 -2.67 .08 -3.06 .08 2.21 .08 3.09 .08 -3.18 .08 -4.37 .08 13.92 .08 -6.61 .08 -5.69 .08 9.48 .08 2.11 .08 -5.03 .08 -3.26 .08 -5.09 .08 5.01 .08 7.02 .08 -13.69 .08 9.38 .08 .04 .08 .62 .08 -.24 .08 2.52 .08 -7.3 .08 8.04 .08 -6.46 .08 .07 .08 4.51 .08 1.26 .08 -1.55 .08 -6.81 .08 -.08 .08 6.82 .08 -.48 .08 4.13 .08 -2.44 .08 -2.82 .08 -2 .08 4.45 .08 1.31 .08 -5.21 .08 5.34 .08 -9.19 .08 5.19 .08 3.62 .08 4.58 .08 -12.47 .08 1.99 .08 8.92 .08 -.95 .08 7.69 .08 -13.26 .08 1.31 .08 2.35 .08 4.6 .08 -8.96 .08 2.65 .08 6.71 .08 -10.61 .08 8.63 .08 -8.35 .08 2.26 .08 .36 .08 1.65 .08 .76 .08 3.45 .08 -3.27 .08 -1.15 .08 -9.14 .08 10.87 .08 -.69 .08 -3.41 .08 3.06 .08 -2.04 .08 -4.88 .08 5.53 .08 -3.03 .08 6.88 .08 -.75 .08 -7.95 .08 1.45 .08 2.13 .08 2.47 .08 -.94 .08 4.32 .08 -4.16 .08 -1.77 .08 3.94 .08 -5.08 .08 2.89 .08 -6.36 .08 -2.71 .08 21.43 .08 -4.07 .08 -6.84 .08 -.5 .08 -.43 .08 -.26 .08 -.18 .08 -.91 .08 -8.35 .08 11.02 .08 -10.73 .08 13.3 .08 -8.13 .08 5.55 .08 -6.47 .08 2.28 .08 -2.29 .08 5.67 .08 9.31 .08 -2.46 .08 -10.55 .08 7.32 .08 -11.31 .08 5.59 .08 8.82 .08 -2.73 .08 -6.42 .08 1.55 .08 1.85 .08 -2.88 .08 2.13 .08 1.16 .08 -11.98 .08 15.53 .08 -13.62 .08 3.81 .08 2.06 .08 15.77 .08 -15.98 .08 -11.67 .08 3.03 .08 10.71 .08 -.99 .08 .04 .08 -4.78 .08 7.05 .08 .47 .08 -6.68 .08 -2.78 .08 7.12 .08 -4.01 .08 3.93 .08 1.4 .08 .67 .08 -5.92 .08 6.47 .08 2.9 .08 3.86 .08 -4.91 .08 -4.83 .08 6.21 .08 -3.93 .08 2.14 .08 -10.05 .08 4.81 .08 .75 .08 -.12 .08 7.46 .08 -2.68 .08 -10.4 .08 8.46 .08 -1.17 .08 1.36 .08 .62 .08 -4.3 .08 1.64 .08 -1.35 .08 -5.58 .08 12.33 .08 -8.86 .08 5.39 .08 3.82 .08 -1.4 .08 -8.41 .08 3.92 .08 3.72 .08 .71 .08 -1.57 .08 -4.06 .08 6.84 .08 -1.7 .08 .79 .08 -8.91 .08 4.47 .08 -7.13 .08 6.98 .08 .47 .08 5.86 .08 -8.08 .08 -.39 .08 8 .08 -7.95 .08 16 .08 -11.58 .08 -2.93 .08 -4.75 .08 5.4 .08 8.79 .08 1.97 .08 -13.07 .08 7.19 .08 -10.57 .08 11.39 .08 -4.24 .08 -5.46 .08 7.07 .08 -5.52 .08 6.7 .08 -2.78 .08 -6.51 .08 -1.26 .08 6.01 .08 -1.72 .08 .91 .08 1.34 .08 9.6 .08 -9.17 .08 -5.04 .08 1.28 .08 2.59 .08 15.92 .08 -12.69 .08 3.57 .08 -9.7 .08 4.68 .08 -1.49 .08 5.29 .08 -12.11 .08 -.44 .08 8.04 .08 .45 .08 -8.04 .08 3.77 .08 1.2 .08 9.47 .08 -20.3 .08 12.7 .08 -7.02 .08 8.64 .08 .51 .08 .26 .08 -8.06 .08 8.42 .08 -13.06 .08 10.31 .08 6.32 .08 -10.56 .08 6.69 .08 1.3 .08 -9.96 .08 9.17 .08 -14.36 .08 2.24 .08 9.94 .08 -8.92 .08 5 .08 4.3 .08 6.81 .08 -17.28 .08 7.9 .08 -6.06 .08 7.87 .08 15.31 .08 -9.11 .08 -5.85 .08 -1.3 .08 2.01 .08 11.28 .08 -11.83 .08 -4.64 .08 7.76 .08 .95 .08 -1.14 .08 -8.76 .08 6.72 .08 .27 .08 12.4 .08 -14.18 .08 3.68 .08 -5.93 .08 -8.92 .08 6.58 .08 15.4 .08 -4.78 .08 -2.97 .08 .1 .08 4.43 .08 -12.3 .08 7.05 .08 -8.45 .08 10.9 .08 -2.94 .08 -4.64 .08 3.63 .08 -3.39 .08 4.7 .08 7.73 .08 -1 .08 .95 .08 -8.71 .08 1.32 .08 20.32 .08 -19.71 .08 -2.36 .08 3.8 .08 -.97 .08 -1.89 .08 4.55 .08 7.78 .08 -3.81 .08 2.22 .08 -7.49 .08 4.07 .08 -6.07 .08 7.64 .08 -5.83 .08 1.87 .08 -5.6 .08 12.75 .08 -4.8 .08 .99 .08 -5.01 .08 6.92 .08 -5.61 .08 5.58 .08 -0 .08 -3.6 .08 -4.83 .08 7.4 .08 -.34 .08 -8.42 .08 13.13 .08 -11.37 .08 6.16 .08 -.05 .08 -8.43 .08 2.97 .08 -2.83 .08 6.54 .08 -8.49 .08 11.48 .08 .54 .08 4.77 .08 -15.76 .08 2.37 .08 19.54 .08 -5.56 .08 -5.74 .08 -1.58 .08 -8.46 .08 -1.5 .08 7.81 .08 -1.18 .08 .2 .08 7.25 .08 -6.18 .08 -3.72 .08 1.9 .08 -1.13 .08 5.59 .08 .09 .08 -7.91 .08 14.86 .08 -17.97 .08 17.68 .08 2.66 .08 -23.03 .08 14.59 .08 5.37 .08 -1.52 .08 3.64 .08 -11.17 .08 2.34 .08 -6.56 .08 1.35 .08 8.67 .08 -4.06 .08 -.86 .08 2.7 .08 3.11 .08 10.66 .08 -6.88 .08 -8.42 .08 -1.98 .08 8.13 .08 -1.37 .08 -2.56 .08 1.29 .08 -.9 .08 -5.61 .08 6.94 .08 -3.11 .08 -5.88 .08 6.92 .08 -8.4 .08 8.56 .08 -10.48 .08 15.19 .08 7.41 .08 -8.1 .08 -6.91 .08 -10.15 .08 7.72 .08 1.67 .08 1.53 .08 3.03 .08 1.37 .08 -3.89 .08 -4.84 .08 2.6 .08 2.08 .08 6.1 .08 -3.45 .08 -6.53 .08 4.12 .08 3.75 .08 1.3 .08 -5.82 .08 -8.29 .08 8.23 .08 -.75 .08 -1.27 .08 4.89 .08 5.07 .08 -.57 .08 -11.1 .08 7.14 .08 -7.86 .08 5.06 .08 -1.02 .08 -9.3 .08 12.67 .08 1.61 .08 -6.31 .08 .83 .08 -.67 .08 -3.7 .08 .57 .08 9.26 .08 -5.19 .08 .78 .08 4.22 .08 -.93 .08 -2.88 .08 .9 .08 3.58 .08 -13.15 .08 4.83 .08 -4.36 .08 8.8 .08 -5.47 .08 -3.06 .08 1.09 .08 4.99 .08 4.47 .08 -4.9 .08 -.54 .08 .09 .08 -2.43 .08 1.67 .08 10.79 .08 -3.41 .08 -11.55 .08 10.76 .08 -12.77 .08 8.74 .08 -.61 .08 .86 .08 -1.97 .08 -3.32 .08 4.03 .08 9.5 .08 -5.98 .08 -15.56 .08 11.77 .08 -3.91 .08 5.73 .08 -.97 .08 -6.76 .08 9.2 .08 1.52 .08 -3.25 .08 -2.37 .08 13.15 .08 -15.96 .08 1.78 .08 -4.49 .08 -1.13 .08 10.37 .08 -2.45 .08 -3.29 .08 4.74 .08 -.25 .08 -8.64 .08 1.55 .08 -3.72 .08 9.27 .08 -8.91 .08 .19 .08 7.23 .08 3.22 .08 -16.33 .08 22.49 .08 -13.35 .08 -.84 .08 4.6 .08 -3.67 .08 -5.93 .08 3.74 .08 4.87 .08 6.2 .08 -11.21 .08 13.31 .08 -10.29 .08 1.68 .08 3.82 .08 -6.17 .08 -5.02 .08 16.58 .08 -1.81 .08 -1.3 .08 -7.13 .08 -3.64 .08 -8.51 .08 13.89 .08 1.51 .08 5.44 .08 -6.93 .08 9.04 .08 -7.47 .08 -3.05 .08 6.9 .08 -8.97 .08 1.08 .08 -3.03 .08 1.7 .08 .29 .08 -1.12 .08 10.6 .08 -2.65 .08 -12.11 .08 1.6 .08 6.3 .08 .33 .08 6.54 .08 -11.07 .08 -13.15 .08 14.63 .08 -9.31 .08 19.49 .08 -1.39 .08 1.88 .08 -6.97 .08 1.96 .08 -1.89 .08 -10.61 .08 12.33 .08 -2.14 .08 -2.21 .08 -2.11 .08 19.58 .08 -23.41 .08 3.5 .08 3.52 .08 3.5 .08 -3.3 .08 -10.47 .08 7.55 .08 -.1 .08 2.65 .08 4.91 .08 3.57 .08 -4.93 .08 -5.55 .08 2.66 .08 3.96 .08 -5.96 .08 .61 .08 1.59 .08 4.48 .08 -6 .08 -2.36 .08 -.48 .08 .02 .08 13.24 .08 -9.77 .08 4.38 .08 -3.82 .08 -.23 .08 -6.19 .08 13.39 .08 -3.1 .08 -3.42 .08 -6.06 .08 3.72 .08 -.45 .08 5.66 .08 -5.25 .08 15.08 .08 -6.25 .08 9.96 .08 -14.67 .08 4.79 .08 -.34 .08 1.78 .08 -8.64 .08 5.02 .08 -4.13 .08 3.82 .08 -9.65 .08 9.02 .08 -5.83 .08 -2.51 .08 2.69 .08 3.59 .08 -13.6 .08 15.45 .08 -3.64 .08 -1.04 .08 1.97 .08 -7.11 .08 9.8 .08 -1.18 .08 4.25 .08 3.9 .08 -11.96 .08 6.49 .08 4.36 .08 -5.99 .08 -4.04 .08 3.07 .08 .84 .08 -4.32 .08 6.19 .08 1.6 .08 -14.81 .08 15.2 .08 -12.44 .08 7.77 .08 3.64 .08 -12.02 .08 11.78 .08 .84 .08 6.34 .08 -9.6 .08 3.48 .08 -4.56 .08 2.78 .08 -11.28 .08 14.01 .08 -6.08 .08 1.99 .08 4.12 .08 -7.41 .08 4.09 .08 -5.28 .08 .5 .08 6.6 .08 -7.53 .08 6.31 .08 -8.81 .08 2.47 .08 .62 .08 5.29 .08 -5.37 .08 1.27 .08 -5.4 .08 9.55 .08 .7 .08 -13.5 .08 10.21 .08 2.38 .08 -8.56 .08 8.44 .08 -7.38 .08 7.55 .08 -8.18 .08 2.02 .08 5.61 .08 .23 .08 -12.01 .08 8.5 .08 8.35 .08 -13.16 .08 6.49 .08 .22 .08 -4.18 .08 -1.45 .08 .28 .08 -.72 .08 2.57 .08 8.86 .08 -5.07 .08 -6.38 .08 10.78 .08 -15.19 .08 3.58 .08 5.45 .08 -10.21 .08 8.53 .08 2.63 .08 -1.54 .08 -.89 .08 6.87 .08 -12.36 .08 11.07 .08 -4.16 .08 -5.38 .08 1.8 .08 9.58 .08 -6.36 .08 -.12 .08 -6.97 .08 2.67 .08 1.94 .08 -14.64 .08 8.52 .08 5.24 .08 -5.01 .08 7.49 .08 .98 .08 -2.02 .08 -2.19 .08 3.8 .08 -8.49 .08 -3.73 .08 8.46 .08 .09 .08 -11.75 .08 18.96 .08 4.51 .08 -12.13 .08 2.78 .08 .53 .08 -5.28 .08 5.11 .08 -5.37 .08 1.18 .08 6.63 .08 -14.33 .08 16.77 .08 1.19 .08 -13.28 .08 10.99 .08 -3.59 .08 -6.9 .08 8.22 .08 -.13 .08 -6.29 .08 -2.25 .08 8.63 .08 -5.47 .08 -3.57 .08 4.86 .08 3.63 .08 5.1 .08 -10.45 .08 6.04 .08 1.79 .08 -13.21 .08 10.65 .08 .66 .08 -2.46 .08 6.3 .08 -3.87 .08 -1.47 .08 -.08 .08 -4.92 .08 5.16 .08 -11.41 .08 15.47 .08 -6.45 .08 2.16 .08 -6.04 .08 6.54 .08 -7.45 .08 .04 .08 5.23 .08 .18 .08 -6.4 .08 3.4 .08 -3.32 .08 12.15 .08 3.43 .08 -14.97 .08 10.46 .08 3.45 .08 -.65 .08 -7.73 .08 1.63 .08 1.15 .08 -6.49 .08 1.94 .08 1.69 .08 -1.2 .08 2.93 .08 -3.78 .08 2.44 .08 1.52 .08 -2.51 .08 -3.41 .08 11.04 .08 1.28 .08 -4.75 .08 -5.97 .08 5.14 .08 3.56 .08 -.72 .08 -6.37 .08 1.63 .08 -4.17 .08 3.53 .08 2.55 .08 -9.33 .08 12.88 .08 -8.32 .08 3.56 .08 -.03 .08 -7.97 .08 11.65 .08 -4.19 .08 -2.65 .08 4.54 .08 4.55 .08 -5.77 .08 3.75 .08 5.38 .08 -5.19 .08 -5.77 .08 1.26 .08 .01 .08 -1.84 .08 -.47 .08 6.65 .08 .34 .08 -2.13 .08 3.24 .08 .1 .08 -13.64 .08 7.95 .08 1.44 .08 8.01 .08 -6.07 .08 10.65 .08 -9.96 .08 5.67 .08 -6.46 .08 -2.39 .08 4.74 .08 -4.38 .08 -3.1 .08 4.81 .08 9.47 .08 -6.9 .08 8.03 .08 -9.75 .08 2.29 .08 3.62 .08 -10.33 .08 5.81 .08 7.07 .08 -5.54 .08 2.42 .08 3.06 .08 -.08 .08 -5.63 .08 -3.26 .08 .4 .08 -4.37 .08 17.07 .08 -15.17 .08 -6.95 .08 11.3 .08 4.98 .08 -10.7 .08 -3.56 .08 15.48 .08 -9.55 .08 1 .08 -6.15 .08 2.27 .08 6.58 .08 -.1 .08 -2.08 .08 7.6 .08 -10.97 .08 1.85 .08 .03 .08 -1.15 .08 11.35 .08 -8.23 .08 .47 .08 4.16 .08 -4.22 .08 -3.07 .08 -2.82 .08 1.68 .08 -.32 .08 5.86 .08 -7.1 .08 1.3 .08 2.66 .08 -4.97 .08 1.46 .08 11.36 .08 -4.71 .08 -6.63 .08 3.95 .08 10.68 .08 -8.35 .08 3.49 .08 -3.84 .08 -12.04 .08 7.99 .08 8.09 .08 -8.84 .08 2.45 .08 -3.58 .08 3.96 .08 4.87 .08 -2.74 .08 -3.89 .08 .76 .08 2.17 .08 1.83 .08 -3.48 .08 .07 .08 5.08 .08 -3.86 .08 -2.76 .08 -3.6 .08 18.93 .08 -9.25 .08 -5.81 .08 10.5 .08 -.54 .08 -11.05 .08 4.51 .08 5.09 .08 -2.74 .08 -1.61 .08 8.49 .08 -2.48 .08 -7.49 .08 .45 .08 2.32 .08 -1.5 .08 -3.95 .08 2.71 .08 6.23 .08 -4.13 .08 11.17 .08 -8.26 .08 1.94 .08 -.39 .08 14.83 .08 -18.94 .08 -.16 .08 -1.88 .08 .37 .08 3.58 .08 4.6 .08 -1.59 .08 -7.63 .08 3.44 .08 2.17 .08 1.5 .08 -12.23 .08 3.14 .08 11.26 .08 -.75 .08 -13.55 .08 6.52 .08 -1.51 .08 -1.03 .08 .48 .08 4.1 .08 .63 .08 -4.56 .08 5.7 .08 -4.69 .08 3.45 .08 .28 .08 .16 .08 -3.91 .08 3.48 .08 .41 .08 1.72 .08 6.21 .08 -8.04 .08 .74 .08 -2.18 .08 -.93 .08 -2.56 .08 8 .08 -5.77 .08 -.9 .08 -2.21 .08 -.12 .08 8.76 .08 6.97 .08 -3.63 .08 -11.03 .08 6.47 .08 4.81 .08 -11.85 .08 1.84 .08 -2.97 .08 5.71 .08 -1.48 .08 -8.85 .08 10.11 .08 -2.15 .08 1.68 .08 8.05 .08 -5.72 .08 -.83 .08 2.93 .08 1.11 .08 .86 .08 -1.71 .08 4.8 .08 -7.28 .08 2.3 .08 -8.77 .08 5 .08 8.35 .08 -11.36 .08 6.3 .08 -4.56 .08 .29 .08 -6.45 .08 5.95 .08 3.29 .08 -1.81 .08 .99 .08 -5.52 .08 -.82 .08 4.74 .08 11.24 .08 -12.74 .08 .53 .08 7.28 .08 -8.33 .08 -1.04 .08 7.52 .08 5.34 .08 -8.98 .08 -.68 .08 4.29 .08 -.26 .08 .16 .08 -4.58 .08 -10.95 .08 17.76 .08 -2.75 .08 -1.79 .08 4.43 .08 -4.17 .08 -.28 .08 4.61 .08 -6.87 .08 5.63 .08 -8.35 .08 5.55 .08 2.24 .08 -10.71 .08 1.41 .08 -.17 .08 .96 .08 1.46 .08 -4.94 .08 6.9 .08 -7.08 .08 9.41 .08 -.04 .08 -7.63 .08 2.31 .08 5.45 .08 .74 .08 -2.4 .08 -2.65 .08 -4.68 .08 15.23 .08 -16.7 .08 16.3 .08 -4.02 .08 12.31 .08 -7.1 .08 -1.28 .08 -5.5 .08 .77 .08 -4.19 .08 8.45 .08 -10.6 .08 5.64 .08 -3.47 .08 14.28 .08 -13.32 .08 3.26 .08 3.18 .08 -12.37 .08 13.99 .08 -5.65 .08 -9.54 .08 19.8 .08 -5.93 .08 -2.88 .08 5.92 .08 -11.99 .08 7.58 .08 1.35 .08 -2.52 .08 -1.23 .08 -1.41 .08 2.53 .08 -5.94 .08 3.33 .08 -3.78 .08 -.57 .08 14.96 .08 .1 .08 -14.67 .08 -2.28 .08 9.39 .08 -1.44 .08 2.01 .08 2.98 .08 -2.69 .08 9.91 .08 -5.95 .08 -8.74 .08 -1.24 .08 7.79 .08 2.5 .08 -5.53 .08 -.82 .08 .9 .08 -.86 .08 -1.03 .08 6.85 .08 -11.89 .08 14.01 .08 -13.34 .08 6.33 .08 -2.58 .08 4.96 .08 -6.11 .08 -6.75 .08 17.77 .08 -7.87 .08 6.97 .08 -11.32 .08 9.95 .08 -6.71 .08 -.66 .08 3.76 .08 -3.1 .08 5.96 .08 -6.84 .08 -.64 .08 8.87 .08 -9.57 .08 .25 .08 -2.16 .08 -1.92 .08 5.56 .08 -4.51 .08 4.08 .08 -1.66 .08 7.05 .08 -11.38 .08 8.47 .08 -7.98 .08 8.08 .08 .41 .08 -10.93 .08 12.35 .08 3.58 .08 -12.05 .08 -1.15 .08 2.05 .08 7.65 .08 -10.58 .08 .82 .08 10.46 .08 -3.88 .08 -2.39 .08 -1.89 .08 1.32 .08 1.12 .08 3.94 .08 -9.3 .08 11.33 .08 -8.34 .08 -.57 .08 7.31 .08 -4.45 .08 -1.36 .08 .71 .08 .46 .08 -7.07 .08 7.87 .08 -1.87 .08 -1.86 .08 .63 .08 .66 .08 3.49 .08 -8.74 .08 -.32 .08 6.82 .08 1.86 .08 -6.48 .08 4.4 .08 -5.76 .08 3.81 .08 -4.57 .08 18.85 .08 -15.56 .08 7.98 .08 -7.83 .08 3.95 .08 -7.2 .08 5.14 .08 -16.4 .08 11.7 .08 -3.54 .08 8.03 .08 4.62 .08 -18.04 .08 17.62 .08 -4.33 .08 -5.69 .08 2 .08 -6.25 .08 7.51 .08 -4.86 .08 2.85 .08 .97 .08 5.13 .08 -3.16 .08 -9.91 .08 14.97 .08 -3.18 .08 3.04 .08 8.56 .08 -17.21 .08 9.91 .08 -13.12 .08 -5.48 .08 8.73 .08 2.65 .08 -4.69 .08 7.98 .08 -4.41 .08 -3.4 .08 11.97 .08 -2.9 .08 -11.42 .08 3.02 .08 5.93 .08 -.19 .08 -1.89 .08 -7.46 .08 12.19 .08 -10.11 .08 6.38 .08 8.27 .08 -5.7 .08 -5.97 .08 .93 .08 1.69 .08 .34 .08 -7.66 .08 1.93 .08 7.2 .08 -.39 .08 -.64 .08 -7.33 .08 -1.45 .08 9.04 .08 -.07 .08 -5.04 .08 -1.01 .08 3.43 .08 7.52 .08 -9.44 .08 .19 .08 4.66 .08 .2 .08 -6.76 .08 8.56 .08 -7.93 .08 .31 .08 6.31 .08 -7.86 .08 22.03 .08 -18.61 .08 -2.3 .08 3.27 .08 3.56 .08 -4.79 .08 2.55 .08 6.41 .08 -3.5 .08 -.35 .08 -1.28 .08 1.45 .08 -2.26 .08 -2.02 .08 -4.69 .08 11.92 .08 .53 .08 -4.56 .08 4.64 .08 2.65 .08 -5.09 .08 5.99 .08 -6.99 .08 -5.79 .08 4.56 .08 5.39 .08 -6.19 .08 -12.37 .08 2.24 .08 18.71 .08 -9.47 .08 4.46 .08 2.19 .08 -11.15 .08 -3.94 .08 13.85 .08 -14.81 .08 10.13 .08 -2.94 .08 -.96 .08 5.26 .08 -7.62 .08 10.06 .08 -10.46 .08 .78 .08 6.93 .08 -2.28 .08 -2.2 .08 6.99 .08 -4.94 .08 -.75 .08 4.91 .08 -6.09 .08 15.28 .08 -7.2 .08 -9.77 .08 8.2 .08 3.96 .08 -4.17 .08 -3.64 .08 -2.85 .08 6.85 .08 -2.87 .08 .04 .08 2.27 .08 -4.29 .08 4.19 .08 -11.98 .08 15.46 .08 -7.98 .08 9.63 .08 -.17 .08 .36 .08 -1.4 .08 -6.09 .08 1.57 .08 .36 .08 1.16 .08 -2.11 .08 8.43 .08 -1.47 .08 -7.97 .08 6.99 .08 -2.83 .08 1.36 .08 8.14 .08 -5.92 .08 -3.51 .08 -.16 .08 .45 .08 1.82 .08 -9.8 .08 15.06 .08 .3 .08 -2.43 .08 -.04 .08 -10.49 .08 9.01 .08 6.51 .08 -7.03 .08 -3.52 .08 4.38 .08 -5.68 .08 6.93 .08 1.5 .08 -7.94 .08 10.97 .08 -11.49 .08 5.29 .08 -.57 .08 3.11 .08 2.19 .08 -6.47 .08 .99 .08 1.48 .08 -4.11 .08 4.11 .08 2.35 .08 3.05 .08 -2.54 .08 5.17 .08 -5.2 .08 3.35 .08 -4.1 .08 1.05 .08 2.68 .08 -1.02 .08 -.87 .08 -5.75 .08 22.33 .08 -6.48 .08 -10.37 .08 -1.35 .08 4.78 .08 -2.61 .08 6.87 .08 -1.14 .08 -8.19 .08 9.71 .08 -1.1 .08 -6.28 .08 2.57 .08 -2.45 .08 7.25 .08 5.37 .08 -12.36 .08 11.15 .08 -5.67 .08 -7.64 .08 6.57 .08 -1.66 .08 2.86 .08 -.43 .08 2.36 .08 -7.05 .08 .45 .08 7.21 .08 -3.97 .08 -2.94 .08 9.84 .08 -14.17 .08 -.4 .08 12.72 .08 -6.94 .08 4.01 .08 -12.54 .08 14.38 .08 1.12 .08 -6.36 .08 -5.54 .08 13.71 .08 -3.11 .08 2.93 .08 -6.13 .08 -2.01 .08 -.2 .08 -2.51 .08 12.59 .08 -12.24 .08 -.36 .08 -1.77 .08 5.83 .08 -9.44 .08 11.6 .08 -2.28 .08 -.23 .08 5.67 .08 2.82 .08 -7.65 .08 .11 .08 -1.93 .08 .79 .08 1.39 .08 -6.6 .08 .42 .08 3.76 .08 -5.74 .08 10.27 .08 -3.86 .08 -6.02 .08 -1.44 .08 5.89 .08 .7 .08 -1.5 .08 3.02 .08 -3.07 .08 3.77 .08 -5.72 .08 -.89 .08 -.89 .08 2.42 .08 7.22 .08 -9.81 .08 7.46 .08 -5.72 .08 -2.45 .08 7.16 .08 -1.76 .08 -3.45 .08 14.25 .08 -16.86 .08 9.12 .08 -3.99 .08 -6.81 .08 5.6 .08 -.8 .08 -4.03 .08 8.34 .08 -.11 .08 -1.02 .08 -10.27 .08 -9.73 .08 9.33 .08 8.87 .08 -4.91 .08 4.96 .08 -4.79 .08 -5.79 .08 1.09 .08 5.24 .08 -1.95 .08 3.13 .08 -2.35 .08 .43 .08 -.86 .08 2.39 .08 .41 .08 -1.77 .08 4.09 .08 -3.8 .08 3.53 .08 -20.87 .08 17.25 .08 -6.17 .08 6.21 .08 -.81 .08 -.19 .08 2.13 .08 1.97 .08 -3.2 .08 -3.43 .08 -5.87 .08 2.47 .08 .41 .08 2.83 .08 -1.95 .08 -.73 .08 4.43 .08 7.23 .08 -13.74 .08 4.52 .08 -2.27 .08 3.92 .08 -3.94 .08 9.15 .08 -5.76 .08 11.54 .08 -18.4 .08 10.92 .08 -8.51 .08 4.51 .08 -2.43 .08 -.89 .08 13.48 .08 -17.01 .08 3.18 .08 4.71 .08 -.24 .08 5.72 .08 1.73 .08 -11.01 .08 3.67 .08 -2.51 .08 12.33 .08 -13.91 .08 -4.53 .08 11.42 .08 -3.19 .08 -.26 .08 -15.33 .08 22.72 .08 .24 .08 -3.42 .08 -10.42 .08 3.94 .08 11.5 .08 -9.88 .08 -.13 .08 2.12 .08 -11.41 .08 5.89 .08 7.43 .08 .05 .08 -6.21 .08 3.66 .08 3.11 .08 -.85 .08 -5.4 .08 12.82 .08 -12.86 .08 -3.84 .08 5.02 .08 7.95 .08 -4.4 .08 .37 .08 6.29 .08 -9.53 .08 -.11 .08 11.13 .08 -14.55 .08 10.66 .08 -2.73 .08 -7.59 .08 5.96 .08 -2.55 .08 8.36 .08 -2.99 .08 -6.87 .08 -1.37 .08 6.55 .08 -5.87 .08 1.22 .08 4.71 .08 -6.14 .08 3.94 .08 -4.46 .08 4.85 .08 -1.54 .08 .46 .08 10.36 .08 -19.94 .08 13.79 .08 3.18 .08 -14.23 .08 9.09 .08 6.15 .08 -14.43 .08 5.1 .08 2.8 .08 .39 .08 -3.8 .08 4.9 .08 -6.15 .08 6.84 .08 -4.4 .08 -8.45 .08 16 .08 -12.64 .08 -6.27 .08 4.08 .08 11.68 .08 .02 .08 -4.99 .08 -3.99 .08 10.97 .08 -7.01 .08 3.16 .08 -1.18 .08 -3 .08 11.19 .08 -7.64 .08 -9.27 .08 5.06 .08 -3.62 .08 15.32 .08 -.89 .08 2.14 .08 -11.77 .08 4.16 .08 -.69 .08 .22 .08 18.41 .08 -21.05 .08 -2.88 .08 8.3 .08 -11.2 .08 16.01 .08 -8.66 .08 1.85 .08 2.81 .08 -11.41 .08 1.88 .08 2.21 .08 -2.61 .08 -.63 .08 12.9 .08 .57 .08 -14.6 .08 6.38 .08 -1.49 .08 .38 .08 10.05 .08 -7.74 .08 -2.75 .08 -3.13 .08 19.93 .08 -15.71 .08 10.07 .08 -14.08 .08 8.76 .08 -3.11 .08 8.36 .08 -5.76 .08 2.61 .08 .21 .08 -1.5 .08 2.02 .08 2.62 .08 -9.45 .08 3.94 .08 10.21 .08 -14.22 .08 10.32 .08 -13.05 .08 16.25 .08 -16.47 .08 3.54 .08 -2.93 .08 -2.5 .08 4.39 .08 .46 .08 -3.2 .08 -1.3 .08 6.16 .08 -.29 .08 -2.01 .08 -3.1 .08 3.03 .08 11.98 .08 -2.72 .08 -1.36 .08 -.51 .08 -9.28 .08 7.08 .08 -5.33 .08 -5.39 .08 7.43 .08 13.1 .08 -10.93 .08 -4.49 .08 1.49 .08 7.4 .08 -4.59 .08 3.43 .08 .44 .08 -.54 .08 1.41 .08 -7.01 .08 -4.97 .08 1.8 .08 -3.6 .08 3.21 .08 3.49 .08 -5.78 .08 10.65 .08 -12.84 .08 6.28 .08 1.11 .08 -.72 .08 4.9 .08 1.27 .08 -4.94 .08 -12.59 .08 11.1 .08 3.06 .08 -4.41 .08 6.88 .08 -6.26 .08 1.18 .08 .22 .08 -6.19 .08 10.85 .08 -1.43 .08 2.03 .08 -12.82 .08 13.36 .08 2.25 .08 -13.38 .08 4.73 .08 -1.57 .08 7.86 .08 3.56 .08 -5.02 .08 -5.46 .08 -1.14 .08 .09 .08 8.66 .08 -.55 .08 -9.09 .08 8.83 .08 .66 .08 -1.48 .08 -.13 .08 -1.95 .08 -1.68 .08 .33 .08 .38 .08 -6.18 .08 6.57 .08 -2.93 .08 6.91 .08 -10.98 .08 -2.96 .08 12.3 .08 -6.53 .08 -2.95 .08 1.14 .08 7.32 .08 -2.75 .08 -6.38 .08 7.61 .08 -6.02 .08 -1.43 .08 6.03 .08 -5.86 .08 -1.61 .08 2.54 .08 6.47 .08 3.3 .08 -.37 .08 -4.73 .08 10.22 .08 -10.05 .08 .66 .08 .21 .08 -5.37 .08 -10.68 .08 8.05 .08 9.68 .08 -3.05 .08 -9.28 .08 9.55 .08 -6.81 .08 4.63 .08 .7 .08 7.16 .08 -.66 .08 -13.31 .08 8.25 .08 5.97 .08 -2.55 .08 -3.94 .08 1.36 .08 .76 .08 .64 .08 .76 .08 -5.46 .08 -4.88 .08 6.37 .08 2.56 .08 -10.49 .08 7.32 .08 -5.57 .08 11.08 .08 -8.25 .08 6.76 .08 -4.48 .08 .71 .08 -3.62 .08 13.78 .08 -8.18 .08 -1.78 .08 4.62 .08 -9.35 .08 6.65 .08 -.77 .08 -5.11 .08 2.66 .08 -4.62 .08 6.84 .08 -3.25 .08 -5.38 .08 21.39 .08 -15.08 .08 -3.59 .08 4.49 .08 -5.08 .08 5.4 .08 -4.19 .08 -.9 .08 14.06 .08 -17.99 .08 3.12 .08 5.91 .08 -5.18 .08 7.83 .08 2.53 .08 -6.1 .08 -13.64 .08 10.02 .08 3.86 .08 -3.81 .08 5.8 .08 -7.08 .08 3.45 .08 -10.36 .08 12.61 .08 -9.37 .08 4.57 .08 -2.79 .08 -4.46 .08 8.09 .08 -1.77 .08 -.17 .08 3.29 .08 -5.2 .08 5.22 .08 1.7 .08 -4.29 .08 -7.08 .08 -7.83 .08 24.16 .08 -3.62 .08 5.26 .08 -11.77 .08 10.21 .08 -6.5 .08 7.72 .08 -13.5 .08 -6.54 .08 21.51 .08 -7.75 .08 -8.98 .08 1.78 .08 10.16 .08 -9.45 .08 6.43 .08 2.73 .08 -6.01 .08 -7.59 .08 12.99 .08 -4.73 .08 1.62 .08 -10.6 .08 .86 .08 1.9 .08 4.59 .08 3.64 .08 .98 .08 3.1 .08 -17.8 .08 8.98 .08 6.05 .08 -3.17 .08 -3.41 .08 3.45 .08 -7.16 .08 14.78 .08 -8.67 .08 -4 .08 1.87 .08 -2.61 .08 4.35 .08 2.45 .08 -9.84 .08 5.86 .08 -4.28 .08 7.7 .08 -16.27 .08 7.92 .08 12.78 .08 4.3 .08 -4.7 .08 -7.64 .08 -2.32 .08 -3.53 .08 5.32 .08 -3.6 .08 -.64 .08 8.57 .08 -8.75 .08 7.91 .08 -10.19 .08 .89 .08 8.41 .08 1.14 .08 .2 .08 2.42 .08 -.31 .08 6.26 .08 -13.35 .08 1.34 .08 -7.84 .08 10.1 .08 -6.02 .08 5.39 .08 1.48 .08 -.37 .08 -.77 .08 -7.77 .08 6.18 .08 -11.8 .08 12.64 .08 10.24 .08 -16.38 .08 -1 .08 -7 .08 17.47 .08 -5.61 .08 3.65 .08 2.54 .08 -2.86 .08 6.89 .08 -8.43 .08 11.51 .08 -16.34 .08 3.52 .08 1.67 .08 -1.8 .08 2.24 .08 8.75 .08 -5.92 .08 -5.51 .08 7.97 .08 -4.89 .08 .52 .08 -3.55 .08 4.9 .08 9.38 .08 -3.86 .08 -15.06 .08 16.64 .08 -1.91 .08 -5.44 .08 -1.01 .08 .26 .08 2.92 .08 3.92 .08 4.11 .08 -10.06 .08 4.56 .08 -.08 .08 3.33 .08 -4.73 .08 -3.62 .08 2.42 .08 1.89 .08 -.72 .08 2.74 .08 .18 .08 -2.82 .08 -3.24 .08 19.06 .08 -18.41 .08 -3.8 .08 9.75 .08 .46 .08 -5.53 .08 -3.81 .08 2.17 .08 4.74 .08 -16.65 .08 21.97 .08 -4.72 .08 4.47 .08 -1.65 .08 -4.57 .08 1.79 .08 5.7 .08 4.35 .08 -13.41 .08 13.11 .08 -3.02 .08 -2.25 .08 -5.06 .08 4.78 .08 1.45 .08 4.56 .08 -4.03 .08 -2.91 .08 3.06 .08 -7.38 .08 17.06 .08 -8.91 .08 3.95 .08 -6.27 .08 2.92 .08 -10.97 .08 4.84 .08 2.19 .08 -1.86 .08 .13 .08 12.88 .08 -6.56 .08 4.88 .08 -9.52 .08 -2.88 .08 16.58 .08 -6.84 .08 1.77 .08 -4.56 .08 1.01 .08 .93 .08 -.52 .08 2.85 .08 -14.2 .08 14.25 .08 -2.58 .08 9.99 .08 -5.02 .08 -2.53 .08 6.28 .08 -2.95 .08 -5.72 .08 1.9 .08 -3.13 .08 -1.27 .08 10.1 .08 .83 .08 -5.41 .08 3.45 .08 -6.76 .08 -3.7 .08 7.6 .08 -3.15 .08 1.06 .08 13.18 .08 -15.56 .08 5.08 .08 1.81 .08 -7.48 .08 2.07 .08 -4.24 .08 7.19 .08 3.24 .08 1.07 .08 -3.51 .08 1.85 .08 -6.15 .08 -4.31 .08 4.82 .08 11.04 .08 -11.59 .08 5.84 .08 2.8 .08 -7.6 .08 -1.3 .08 13.66 .08 -11.05 .08 -.04 .08 -9.23 .08 8.51 .08 -16.59 .08 19.46 .08 -7.12 .08 2.71 .08 2.56 .08 -6.79 .08 -5.11 .08 12.11 .08 -8.36 .08 .7 .08 4.08 .08 -.94 .08 -6.01 .08 10.18 .08 -1.63 .08 -4.05 .08 .31 .08 -4.29 .08 2.88 .08 -1.11 .08 -1.11 .08 -1.71 .08 .44 .08 4.42 .08 -5.71 .08 7.04 .08 -7.7 .08 1.58 .08 1.28 .08 1.69 .08 -4.84 .08 3.54 .08 .29 .08 4.51 .08 -9.37 .08 7.5 .08 -3.69 .08 -3.82 .08 2.22 .08 6.52 .08 -4.67 .08 -2.34 .08 -7.4 .08 15.32 .08 .99 .08 -5.69 .08 -5.86 .08 12.13 .08 -.86 .08 -12.39 .08 11.68 .08 -1.81 .08 -8.42 .08 -.45 .08 11.03 .08 -12.26 .08 6.04 .08 -.87 .08 3.18 .08 -8.23 .08 2.59 .08 5.43 .08 2.99 .08 -6.14 .08 .02 .08 5.05 .08 -9.53 .08 5.16 .08 -6.43 .08 3.05 .08 -2.51 .08 -.86 .08 6.2 .08 -6.9 .08 13.17 .08 -10.52 .08 1.21 .08 .32 .08 -8.15 .08 8.44 .08 -2.92 .08 -5.21 .08 1.11 .08 2.97 .08 6.8 .08 -13.91 .08 14.05 .08 2.84 .08 -2.04 .08 -4.35 .08 -1.76 .08 -4.3 .08 12.36 .08 -13.37 .08 3.3 .08 4.26 .08 2.95 .08 2.14 .08 1.14 .08 -9.56 .08 6.21 .08 -3.62 .08 3.53 .08 -11.18 .08 5.3 .08 .72 .08 -4.68 .08 9.91 .08 -2.57 .08 -4.31 .08 9.45 .08 -3.01 .08 -1.8 .08 -5.77 .08 2.1 .08 -.7 .08 7.2 .08 10.39 .08 -7.82 .08 -9.41 .08 -7.46 .08 9.9 .08 3.36 .08 -8.13 .08 11.98 .08 -12.22 .08 7.25 .08 -3.71 .08 4.81 .08 -3.63 .08 -10.25 .08 9.02 .08 5.52 .08 1.77 .08 -3.24 .08 -5.96 .08 9.56 .08 -11.56 .08 5.71 .08 -5.59 .08 15 .08 -3.26 .08 -15.29 .08 7.64 .08 -4.5 .08 13.01 .08 -9.84 .08 -.48 .08 -1.19 .08 -1.7 .08 7.29 .08 6.27 .08 -19.29 .08 23.29 .08 -13.22 .08 3.57 .08 1.88 .08 -6.63 .08 1.42 .08 6.42 .08 -6.95 .08 5.47 .08 2.49 .08 -12.7 .08 13.95 .08 -9.76 .08 1.71 .08 -5.87 .08 13.93 .08 -4.6 .08 -12.2 .08 14.02 .08 -8.33 .08 4.49 .08 -1.79" fill="none" stroke="#00f" stroke-width="0.55"/>
<path d="M424 60.6L425 60.2L426.3 60.8L426.5 61.6" fill="none" stroke="#000" stroke-width="1.4"/><path d="M411 61.6H418L419 62H423L424 61.5L424.8 62L425.2 66.8L425.8 62.3L426.5 61.4H428L428.6 62.3L429.5 61.5L431 61.3H436" fill="none" stroke="#00f" stroke-width="0.75"/>
<path d="M51.50 32.50H323.50V251.50H51.50Z" fill="none" stroke="#383838" stroke-width="1.1"/>
<path d="M51.50 32.50H47.50M51.50 90.90H47.50M51.50 149.30H47.50M51.50 207.70H47.50M51.50 61.70H49.50M51.50 120.10H49.50M51.50 178.50H49.50M51.50 236.90H49.50M323.50 76.30H319.50M323.50 120.10H319.50M323.50 163.90H319.50M323.50 207.70H319.50M323.50 54.40H321.50M323.50 98.20H321.50M323.50 142.00H321.50M323.50 185.80H321.50M323.50 229.60H321.50M105.90 32.50V36.50M160.30 32.50V36.50M214.70 32.50V36.50M269.10 32.50V36.50M78.70 32.50V34.50M133.10 32.50V34.50M187.50 32.50V34.50M241.90 32.50V34.50M296.30 32.50V34.50M160.30 251.50V255.50M269.10 251.50V255.50M105.90 251.50V253.50M214.70 251.50V253.50M323.50 251.50V253.50" fill="none" stroke="#3a3a3a" stroke-width="1.1"/>
<path d="M411.00 32.50H683.50V251.50H411.00Z" fill="none" stroke="#383838" stroke-width="1.1"/>
<path d="M411.00 61.70H407.00M411.00 120.10H407.00M411.00 178.50H407.00M411.00 236.90H407.00M411.00 32.50H409.00M411.00 90.90H409.00M411.00 149.30H409.00M411.00 207.70H409.00M683.50 76.30H679.50M683.50 120.10H679.50M683.50 163.90H679.50M683.50 207.70H679.50M683.50 54.40H681.50M683.50 98.20H681.50M683.50 142.00H681.50M683.50 185.80H681.50M683.50 229.60H681.50M465.50 32.50V36.50M520.00 32.50V36.50M574.50 32.50V36.50M629.00 32.50V36.50M438.25 32.50V34.50M492.75 32.50V34.50M547.25 32.50V34.50M601.75 32.50V34.50M656.25 32.50V34.50M520.00 251.50V255.50M629.00 251.50V255.50M465.50 251.50V253.50M574.50 251.50V253.50M683.50 251.50V253.50" fill="none" stroke="#3a3a3a" stroke-width="1.1"/>
<g style="font-family:&quot;Liberation Serif&quot;,serif;font-weight:bold">
<rect x="206.4" y="3.05" width="30.7" height="2" fill="#000"/>
<rect x="297.3" y="3.4" width="35.7" height="2.1" fill="#f00"/>
<rect x="413.3" y="3.3" width="35.7" height="2.2" fill="#0070c0"/>
<text x="255.70" y="8.35" font-size="10.20" textLength="20.20" lengthAdjust="spacingAndGlyphs">vdW</text>
<text x="345.90" y="8.35" font-size="10.20" textLength="55.20" lengthAdjust="spacingAndGlyphs">Electrostatic</text>
<text x="469.30" y="8.35" font-size="10.20" textLength="21.60" lengthAdjust="spacingAndGlyphs">Total</text>
<text x="63.80" y="26.00" font-size="16.00">a</text>
<text x="421.70" y="28.00" font-size="16.00">b</text>
<text x="44.20" y="35.70" font-size="10.90" text-anchor="end" textLength="20.40" lengthAdjust="spacingAndGlyphs">6000</text>
<text x="44.20" y="94.10" font-size="10.90" text-anchor="end" textLength="20.40" lengthAdjust="spacingAndGlyphs">4000</text>
<text x="44.20" y="152.50" font-size="10.90" text-anchor="end" textLength="20.40" lengthAdjust="spacingAndGlyphs">2000</text>
<text x="44.20" y="210.90" font-size="10.90" text-anchor="end" textLength="5.10" lengthAdjust="spacingAndGlyphs">0</text>
<text x="403.40" y="64.90" font-size="10.90" text-anchor="end" textLength="5.10" lengthAdjust="spacingAndGlyphs">0</text>
<text x="403.40" y="123.30" font-size="10.90" text-anchor="end" textLength="18.60" lengthAdjust="spacingAndGlyphs">-400</text>
<text x="403.40" y="181.70" font-size="10.90" text-anchor="end" textLength="18.60" lengthAdjust="spacingAndGlyphs">-800</text>
<text x="403.40" y="240.10" font-size="10.90" text-anchor="end" textLength="23.70" lengthAdjust="spacingAndGlyphs">-1200</text>
<text x="160.30" y="266.80" font-size="10.70" text-anchor="middle" textLength="26.10" lengthAdjust="spacingAndGlyphs">40000</text>
<text x="269.10" y="266.80" font-size="10.70" text-anchor="middle" textLength="26.10" lengthAdjust="spacingAndGlyphs">80000</text>
<text x="519.80" y="266.80" font-size="10.70" text-anchor="middle" textLength="26.10" lengthAdjust="spacingAndGlyphs">40000</text>
<text x="628.60" y="266.80" font-size="10.70" text-anchor="middle" textLength="26.10" lengthAdjust="spacingAndGlyphs">80000</text>
<text x="162.00" y="286.00" font-size="12.50">Time (ps)</text>
<text x="522.00" y="286.00" font-size="12.50">Time (ps)</text>
<text transform="translate(10.6,179.6) rotate(-90)" font-size="12.6" textLength="84.4" lengthAdjust="spacingAndGlyphs">Energy (kj/mol)</text>
<text transform="translate(366.9,179.5) rotate(-90)" font-size="12.6" textLength="84.2" lengthAdjust="spacingAndGlyphs">Energy (kj/mol)</text>
</g>
<rect x="222.5" y="110.5" width="62" height="13" fill="#fff" stroke="#555" stroke-width="1.2"/>
<rect x="511.5" y="110.5" width="62" height="13" fill="#fff" stroke="#555" stroke-width="1.2"/>
<g style="font-family:&quot;Liberation Serif&quot;,serif;font-weight:bold">
<text x="253.65" y="120.60" font-size="10.70" text-anchor="middle" textLength="51.80" lengthAdjust="spacingAndGlyphs">DOX-pH=5</text>
<text x="542.20" y="120.60" font-size="10.70" text-anchor="middle" textLength="51.40" lengthAdjust="spacingAndGlyphs">DOX-pH=7</text>
</g>
</svg>
</body></html>
